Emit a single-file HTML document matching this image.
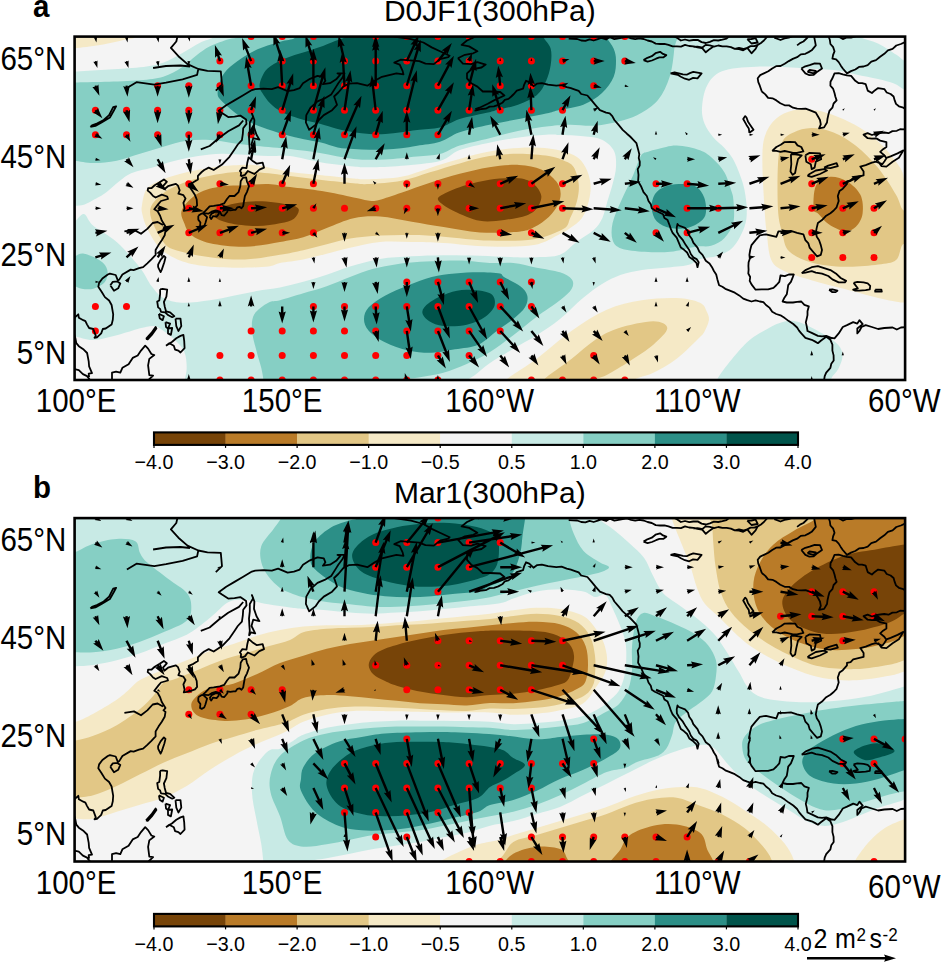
<!DOCTYPE html><html><head><meta charset="utf-8"><style>html,body{margin:0;padding:0;background:#fff;width:943px;height:962px;overflow:hidden}svg{display:block;font-family:"Liberation Sans",sans-serif}</style></head><body>
<svg width="943" height="962" viewBox="0 0 943 962">
<clipPath id="ca"><rect x="74.6" y="36.6" width="830.5" height="343.4"/></clipPath>
<g clip-path="url(#ca)">
<rect x="74.6" y="36.6" width="830.5" height="343.4" fill="#F4F4F4"/>
<g transform="translate(0,0)">
<path d="M68.0,71.5 C68.2,68.0 71.5,71.7 75.0,71.5 C81.2,71.2 94.2,70.4 105.0,69.7 C115.8,69.0 130.3,68.5 140.0,67.3 C149.7,66.1 156.0,65.0 163.0,62.7 C170.0,60.4 175.8,56.6 182.0,53.3 C188.2,50.0 194.7,45.5 200.0,42.8 C205.3,40.1 211.3,39.1 214.0,37.0 C216.7,34.9 212.4,30.0 216.0,30.0 C323.3,28.8 750.7,28.8 858.0,30.0 C861.6,30.0 857.0,35.0 860.0,37.0 C863.3,39.2 872.0,40.5 878.0,43.4 C884.0,46.3 891.5,51.6 896.0,54.5 C900.5,57.4 902.3,59.8 905.0,61.0 C907.7,62.2 911.2,58.6 912.0,62.0 C913.2,67.0 913.2,86.3 912.0,91.0 C911.1,94.4 908.0,91.2 905.0,90.0 C902.0,88.8 898.5,85.3 894.0,83.5 C889.5,81.7 884.3,80.5 878.0,79.0 C871.7,77.5 863.3,76.0 856.0,74.5 C848.7,73.0 843.3,71.2 834.0,70.1 C824.7,69.0 813.0,68.5 800.0,67.9 C787.0,67.3 769.0,66.2 756.0,66.7 C743.0,67.2 730.2,68.0 722.0,71.2 C713.8,74.4 710.3,79.6 707.0,85.7 C703.7,91.8 702.4,101.7 702.0,108.0 C701.6,114.3 702.7,118.7 704.5,123.5 C706.3,128.3 709.7,132.9 713.0,137.0 C716.3,141.1 721.2,144.3 724.5,148.0 C727.8,151.7 730.4,154.5 733.0,159.0 C735.6,163.5 738.1,169.8 740.0,175.0 C741.9,180.2 743.4,184.2 744.5,190.0 C745.6,195.8 746.8,203.9 746.8,210.0 C746.8,216.1 746.7,220.6 744.5,226.7 C742.3,232.8 737.9,242.0 733.4,246.8 C728.9,251.6 723.4,253.7 717.8,255.7 C712.2,257.7 705.0,257.4 700.0,259.0 C695.0,260.6 693.8,263.6 688.0,265.0 C682.2,266.4 672.7,266.9 665.0,267.7 C657.3,268.5 649.3,268.8 642.0,270.0 C634.7,271.2 627.7,272.4 621.0,274.7 C614.3,277.0 608.3,280.1 602.0,284.0 C595.7,287.9 590.0,292.2 583.0,298.0 C576.0,303.8 567.7,312.8 560.0,319.0 C552.3,325.2 544.8,330.0 537.0,335.0 C529.2,340.0 520.8,344.3 513.0,349.0 C505.2,353.7 496.3,358.7 490.0,363.0 C483.7,367.3 478.9,372.0 475.0,375.0 C471.1,378.0 468.2,378.8 466.7,381.0 C465.2,383.2 469.5,387.9 466.0,388.0 C418.9,389.2 230.9,389.0 184.0,388.0 C181.0,387.9 183.9,385.0 184.3,382.0 C184.8,378.7 186.7,373.1 186.7,368.0 C186.7,362.9 186.2,356.4 184.3,351.7 C182.4,347.0 178.5,343.5 175.0,340.0 C171.5,336.5 166.8,333.0 163.3,330.7 C159.8,328.4 157.9,326.4 154.0,326.0 C150.1,325.6 146.2,326.8 140.0,328.3 C133.8,329.9 124.5,333.4 116.7,335.3 C108.9,337.2 100.2,339.8 93.3,340.0 C86.3,340.2 79.2,337.1 75.0,336.5 C71.5,336.0 68.2,340.0 68.0,336.5 C66.8,317.2 66.8,240.2 68.0,221.0 C68.2,217.5 72.3,222.2 75.0,221.0 C77.7,219.8 81.0,213.2 84.0,214.0 C87.0,214.8 87.8,221.0 93.3,225.7 C98.8,230.4 108.9,235.0 116.7,242.0 C124.5,249.0 134.2,260.3 140.0,267.7 C145.8,275.1 147.8,281.2 151.7,286.3 C155.6,291.4 158.2,295.3 163.3,298.0 C168.4,300.7 174.2,302.3 182.0,302.7 C189.8,303.1 201.4,301.5 210.0,300.3 C218.6,299.1 225.5,297.2 233.3,295.7 C241.1,294.1 248.9,292.4 256.7,291.0 C264.5,289.6 272.2,289.1 280.0,287.5 C287.8,285.9 295.5,283.8 303.3,281.7 C311.1,279.6 318.9,277.2 326.7,274.7 C334.5,272.2 341.1,269.1 350.0,266.5 C358.9,263.9 369.7,260.6 380.0,258.9 C390.3,257.2 401.2,256.9 411.8,256.3 C422.4,255.7 432.2,255.3 443.6,255.2 C455.0,255.1 468.4,255.4 480.0,255.7 C491.6,256.0 503.8,256.9 513.3,257.2 C522.8,257.4 528.9,257.6 536.7,257.2 C544.5,256.8 553.3,257.4 560.0,254.8 C566.7,252.2 571.3,245.8 577.0,241.6 C582.7,237.4 589.8,233.6 594.0,229.7 C598.2,225.8 600.1,222.7 602.4,217.9 C604.6,213.1 605.8,206.6 607.5,200.9 C609.2,195.2 611.2,189.7 612.6,184.0 C614.0,178.3 615.8,172.5 616.0,167.0 C616.2,161.5 616.3,155.6 614.0,151.0 C611.7,146.4 607.1,142.2 602.0,139.7 C596.9,137.2 590.3,137.0 583.3,136.2 C576.3,135.4 565.8,135.3 560.0,135.0 C554.4,134.7 554.4,134.2 548.8,134.5 C542.0,134.9 528.9,136.1 519.0,137.5 C509.1,138.9 499.3,140.6 489.4,142.7 C479.5,144.8 467.9,147.1 459.7,150.1 C451.5,153.1 449.7,158.3 440.0,160.9 C430.3,163.5 413.1,164.6 401.3,165.7 C389.6,166.8 377.4,167.2 369.5,167.3 C361.6,167.4 361.5,167.3 353.6,166.5 C345.7,165.7 332.4,164.2 321.8,162.5 C311.2,160.8 298.9,157.2 290.0,156.1 C281.1,155.0 275.8,156.2 268.3,156.0 C260.8,155.8 252.8,155.2 245.0,154.8 C237.2,154.4 229.5,153.5 221.7,153.7 C213.9,153.9 206.1,154.8 198.3,156.0 C190.5,157.2 182.8,158.8 175.0,160.7 C167.2,162.6 159.5,165.4 151.7,167.7 C143.9,170.0 136.1,170.4 128.3,174.7 C120.5,179.0 110.8,189.1 105.0,193.3 C99.5,197.2 96.8,198.1 93.3,200.0 C89.8,201.9 87.0,203.7 84.0,204.7 C81.0,205.7 77.7,205.6 75.0,205.8 C72.3,206.0 68.2,209.3 68.0,205.8 C66.8,183.4 66.8,93.9 68.0,71.5Z" fill="#C8EAE5"/>
<path d="M717.8,388.0 C712.9,387.6 715.2,382.4 717.8,378.2 C722.2,371.0 736.3,353.0 744.5,344.8 C752.7,336.6 760.1,333.1 766.8,329.2 C773.5,325.3 779.0,322.5 784.6,321.4 C790.2,320.3 793.9,320.5 800.2,322.5 C806.5,324.5 816.2,329.9 822.5,333.6 C828.8,337.3 834.8,341.1 838.1,344.8 C841.4,348.5 842.5,351.8 842.5,355.9 C842.5,360.0 840.0,365.6 838.1,369.3 C836.2,373.0 832.6,375.1 831.4,378.2 C830.2,381.3 835.9,387.6 831.0,388.0 C812.1,389.6 736.7,389.6 717.8,388.0Z" fill="#C8EAE5"/>
<path d="M68.0,82.5 C68.3,79.0 71.5,82.6 75.0,82.5 C81.2,82.4 94.2,82.2 105.0,81.8 C115.8,81.4 130.3,81.0 140.0,80.2 C149.7,79.4 156.3,78.9 163.3,76.7 C170.3,74.5 176.6,70.8 182.0,67.3 C187.4,63.8 191.3,59.2 196.0,55.7 C200.7,52.2 204.6,49.0 210.0,46.3 C215.4,43.6 224.0,40.8 228.7,39.3 C233.2,37.8 236.1,38.5 238.0,37.0 C239.9,35.5 236.4,30.1 240.0,30.0 C312.7,28.8 601.6,26.9 674.0,30.0 C683.3,30.4 675.0,40.9 674.3,48.7 C673.6,56.5 672.4,68.2 669.7,76.7 C667.0,85.2 663.1,93.8 658.0,100.0 C652.9,106.2 645.5,110.5 639.3,114.0 C633.1,117.5 628.1,119.0 620.7,121.0 C613.3,123.0 603.5,125.1 595.0,125.7 C586.5,126.3 577.7,124.7 570.0,124.8 C562.3,124.9 557.3,125.3 548.8,126.3 C540.3,127.3 528.9,128.8 519.0,130.8 C509.1,132.8 499.3,135.7 489.4,138.2 C479.5,140.7 467.9,143.0 459.7,145.6 C451.5,148.2 447.1,152.2 440.0,154.0 C432.9,155.8 426.2,155.6 417.0,156.5 C407.8,157.4 395.6,159.1 385.0,159.5 C374.4,159.9 364.4,160.1 353.6,159.0 C342.8,157.9 330.6,154.7 320.0,153.0 C309.4,151.3 300.6,150.2 290.0,149.0 C279.4,147.8 266.1,147.0 256.7,146.0 C247.2,145.0 241.1,144.2 233.3,143.2 C225.5,142.2 217.8,140.4 210.0,140.0 C202.2,139.6 194.5,139.7 186.7,140.8 C178.9,141.9 171.1,144.5 163.3,146.7 C155.5,148.8 147.8,151.4 140.0,153.7 C132.2,156.0 124.5,159.1 116.7,160.7 C108.9,162.2 100.2,163.0 93.3,163.0 C86.3,163.0 79.2,161.1 75.0,160.7 C71.5,160.4 68.3,164.2 68.0,160.7 C66.8,147.7 66.8,95.5 68.0,82.5Z" fill="#86CFC4"/>
<path d="M648.2,151.7 C645.4,152.7 643.5,151.9 641.4,155.1 C638.9,159.1 636.4,167.8 633.0,175.4 C629.6,183.0 624.5,193.0 621.1,200.9 C617.7,208.8 614.0,216.5 612.6,223.0 C611.2,229.5 611.2,235.8 612.6,240.0 C614.0,244.2 615.7,246.4 621.1,248.4 C626.5,250.4 636.6,251.2 644.8,251.8 C653.0,252.4 661.8,252.7 670.3,251.8 C678.8,251.0 688.9,247.7 695.7,246.7 C702.5,245.7 706.3,247.2 711.1,245.7 C715.9,244.2 720.8,241.8 724.5,237.9 C728.2,234.0 731.9,228.6 733.4,222.3 C734.9,216.0 733.8,205.3 733.4,200.0 C733.1,195.1 732.7,195.0 731.2,190.4 C729.7,185.8 727.5,177.7 724.5,172.5 C721.5,167.3 717.5,162.9 713.4,159.2 C709.3,155.5 706.1,152.6 700.0,150.3 C693.9,148.0 683.7,145.7 676.7,145.5 C669.7,145.3 662.8,148.0 658.0,149.0 C653.2,150.0 651.0,150.7 648.2,151.7Z" fill="#86CFC4"/>
<path d="M68.0,256.0 C68.7,252.7 72.0,256.4 74.7,256.0 C77.4,255.6 79.7,252.9 84.0,253.7 C88.3,254.5 96.4,258.0 100.3,260.7 C104.2,263.4 106.5,266.5 107.3,270.0 C108.1,273.5 107.3,278.6 105.0,281.7 C102.7,284.8 97.2,287.5 93.3,288.7 C89.4,289.9 84.8,289.1 81.7,288.7 C78.6,288.3 77.0,286.7 74.7,286.3 C72.4,285.9 68.7,289.6 68.0,286.3 C66.9,281.2 66.9,261.1 68.0,256.0Z" fill="#86CFC4"/>
<path d="M280.0,300.3 C285.8,298.7 295.5,295.6 303.3,293.3 C311.1,291.0 318.9,289.0 326.7,286.3 C334.5,283.6 342.2,279.9 350.0,277.0 C357.8,274.1 365.5,270.9 373.3,268.8 C381.1,266.7 388.9,265.4 396.7,264.2 C404.5,263.0 412.2,262.4 420.0,261.8 C427.8,261.2 435.5,260.9 443.3,260.7 C451.1,260.5 458.9,260.3 466.7,260.7 C474.5,261.1 482.2,262.6 490.0,263.0 C497.8,263.4 505.5,262.2 513.3,263.0 C521.1,263.8 528.9,266.1 536.7,267.7 C544.5,269.2 554.2,270.4 560.0,272.3 C565.8,274.2 569.8,276.6 571.7,279.3 C573.7,282.0 573.7,285.2 571.7,288.7 C569.8,292.2 565.8,295.6 560.0,300.3 C554.2,305.0 544.5,310.9 536.7,316.7 C528.9,322.5 521.1,329.4 513.3,335.3 C505.5,341.2 497.8,347.2 490.0,352.0 C482.2,356.8 474.5,360.6 466.7,364.0 C458.9,367.4 451.1,370.5 443.3,372.7 C435.5,374.9 427.8,375.9 420.0,377.3 C412.2,378.7 400.7,379.2 396.7,381.0 C393.5,382.4 399.5,387.8 396.0,388.0 C373.8,389.2 285.8,389.0 263.7,388.0 C260.7,387.9 264.1,385.0 263.7,382.0 C263.3,378.7 262.5,373.1 261.3,368.0 C260.1,362.9 258.2,357.9 256.7,351.7 C255.1,345.5 252.4,336.9 252.0,330.7 C251.6,324.5 251.6,319.0 254.3,314.3 C257.0,309.6 264.0,305.0 268.3,302.7 C272.6,300.4 274.2,301.8 280.0,300.3Z" fill="#86CFC4"/>
<path d="M217.6,92.8 C217.6,89.6 218.7,84.4 220.3,80.6 C221.9,76.8 223.6,73.4 227.0,69.8 C230.4,66.2 236.0,62.1 240.5,59.0 C245.0,55.9 249.6,53.1 254.1,50.9 C258.6,48.6 263.1,47.1 267.6,45.5 C272.1,43.9 276.6,42.6 281.1,41.4 C285.6,40.1 292.1,39.9 294.6,38.0 C297.1,36.1 291.9,30.1 296.0,30.0 C347.9,28.7 554.2,28.8 606.0,30.0 C609.8,30.1 605.4,34.4 606.7,37.5 C608.0,40.6 612.2,44.9 613.7,48.7 C615.2,52.5 616.0,55.6 616.0,60.3 C616.0,65.0 616.0,71.2 613.7,76.7 C611.4,82.2 607.1,88.3 602.0,93.0 C596.9,97.7 590.5,101.9 583.3,104.7 C576.1,107.5 564.8,108.6 559.0,110.0 C553.8,111.2 554.0,111.8 548.8,113.0 C542.1,114.5 528.9,116.9 519.0,118.9 C509.1,120.9 499.3,122.6 489.4,124.8 C479.5,127.0 467.9,129.5 459.7,132.3 C451.5,135.1 447.1,139.6 440.0,141.8 C432.9,144.1 423.6,144.7 417.2,145.8 C410.8,146.9 406.6,147.6 401.3,148.2 C396.0,148.8 390.7,149.1 385.4,149.4 C380.1,149.7 374.8,149.9 369.5,149.8 C364.2,149.7 358.9,149.4 353.6,149.0 C348.3,148.6 343.1,148.5 337.7,147.4 C332.3,146.3 325.9,143.7 321.0,142.5 C316.1,141.3 313.2,141.1 308.0,140.0 C302.8,138.9 296.7,137.8 290.0,136.0 C283.3,134.2 274.7,131.7 267.6,129.2 C260.5,126.7 252.9,124.0 247.3,121.1 C241.7,118.2 238.3,115.3 233.8,111.7 C229.3,108.1 223.0,102.7 220.3,99.5 C217.9,96.8 217.6,96.0 217.6,92.8Z" fill="#2C8F87"/>
<path d="M651.6,207.7 C651.3,203.2 652.7,197.6 655.0,194.1 C657.3,190.6 661.2,188.2 665.2,186.5 C669.2,184.8 673.7,183.9 678.8,183.9 C683.9,183.9 691.5,184.2 695.7,186.5 C699.9,188.8 702.5,193.1 704.2,197.5 C705.9,201.9 706.5,208.8 705.9,212.8 C705.3,216.8 703.9,218.8 700.8,221.3 C697.7,223.8 692.3,226.9 687.2,228.0 C682.1,229.1 675.4,229.1 670.3,228.0 C665.2,226.9 659.8,224.7 656.7,221.3 C653.6,217.9 651.9,212.2 651.6,207.7Z" fill="#2C8F87"/>
<path d="M364.0,319.0 C364.0,315.1 365.2,311.2 368.7,307.3 C372.2,303.4 378.4,299.4 385.0,295.7 C391.6,292.0 400.5,288.3 408.3,285.2 C416.1,282.1 423.9,278.9 431.7,277.0 C439.5,275.1 447.2,274.3 455.0,273.5 C462.8,272.7 470.8,272.3 478.3,272.3 C485.8,272.3 495.7,272.7 500.0,273.5 C502.6,274.0 501.8,275.6 504.0,277.0 C507.4,279.1 516.4,283.2 520.3,286.3 C524.2,289.4 526.5,292.2 527.3,295.7 C528.1,299.2 527.3,303.4 525.0,307.3 C522.7,311.2 518.0,315.1 513.3,319.0 C508.6,322.9 502.8,326.4 497.0,330.7 C491.2,335.0 485.3,341.6 478.3,344.7 C471.3,347.8 462.8,347.9 455.0,349.3 C447.2,350.7 439.5,352.6 431.7,352.8 C423.9,353.0 416.1,352.2 408.3,350.5 C400.5,348.8 391.6,345.6 385.0,342.3 C378.4,339.0 372.2,334.6 368.7,330.7 C365.2,326.8 364.0,322.9 364.0,319.0Z" fill="#2C8F87"/>
<path d="M259.5,86.0 C259.5,83.3 260.8,79.4 262.2,76.5 C263.6,73.6 264.5,71.1 267.6,68.4 C270.8,65.7 276.6,62.5 281.1,60.3 C285.6,58.0 290.1,56.5 294.6,54.9 C299.1,53.3 303.9,52.2 308.1,50.9 C312.3,49.6 315.5,48.6 320.0,47.0 C324.5,45.4 330.8,42.7 335.0,41.0 C339.2,39.3 343.0,38.8 345.0,37.0 C347.0,35.2 343.4,30.1 347.0,30.0 C380.0,28.8 510.2,28.8 543.0,30.0 C546.8,30.1 542.4,34.4 543.7,37.5 C545.0,40.6 549.5,44.1 550.7,48.7 C551.9,53.3 551.5,59.6 550.7,65.0 C549.9,70.4 548.3,76.2 546.0,81.3 C543.7,86.3 541.4,91.4 536.7,95.3 C532.0,99.2 524.6,102.2 518.0,104.7 C511.4,107.2 501.6,108.8 496.8,110.0 C493.1,111.0 493.2,111.3 489.4,112.2 C483.2,113.7 467.9,116.4 459.7,118.9 C451.5,121.5 447.1,125.7 440.0,127.5 C432.9,129.3 423.6,129.1 417.2,129.9 C410.8,130.7 406.6,131.6 401.3,132.3 C396.0,133.0 390.7,133.6 385.4,133.9 C380.1,134.2 374.8,134.2 369.5,133.9 C364.2,133.6 358.9,133.1 353.6,132.3 C348.3,131.5 343.3,130.5 337.7,129.1 C332.1,127.7 324.9,125.1 320.0,123.8 C315.1,122.5 312.3,122.2 308.1,121.1 C303.9,120.0 299.1,118.7 294.6,117.1 C290.1,115.5 285.2,114.0 281.1,111.7 C277.1,109.5 273.5,106.8 270.3,103.6 C267.1,100.4 264.0,95.7 262.2,92.8 C260.4,89.9 259.5,88.7 259.5,86.0Z" fill="#00544B"/>
<path d="M422.3,312.0 C422.3,308.9 425.0,305.8 429.3,302.7 C433.6,299.6 441.8,295.4 448.0,293.3 C454.2,291.2 459.7,289.8 466.7,289.8 C473.7,289.8 485.3,290.8 490.0,293.3 C494.7,295.8 495.5,301.1 494.7,305.0 C493.9,308.9 490.0,313.4 485.3,316.7 C480.6,320.0 473.7,323.2 466.7,324.8 C459.7,326.4 449.5,326.6 443.3,326.0 C437.1,325.4 432.8,323.6 429.3,321.3 C425.8,319.0 422.3,315.1 422.3,312.0Z" fill="#00544B"/>
<path d="M68.0,30.0 C79.3,27.0 124.7,28.8 136.0,30.0 C139.5,30.4 137.7,35.4 136.0,37.0 C134.3,38.6 131.0,38.4 126.0,39.5 C120.0,40.8 108.5,43.5 100.0,45.0 C91.5,46.5 80.3,47.7 75.0,48.2 C71.5,48.5 69.2,51.2 68.0,48.2 C66.8,45.2 59.2,32.4 68.0,30.0Z" fill="#F5E9C6"/>
<path d="M142.0,205.0 C142.8,200.8 143.4,193.0 147.0,188.7 C150.6,184.4 156.7,182.0 163.3,179.3 C169.9,176.6 178.9,174.2 186.7,172.3 C194.5,170.4 202.2,168.9 210.0,167.7 C217.8,166.5 225.5,165.7 233.3,165.3 C241.1,164.9 247.2,164.2 256.7,165.3 C266.1,166.4 279.1,170.3 290.0,172.0 C300.9,173.7 311.2,174.1 321.8,175.2 C332.4,176.3 345.7,177.7 353.6,178.4 C361.5,179.1 361.6,179.5 369.5,179.2 C377.4,178.9 391.2,178.7 401.3,176.8 C411.4,174.9 420.3,170.9 430.0,167.9 C439.7,164.9 449.8,161.7 459.7,159.0 C469.6,156.3 479.5,153.4 489.4,151.6 C499.3,149.8 509.1,148.4 519.0,147.9 C528.9,147.4 539.7,147.4 548.8,148.6 C557.9,149.8 567.5,152.0 573.6,155.1 C579.7,158.2 582.6,162.2 585.4,167.0 C588.2,171.8 589.9,178.3 590.5,184.0 C591.1,189.7 590.2,195.2 588.8,200.9 C587.4,206.6 585.1,213.4 582.0,217.9 C578.9,222.4 573.9,225.3 570.2,228.0 C566.5,230.7 565.4,231.5 560.0,234.0 C554.0,236.8 545.7,243.0 533.9,245.1 C522.1,247.2 504.4,246.9 489.4,246.6 C474.3,246.2 456.5,243.8 443.6,243.0 C430.7,242.2 422.4,242.2 411.8,242.0 C401.2,241.8 390.3,241.0 380.0,242.0 C369.7,243.0 358.9,245.9 350.0,247.8 C341.1,249.8 334.5,251.8 326.7,253.7 C318.9,255.6 311.1,257.9 303.3,259.5 C295.5,261.1 285.8,261.8 280.0,263.0 C274.2,264.2 274.4,265.9 268.3,266.5 C260.5,267.3 245.0,267.9 233.3,267.7 C221.6,267.5 208.0,266.9 198.3,265.3 C188.6,263.7 181.6,261.4 175.0,258.3 C168.4,255.2 163.4,251.8 158.7,246.7 C154.0,241.6 149.7,233.4 147.0,228.0 C144.3,222.6 143.1,217.8 142.3,214.0 C141.5,210.2 141.2,209.2 142.0,205.0Z" fill="#F5E9C6"/>
<path d="M506.3,388.0 C502.2,387.7 503.3,382.6 506.3,379.7 C511.4,374.8 525.8,366.9 536.7,358.7 C547.6,350.5 560.0,338.9 571.7,330.7 C583.4,322.5 595.0,314.8 606.7,309.7 C618.4,304.6 630.0,302.2 641.7,300.3 C653.4,298.4 667.0,297.6 676.7,298.0 C686.4,298.4 695.0,300.5 700.0,302.7 C705.0,304.9 705.2,308.5 706.7,311.4 C708.2,314.3 709.3,317.0 708.9,320.3 C708.5,323.6 706.0,328.6 704.5,331.4 C703.0,334.2 702.6,334.5 700.0,337.0 C695.4,341.6 684.5,352.8 676.7,358.7 C668.9,364.6 660.3,369.2 653.3,372.7 C646.3,376.2 637.9,377.1 634.7,379.7 C631.5,382.2 638.2,387.7 634.0,388.0 C612.6,389.4 527.6,389.4 506.3,388.0Z" fill="#F5E9C6"/>
<path d="M764.6,210.0 C763.9,198.4 762.4,175.8 762.4,163.6 C762.4,151.4 762.4,144.3 764.6,136.9 C766.8,129.5 770.9,123.5 775.7,119.1 C780.5,114.6 786.8,111.7 793.5,110.2 C800.2,108.7 808.4,109.1 815.8,110.2 C823.2,111.3 830.7,113.9 838.1,116.9 C845.5,119.9 853.0,123.2 860.4,128.0 C867.8,132.8 875.9,139.1 882.6,145.8 C889.3,152.5 896.7,162.2 900.4,168.1 C904.1,174.0 903.1,179.2 905.0,181.4 C906.9,183.6 911.8,177.9 912.0,181.4 C913.2,201.6 913.2,282.2 912.0,302.4 C911.8,305.9 906.9,302.4 905.0,302.4 C903.1,302.4 902.7,302.8 900.4,302.4 C895.9,301.7 887.5,300.2 878.2,298.0 C868.9,295.8 855.9,292.1 844.8,289.1 C833.7,286.1 821.4,283.2 811.4,280.2 C801.4,277.2 791.3,274.6 784.6,271.3 C777.9,268.0 774.3,266.4 771.3,260.1 C768.3,253.8 767.9,241.8 766.8,233.4 C765.7,225.1 765.3,221.6 764.6,210.0Z" fill="#F5E9C6"/>
<path d="M150.0,212.0 C150.0,203.9 157.2,198.4 163.3,193.3 C169.4,188.2 178.9,184.6 186.7,181.7 C194.5,178.8 202.2,177.4 210.0,175.8 C217.8,174.2 225.5,172.9 233.3,172.3 C241.1,171.7 247.2,171.7 256.7,172.3 C266.1,172.9 279.1,174.7 290.0,176.0 C300.9,177.3 311.2,178.8 321.8,180.0 C332.4,181.2 345.7,182.5 353.6,183.2 C361.5,183.9 361.6,184.4 369.5,184.0 C377.4,183.6 391.2,182.8 401.3,180.8 C411.4,178.9 420.3,175.2 430.0,172.3 C439.7,169.4 449.8,166.1 459.7,163.4 C469.6,160.7 479.5,157.6 489.4,156.0 C499.3,154.4 509.1,153.8 519.0,153.8 C528.9,153.8 541.4,154.9 548.8,156.0 C556.2,157.1 559.5,158.7 563.6,160.5 C567.7,162.3 571.1,163.1 573.6,167.0 C576.1,170.9 578.1,178.3 578.7,184.0 C579.3,189.7 578.4,195.2 577.0,200.9 C575.6,206.6 572.4,213.2 570.2,217.9 C568.0,222.6 569.1,225.6 563.6,228.8 C557.5,232.4 546.3,237.2 533.9,239.2 C521.5,241.2 504.4,241.0 489.4,240.6 C474.3,240.2 456.5,237.6 443.6,236.7 C430.7,235.8 422.4,235.3 411.8,235.1 C401.2,234.9 390.3,235.0 380.0,235.6 C369.7,236.2 358.9,237.1 350.0,238.5 C341.1,239.9 334.5,242.4 326.7,244.3 C318.9,246.2 311.1,248.4 303.3,250.2 C295.5,251.9 289.7,253.2 280.0,254.8 C270.3,256.4 256.7,259.1 245.0,259.5 C233.3,259.9 220.9,258.6 210.0,257.2 C199.1,255.8 187.5,253.8 179.7,251.3 C171.9,248.8 168.2,248.6 163.3,242.0 C158.4,235.4 150.0,220.1 150.0,212.0Z" fill="#E2C786"/>
<path d="M543.7,388.0 C539.6,387.3 540.8,382.7 543.7,379.7 C548.4,374.8 563.2,365.3 571.7,358.7 C580.2,352.1 587.2,345.1 595.0,340.0 C602.8,334.9 608.6,331.4 618.3,328.3 C628.0,325.2 645.1,321.3 653.3,321.3 C661.1,321.3 667.3,324.4 667.3,328.3 C667.3,332.2 659.5,339.2 653.3,344.7 C647.1,350.1 637.8,355.9 630.0,361.0 C622.2,366.1 612.5,371.9 606.7,375.0 C601.1,378.0 597.0,377.5 595.0,379.7 C593.0,381.9 599.1,387.3 595.0,388.0 C586.5,389.4 552.2,389.4 543.7,388.0Z" fill="#E2C786"/>
<path d="M778.0,210.0 C777.3,198.4 777.3,175.0 778.0,163.6 C778.7,152.3 779.8,146.6 782.4,141.4 C785.0,136.2 788.7,134.6 793.5,132.4 C798.3,130.2 804.7,128.0 811.4,128.0 C818.1,128.0 826.2,129.4 833.6,132.4 C841.0,135.4 848.5,139.9 855.9,145.8 C863.3,151.8 871.5,159.9 878.2,168.1 C884.9,176.3 891.9,187.8 896.0,194.8 C900.1,201.8 900.3,207.5 903.0,210.0 C905.7,212.5 910.8,205.6 912.0,210.0 C913.5,215.7 913.5,238.2 912.0,244.0 C910.8,248.5 905.4,241.8 902.7,244.5 C900.0,247.2 900.1,256.8 896.0,260.1 C891.9,263.5 886.7,263.5 878.2,264.6 C869.7,265.7 855.9,267.2 844.8,266.8 C833.7,266.4 820.7,265.0 811.4,262.4 C802.1,259.8 793.9,256.0 789.1,251.2 C784.3,246.4 784.2,240.3 782.4,233.4 C780.5,226.5 778.7,221.6 778.0,210.0Z" fill="#E2C786"/>
<path d="M182.0,209.7 C184.3,204.7 191.7,197.2 198.3,193.3 C204.9,189.4 213.9,187.7 221.7,186.3 C229.5,185.0 237.2,185.6 245.0,185.2 C252.8,184.8 260.8,183.7 268.3,184.0 C275.8,184.3 281.1,185.9 290.0,187.1 C298.9,188.3 311.2,189.4 321.8,191.1 C332.4,192.8 345.7,195.9 353.6,197.5 C361.6,199.1 365.2,200.3 369.5,200.7 C373.8,201.1 374.4,201.1 379.1,199.9 C384.4,198.6 392.8,195.6 401.3,192.7 C409.8,189.8 420.3,185.8 430.0,182.7 C439.7,179.5 449.8,176.4 459.7,173.8 C469.6,171.2 479.5,168.7 489.4,167.2 C499.3,165.7 510.4,164.5 519.0,164.9 C527.6,165.3 535.1,166.7 541.3,169.4 C547.5,172.1 553.0,177.4 556.2,181.3 C559.4,185.2 560.4,189.2 560.6,193.1 C560.9,197.0 559.7,201.0 557.7,205.0 C555.7,209.0 552.8,213.2 548.8,216.9 C544.8,220.6 538.9,224.8 533.9,227.3 C528.9,229.8 526.7,231.0 519.0,231.7 C510.0,232.5 492.6,233.2 480.0,232.4 C467.4,231.6 455.0,228.9 443.6,227.1 C432.2,225.3 422.4,223.6 411.8,221.8 C401.2,220.0 389.7,217.1 380.0,216.5 C370.3,215.9 362.5,216.3 353.6,218.2 C344.7,220.1 335.1,224.8 326.7,228.0 C318.3,231.2 311.1,235.0 303.3,237.3 C295.5,239.6 289.7,240.4 280.0,242.0 C270.3,243.6 256.7,246.5 245.0,246.7 C233.3,246.9 218.9,245.1 210.0,243.2 C201.1,241.2 195.6,238.3 191.3,235.0 C187.0,231.7 185.9,227.5 184.3,223.3 C182.8,219.1 179.7,214.7 182.0,209.7Z" fill="#B97B28"/>
<path d="M813.6,210.0 C813.2,205.4 813.2,191.4 815.8,185.9 C818.4,180.4 824.0,177.8 829.2,177.0 C834.4,176.2 841.8,178.4 847.0,181.4 C852.2,184.4 857.8,189.5 860.4,194.8 C863.0,200.1 863.4,208.1 862.6,213.4 C861.9,218.7 858.9,223.7 855.9,226.7 C852.9,229.7 849.2,231.6 844.8,231.2 C840.3,230.8 833.7,227.5 829.2,224.5 C824.7,221.5 820.6,215.8 818.0,213.4 C816.0,211.5 813.8,212.8 813.6,210.0Z" fill="#B97B28"/>
<path d="M214.7,216.0 C214.1,213.2 218.2,208.4 225.0,206.0 C232.0,203.5 246.0,201.4 256.7,201.2 C267.4,201.0 282.3,203.3 289.3,204.7 C294.4,205.7 297.9,207.0 298.7,209.3 C299.5,211.6 297.1,216.4 294.0,218.7 C290.9,221.0 286.2,222.1 280.0,223.3 C273.8,224.5 265.2,226.1 256.7,226.0 C248.1,225.9 235.7,224.7 228.7,223.0 C221.7,221.3 215.3,218.8 214.7,216.0Z" fill="#774408"/>
<path d="M439.4,196.4 C442.8,194.0 451.4,190.0 459.7,187.2 C468.0,184.4 479.5,181.3 489.4,179.8 C499.3,178.3 511.6,177.6 519.0,178.3 C526.4,179.0 530.2,181.2 533.9,184.2 C537.6,187.2 540.8,192.1 541.3,196.1 C541.8,200.1 539.4,204.8 536.9,208.0 C534.4,211.2 532.0,213.4 526.5,215.4 C521.0,217.4 511.9,219.0 504.2,219.9 C496.4,220.8 488.3,222.2 480.0,220.8 C471.7,219.4 461.0,214.4 454.2,211.2 C447.4,208.0 441.9,204.2 439.4,201.7 C437.5,199.8 437.2,197.9 439.4,196.4Z" fill="#774408"/>

<g fill="#f00"><circle cx="251.1" cy="36.6" r="3.5"/><circle cx="282.2" cy="36.6" r="3.5"/><circle cx="313.4" cy="36.6" r="3.5"/><circle cx="375.7" cy="36.6" r="3.5"/><circle cx="406.8" cy="36.6" r="3.5"/><circle cx="437.9" cy="36.6" r="3.5"/><circle cx="469.1" cy="36.6" r="3.5"/><circle cx="500.2" cy="36.6" r="3.5"/><circle cx="531.4" cy="36.6" r="3.5"/><circle cx="562.5" cy="36.6" r="3.5"/><circle cx="593.7" cy="36.6" r="3.5"/><circle cx="624.8" cy="36.6" r="3.5"/><circle cx="219.9" cy="61.1" r="3.5"/><circle cx="251.1" cy="61.1" r="3.5"/><circle cx="282.2" cy="61.1" r="3.5"/><circle cx="313.4" cy="61.1" r="3.5"/><circle cx="344.5" cy="61.1" r="3.5"/><circle cx="375.7" cy="61.1" r="3.5"/><circle cx="406.8" cy="61.1" r="3.5"/><circle cx="437.9" cy="61.1" r="3.5"/><circle cx="469.1" cy="61.1" r="3.5"/><circle cx="500.2" cy="61.1" r="3.5"/><circle cx="531.4" cy="61.1" r="3.5"/><circle cx="562.5" cy="61.1" r="3.5"/><circle cx="593.7" cy="61.1" r="3.5"/><circle cx="624.8" cy="61.1" r="3.5"/><circle cx="157.6" cy="85.7" r="3.5"/><circle cx="188.8" cy="85.7" r="3.5"/><circle cx="219.9" cy="85.7" r="3.5"/><circle cx="251.1" cy="85.7" r="3.5"/><circle cx="282.2" cy="85.7" r="3.5"/><circle cx="313.4" cy="85.7" r="3.5"/><circle cx="344.5" cy="85.7" r="3.5"/><circle cx="375.7" cy="85.7" r="3.5"/><circle cx="406.8" cy="85.7" r="3.5"/><circle cx="437.9" cy="85.7" r="3.5"/><circle cx="469.1" cy="85.7" r="3.5"/><circle cx="500.2" cy="85.7" r="3.5"/><circle cx="531.4" cy="85.7" r="3.5"/><circle cx="562.5" cy="85.7" r="3.5"/><circle cx="593.7" cy="85.7" r="3.5"/><circle cx="95.4" cy="110.2" r="3.5"/><circle cx="126.5" cy="110.2" r="3.5"/><circle cx="157.6" cy="110.2" r="3.5"/><circle cx="188.8" cy="110.2" r="3.5"/><circle cx="219.9" cy="110.2" r="3.5"/><circle cx="251.1" cy="110.2" r="3.5"/><circle cx="282.2" cy="110.2" r="3.5"/><circle cx="313.4" cy="110.2" r="3.5"/><circle cx="344.5" cy="110.2" r="3.5"/><circle cx="375.7" cy="110.2" r="3.5"/><circle cx="406.8" cy="110.2" r="3.5"/><circle cx="437.9" cy="110.2" r="3.5"/><circle cx="469.1" cy="110.2" r="3.5"/><circle cx="500.2" cy="110.2" r="3.5"/><circle cx="531.4" cy="110.2" r="3.5"/><circle cx="562.5" cy="110.2" r="3.5"/><circle cx="95.4" cy="134.7" r="3.5"/><circle cx="126.5" cy="134.7" r="3.5"/><circle cx="157.6" cy="134.7" r="3.5"/><circle cx="188.8" cy="134.7" r="3.5"/><circle cx="219.9" cy="134.7" r="3.5"/><circle cx="251.1" cy="134.7" r="3.5"/><circle cx="282.2" cy="134.7" r="3.5"/><circle cx="313.4" cy="134.7" r="3.5"/><circle cx="344.5" cy="134.7" r="3.5"/><circle cx="375.7" cy="134.7" r="3.5"/><circle cx="406.8" cy="134.7" r="3.5"/><circle cx="437.9" cy="134.7" r="3.5"/><circle cx="811.7" cy="159.2" r="3.5"/><circle cx="188.8" cy="183.8" r="3.5"/><circle cx="219.9" cy="183.8" r="3.5"/><circle cx="251.1" cy="183.8" r="3.5"/><circle cx="282.2" cy="183.8" r="3.5"/><circle cx="313.4" cy="183.8" r="3.5"/><circle cx="406.8" cy="183.8" r="3.5"/><circle cx="437.9" cy="183.8" r="3.5"/><circle cx="469.1" cy="183.8" r="3.5"/><circle cx="500.2" cy="183.8" r="3.5"/><circle cx="531.4" cy="183.8" r="3.5"/><circle cx="562.5" cy="183.8" r="3.5"/><circle cx="656.0" cy="183.8" r="3.5"/><circle cx="687.1" cy="183.8" r="3.5"/><circle cx="811.7" cy="183.8" r="3.5"/><circle cx="842.8" cy="183.8" r="3.5"/><circle cx="188.8" cy="208.3" r="3.5"/><circle cx="219.9" cy="208.3" r="3.5"/><circle cx="251.1" cy="208.3" r="3.5"/><circle cx="282.2" cy="208.3" r="3.5"/><circle cx="313.4" cy="208.3" r="3.5"/><circle cx="344.5" cy="208.3" r="3.5"/><circle cx="375.7" cy="208.3" r="3.5"/><circle cx="406.8" cy="208.3" r="3.5"/><circle cx="437.9" cy="208.3" r="3.5"/><circle cx="469.1" cy="208.3" r="3.5"/><circle cx="500.2" cy="208.3" r="3.5"/><circle cx="531.4" cy="208.3" r="3.5"/><circle cx="562.5" cy="208.3" r="3.5"/><circle cx="656.0" cy="208.3" r="3.5"/><circle cx="687.1" cy="208.3" r="3.5"/><circle cx="718.2" cy="208.3" r="3.5"/><circle cx="811.7" cy="208.3" r="3.5"/><circle cx="842.8" cy="208.3" r="3.5"/><circle cx="874.0" cy="208.3" r="3.5"/><circle cx="188.8" cy="232.8" r="3.5"/><circle cx="219.9" cy="232.8" r="3.5"/><circle cx="251.1" cy="232.8" r="3.5"/><circle cx="282.2" cy="232.8" r="3.5"/><circle cx="313.4" cy="232.8" r="3.5"/><circle cx="500.2" cy="232.8" r="3.5"/><circle cx="531.4" cy="232.8" r="3.5"/><circle cx="656.0" cy="232.8" r="3.5"/><circle cx="687.1" cy="232.8" r="3.5"/><circle cx="811.7" cy="232.8" r="3.5"/><circle cx="842.8" cy="232.8" r="3.5"/><circle cx="874.0" cy="232.8" r="3.5"/><circle cx="811.7" cy="257.4" r="3.5"/><circle cx="842.8" cy="257.4" r="3.5"/><circle cx="874.0" cy="257.4" r="3.5"/><circle cx="406.8" cy="281.9" r="3.5"/><circle cx="437.9" cy="281.9" r="3.5"/><circle cx="469.1" cy="281.9" r="3.5"/><circle cx="500.2" cy="281.9" r="3.5"/><circle cx="531.4" cy="281.9" r="3.5"/><circle cx="95.4" cy="306.4" r="3.5"/><circle cx="126.5" cy="306.4" r="3.5"/><circle cx="313.4" cy="306.4" r="3.5"/><circle cx="344.5" cy="306.4" r="3.5"/><circle cx="375.7" cy="306.4" r="3.5"/><circle cx="406.8" cy="306.4" r="3.5"/><circle cx="437.9" cy="306.4" r="3.5"/><circle cx="469.1" cy="306.4" r="3.5"/><circle cx="500.2" cy="306.4" r="3.5"/><circle cx="531.4" cy="306.4" r="3.5"/><circle cx="95.4" cy="331.0" r="3.5"/><circle cx="251.1" cy="331.0" r="3.5"/><circle cx="282.2" cy="331.0" r="3.5"/><circle cx="313.4" cy="331.0" r="3.5"/><circle cx="344.5" cy="331.0" r="3.5"/><circle cx="375.7" cy="331.0" r="3.5"/><circle cx="406.8" cy="331.0" r="3.5"/><circle cx="437.9" cy="331.0" r="3.5"/><circle cx="469.1" cy="331.0" r="3.5"/><circle cx="500.2" cy="331.0" r="3.5"/><circle cx="219.9" cy="355.5" r="3.5"/><circle cx="251.1" cy="355.5" r="3.5"/><circle cx="282.2" cy="355.5" r="3.5"/><circle cx="313.4" cy="355.5" r="3.5"/><circle cx="344.5" cy="355.5" r="3.5"/><circle cx="375.7" cy="355.5" r="3.5"/><circle cx="406.8" cy="355.5" r="3.5"/><circle cx="437.9" cy="355.5" r="3.5"/><circle cx="469.1" cy="355.5" r="3.5"/><circle cx="593.7" cy="355.5" r="3.5"/><circle cx="219.9" cy="380.0" r="3.5"/><circle cx="251.1" cy="380.0" r="3.5"/><circle cx="282.2" cy="380.0" r="3.5"/><circle cx="313.4" cy="380.0" r="3.5"/><circle cx="344.5" cy="380.0" r="3.5"/><circle cx="375.7" cy="380.0" r="3.5"/><circle cx="406.8" cy="380.0" r="3.5"/><circle cx="437.9" cy="380.0" r="3.5"/><circle cx="531.4" cy="380.0" r="3.5"/><circle cx="562.5" cy="380.0" r="3.5"/><circle cx="593.7" cy="380.0" r="3.5"/><circle cx="624.8" cy="380.0" r="3.5"/></g>
<path fill="none" stroke="#000" stroke-width="1.8" stroke-linejoin="round" d="M89.1,377.1 L88.7,373.6 L92.0,373.2 L89.1,366.3 L88.7,361.4 L87.1,353.0 L83.7,349.6 L78.8,346.2 L76.3,343.2 L75.4,338.3 L74.2,334.4 L72.5,329.5 L72.5,323.6 L74.6,317.7 L78.3,314.3 L78.8,317.7 L83.3,320.2 L85.4,321.1 L87.1,324.6 L89.1,328.0 L93.3,329.0 L95.8,335.9 L94.5,337.8 L97.0,337.3 L101.2,333.4 L102.8,329.0 L105.7,328.5 L111.6,324.6 L112.8,319.7 L113.2,314.3 L111.6,305.0 L109.1,300.5 L104.9,297.1 L101.6,291.7 L98.3,286.8 L99.1,282.9 L102.4,278.5 L107.8,274.5 L109.9,273.6 L115.7,275.0 L117.8,280.4 L119.4,279.4 L122.4,274.5 L130.7,269.6 L133.6,270.1 L139.0,268.2 L143.1,267.2 L147.3,263.3 L151.4,259.3 L155.6,254.9 L155.6,250.0 L158.5,245.1 L161.8,240.2 L164.7,235.3 L165.5,230.4 L163.5,228.9 L165.5,226.5 L161.8,220.6 L160.1,215.7 L157.6,211.3 L154.3,209.3 L158.5,203.9 L161.0,201.0 L168.0,199.0 L167.2,196.5 L161.8,194.6 L155.6,197.5 L153.1,196.0 L150.2,192.6 L147.7,190.6 L148.1,188.2 L151.4,188.2 L154.7,185.3 L159.7,182.3 L163.9,179.4 L166.8,181.8 L163.0,186.2 L164.3,189.2 L168.0,186.2 L172.2,184.8 L175.9,183.8 L178.0,185.7 L179.7,190.2 L178.4,193.6 L183.4,195.1 L185.5,198.5 L183.4,202.9 L184.6,208.3 L183.8,210.8 L186.7,210.3 L190.9,209.3 L195.0,207.8 L197.1,205.4 L196.7,199.5 L195.0,195.1 L192.1,190.6 L188.8,185.7 L188.8,184.3 L193.4,182.3 L197.9,179.4 L197.9,175.9 L201.7,172.0 L204.2,170.0 L208.7,167.6 L213.7,170.0 L222.0,164.6 L229.5,156.8 L234.5,149.4 L237.8,144.5 L241.9,140.1 L242.8,134.2 L243.2,128.3 L246.5,123.9 L246.1,119.5 L240.3,115.6 L234.5,116.6 L228.2,117.1 L222.0,113.1 L218.7,110.7 L226.2,105.3 L234.5,100.4 L242.8,95.5 L251.9,90.1 L255.2,89.1 L263.5,88.6 L271.8,89.1 L278.1,87.1 L287.6,91.1 L293.9,90.1 L299.7,88.1 L303.0,83.2 L310.0,78.8 L317.5,75.8 L323.8,76.8 L325.4,80.8 L322.9,84.2 L330.0,83.2 L336.2,79.3 L340.4,74.4 L337.5,73.4 L344.5,73.4 L342.4,77.8 L338.3,83.2 L336.2,86.6 L331.2,94.5 L324.6,98.4 L317.5,101.4 L310.5,107.7 L306.3,115.1 L305.9,122.5 L309.2,129.8 L315.4,124.9 L318.8,120.0 L323.8,115.1 L332.1,110.2 L337.0,104.8 L334.1,96.5 L338.3,92.5 L343.3,86.6 L348.7,83.7 L357.0,83.2 L367.4,85.7 L374.8,80.8 L381.9,76.8 L396.4,73.4 L403.5,74.4 L402.6,70.9 L399.7,64.6 L394.3,62.6 L400.6,59.7 L406.8,60.1 L419.3,61.1 L425.5,63.6 L433.8,64.1 L440.0,59.2 L448.3,57.2 L449.6,55.7 L440.0,51.3 L431.7,47.4 L423.4,42.5 L411.0,39.1 L394.3,36.6 L390.2,34.1 M202.9,213.2 L205.4,210.8 L209.6,206.3 L213.7,205.9 L219.9,204.9 L224.1,203.4 L227.0,199.0 L229.5,196.0 L234.5,196.0 L238.6,192.1 L240.3,186.2 L240.7,181.3 L242.8,177.9 L246.1,177.4 L246.9,181.3 L249.0,186.2 L246.9,192.1 L244.9,196.0 L244.0,201.0 L243.2,205.9 L241.5,208.3 L239.5,206.8 L237.4,207.3 L235.7,209.8 L233.6,209.8 L230.3,210.3 L227.4,209.8 L227.4,211.7 L224.1,215.7 L221.6,215.2 L219.9,211.7 L215.8,210.3 L211.6,211.7 L208.3,213.7 L203.3,213.2 L202.9,213.2 M198.3,215.7 L201.3,213.7 L203.3,213.7 L207.1,217.1 L205.4,223.0 L204.2,226.0 L201.7,227.4 L200.0,226.5 L200.4,222.5 L198.3,219.6 L198.3,215.7 M209.6,216.7 L211.6,213.7 L215.8,211.7 L218.7,212.2 L218.7,214.2 L216.6,216.7 L212.9,216.2 L211.2,219.1 L209.6,216.7 M240.7,176.4 L241.1,172.5 L239.9,171.0 L242.4,167.6 L246.5,168.1 L247.3,162.7 L248.6,157.3 L252.3,160.7 L256.9,163.7 L262.7,162.7 L264.0,167.6 L259.4,169.6 L254.4,174.0 L247.8,171.0 L244.9,174.9 L240.7,176.4 M249.0,154.3 L249.8,149.4 L249.4,144.5 L249.0,137.2 L249.8,129.8 L249.8,122.5 L253.2,116.6 L251.9,113.6 L254.4,120.0 L254.0,127.4 L256.5,134.7 L259.4,139.6 L253.2,138.2 L251.5,144.5 L255.2,151.9 L251.1,150.9 L249.0,154.3 M158.1,267.2 L160.6,272.1 L161.8,269.6 L164.3,262.3 L165.5,257.4 L163.9,255.9 L160.6,259.8 L158.1,264.7 L158.1,267.2 M110.3,285.3 L114.0,290.7 L118.2,288.3 L120.3,283.4 L117.4,281.4 L112.8,281.9 L110.3,285.3 M160.1,289.3 L162.6,288.8 L167.2,289.7 L166.4,296.6 L163.9,302.0 L164.7,306.4 L166.0,311.3 L170.1,312.3 L174.3,316.2 L172.2,317.2 L168.4,315.3 L165.1,312.3 L161.0,311.8 L160.1,308.9 L158.1,307.4 L157.2,301.5 L159.3,300.5 L160.1,294.2 L160.1,289.3 M166.0,345.7 L172.2,341.8 L176.3,338.3 L180.5,335.9 L183.4,334.9 L184.2,340.8 L184.6,348.1 L180.5,352.5 L178.4,350.6 L175.1,349.6 L173.8,345.7 L169.3,343.2 L166.0,345.7 M175.5,318.7 L180.5,318.7 L181.3,326.1 L178.4,331.0 L176.3,326.1 L175.5,318.7 M165.5,322.1 L170.1,323.6 L168.0,328.5 L166.0,327.0 L165.5,322.1 M168.0,328.5 L172.2,328.0 L170.9,334.9 L168.0,333.4 L168.0,328.5 M158.9,313.8 L163.9,316.2 L162.6,320.2 L159.7,318.2 L158.9,313.8 M146.0,338.8 L151.4,332.9 L155.6,327.0 L156.4,328.5 L151.8,334.9 L147.7,339.3 L146.0,338.8 M112.0,380.0 L112.0,372.7 L116.1,371.7 L120.3,372.7 L122.4,367.8 L128.6,364.3 L132.7,357.9 L137.7,355.5 L141.0,350.6 L145.2,345.7 L148.1,348.6 L151.4,354.0 L154.3,355.0 L149.3,358.9 L148.1,365.3 L149.3,375.1 L153.1,375.6 L148.5,380.0 M74.6,369.2 L78.8,370.2 L82.9,374.1 L87.1,376.1 L90.0,380.0 M474.5,110.7 L477.4,110.2 L481.5,109.0 L485.7,108.7 L489.6,106.6 L494.0,106.3 L498.3,104.9 L502.3,102.8 L504.8,99.9 L508.5,98.9 L511.3,96.5 L513.9,94.0 L516.8,90.6 L523.1,88.6 L524.2,84.6 L526.0,80.8 L529.3,82.2 L533.5,86.2 L537.2,83.6 L541.8,83.2 L548.0,84.7 L552.1,85.2 L556.3,85.7 L561.6,85.2 L566.7,87.1 L570.9,88.2 L575.0,89.6 L578.7,90.9 L581.2,94.0 L587.4,95.5 L591.6,100.4 L595.7,105.3 L599.9,110.2 L606.1,112.6 L609.7,113.4 L612.3,116.1 L614.4,120.0 L618.6,124.9 L622.7,129.8 L626.9,133.7 L630.1,136.5 L633.1,139.6 L636.4,143.1 L638.1,149.4 L639.3,154.3 L638.7,158.1 L639.8,161.7 L639.7,165.6 L637.7,169.1 L638.5,174.9 L638.1,181.3 L641.0,186.2 L643.5,192.1 L646.8,196.0 L648.5,201.0 L650.8,204.3 L651.8,208.3 L654.8,210.3 L658.0,211.7 L663.0,214.2 L664.4,217.9 L667.6,220.1 L669.7,225.5 L670.9,229.2 L672.6,232.8 L676.7,237.7 L678.8,242.7 L680.9,247.6 L684.1,249.8 L687.1,252.5 L689.3,256.9 L693.3,259.8 L696.4,262.9 L697.5,267.2 L698.7,262.3 L696.6,259.1 L693.3,257.4 L690.8,254.0 L689.2,250.0 L685.8,245.1 L682.9,240.2 L678.8,235.3 L676.9,231.9 L676.7,227.9 L677.5,224.0 L678.8,225.5 L685.0,227.9 L688.0,231.1 L689.2,235.3 L691.7,238.7 L693.3,242.7 L697.5,247.6 L699.3,251.7 L702.5,254.9 L705.8,260.8 L709.5,263.4 L712.0,267.2 L713.9,271.0 L716.2,274.5 L717.4,279.4 L719.1,285.3 L722.4,286.8 L725.3,288.8 L728.6,290.2 L734.8,292.7 L739.2,295.4 L743.2,298.6 L747.3,300.2 L751.5,301.5 L755.6,300.4 L759.8,301.5 L763.4,302.2 L766.0,305.0 L769.7,307.9 L772.2,311.8 L776.2,314.0 L780.5,315.3 L784.8,318.1 L788.8,321.1 L793.3,324.0 L797.1,327.5 L799.0,330.6 L801.3,333.4 L805.4,337.8 L811.7,339.8 L814.8,341.4 L817.9,343.2 L820.8,340.8 L826.2,336.8 L830.4,339.8 L832.4,344.7 L832.4,350.6 L833.6,355.4 L833.7,360.4 L831.3,363.8 L830.4,367.8 L826.2,372.7 L824.7,376.2 L824.1,380.0 M457.9,58.2 L462.9,63.6 L471.2,64.1 L477.4,62.1 L485.7,64.6 L481.5,67.5 L471.2,69.5 L467.0,73.4 L467.0,78.3 L471.2,83.2 L477.4,86.6 L482.8,91.5 L489.9,91.5 L500.2,92.0 L504.4,95.5 L494.0,100.4 L487.8,103.8 L479.5,107.7 L475.3,109.2 M457.9,58.2 L464.9,54.8 L473.2,53.3 L477.4,51.3 L469.1,46.4 L461.6,44.9 L467.0,40.5 L473.2,37.6 L477.4,35.1 M568.7,38.6 L573.0,38.8 L577.2,39.0 L581.2,40.5 L585.4,40.9 L589.5,39.4 L593.7,40.5 L597.8,39.1 L602.0,37.6 L606.2,37.7 L610.4,37.4 L614.4,39.1 L618.6,38.3 L622.7,37.6 L627.0,36.9 L631.1,38.4 L635.2,39.1 L639.5,38.4 L643.6,39.0 L647.6,40.5 L651.8,41.5 L655.7,43.6 L660.1,44.0 L664.4,43.8 L668.5,44.9 L672.6,46.4 L676.8,46.3 L681.0,46.6 L685.0,44.9 L689.1,46.0 L693.4,46.3 L697.5,47.4 L701.8,48.0 L705.6,44.9 L709.9,45.4 L714.0,46.7 L718.3,45.5 L722.4,46.4 L726.7,46.3 L730.9,47.1 L734.8,48.9 L739.0,48.0 L743.2,49.0 L747.3,47.9 L750.5,46.1 L754.3,46.1 L757.7,44.9 L761.0,43.0 L763.9,40.5 L768.1,35.6 M832.4,338.3 L826.2,335.9 L822.0,336.3 L817.9,335.9 L811.7,332.9 L807.5,331.0 L806.7,326.1 L805.8,322.4 L806.7,318.7 L807.5,315.1 L807.5,311.3 L808.8,306.4 L804.4,304.9 L801.3,301.5 L797.1,301.9 L793.0,302.5 L786.8,302.5 L782.6,301.5 L784.4,297.7 L786.8,294.2 L787.6,289.3 L788.2,285.1 L790.9,281.9 L792.4,278.2 L793.8,274.5 L788.8,274.5 L784.8,276.2 L780.5,275.5 L779.3,281.9 L776.5,285.0 L773.5,287.8 L768.1,289.3 L761.8,289.3 L755.6,289.7 L751.5,284.4 L749.7,280.9 L750.2,277.0 L748.3,273.5 L748.6,269.6 L748.4,266.0 L748.6,262.3 L749.8,258.7 L749.4,254.9 L750.2,250.0 L751.5,245.1 L755.6,240.2 L759.8,235.3 L766.0,234.3 L770.1,235.3 L776.4,236.8 L778.4,231.4 L784.7,231.4 L790.9,230.9 L797.1,232.8 L803.4,234.3 L805.4,240.2 L808.4,243.4 L809.6,247.6 L813.7,252.5 L817.1,256.4 L820.8,254.9 L822.0,250.0 L820.8,245.1 L819.1,240.2 L816.8,236.8 L815.8,232.8 L816.7,227.9 L817.9,223.0 L822.0,220.1 L826.2,215.7 L830.4,213.2 L833.7,210.5 L836.6,207.3 L838.7,201.0 L837.8,196.0 L839.5,191.1 L842.8,188.7 L847.0,183.8 L847.0,181.3 L850.6,180.6 L853.2,177.9 L859.4,176.4 L863.6,175.4 L863.6,171.5 L860.3,166.6 L865.7,165.1 L871.9,162.7 L876.0,161.7 L882.3,164.2 L884.5,161.3 L886.4,158.3 L884.3,155.3 L880.2,151.9 L883.1,149.2 L886.4,147.0 L886.4,142.1 L880.2,140.6 L876.3,138.4 L871.9,138.6 L867.7,138.2 L863.6,134.7 L867.6,133.2 L872.0,135.0 L876.0,133.7 L880.2,133.0 L884.3,132.5 L888.5,133.2 L892.4,131.1 L896.8,130.8 L900.1,129.2 L904.0,129.3 L907.2,127.4 M878.1,161.2 L881.4,166.1 L886.4,166.6 L892.6,161.7 L898.9,157.8 L903.4,150.4 L897.6,153.4 L890.6,156.3 L886.4,157.8 M831.6,337.8 L834.5,338.3 L838.7,333.4 L842.8,327.0 L847.0,325.1 L853.2,322.1 L857.3,323.6 L859.4,320.2 L862.7,324.1 L857.3,328.5 L857.3,333.4 L859.4,331.0 L861.5,327.0 L865.7,325.1 L871.9,327.0 L878.1,329.0 L884.3,328.0 L892.6,327.5 L896.8,329.5 L900.9,327.5 L907.2,327.0 M801.7,273.1 L805.4,270.1 L811.7,267.2 L817.9,266.2 L824.1,268.2 L830.4,270.1 L836.6,274.1 L840.7,278.0 L846.1,280.9 L844.9,282.4 L838.7,282.4 L832.4,279.4 L828.3,276.0 L822.0,273.6 L815.8,272.6 L811.7,271.1 L805.4,272.6 L801.7,273.1 M853.6,282.9 L857.3,281.9 L863.6,282.4 L867.7,283.4 L870.2,285.8 L869.8,289.3 L865.7,290.2 L859.4,290.7 L855.3,290.7 L853.2,289.7 L857.8,288.3 L853.6,282.9 M829.1,289.7 L832.4,289.3 L837.4,290.7 L835.3,292.2 L832.4,292.2 L829.1,289.7 M875.2,289.7 L881.4,289.7 L881.8,291.7 L875.2,291.7 L875.2,289.7 M761.8,91.5 L765.3,94.4 L768.1,97.9 L772.5,98.3 L776.4,100.4 L780.3,103.2 L784.7,105.3 L789.1,105.4 L793.0,107.7 L797.1,108.7 L801.3,108.9 L805.6,108.6 L809.6,110.2 L815.8,112.6 L817.9,116.3 L820.0,120.0 L820.8,124.3 L819.1,128.3 L824.1,127.4 L827.0,122.5 L827.5,118.7 L828.3,115.1 L829.4,110.9 L832.4,107.7 L833.6,103.5 L836.6,100.4 L835.4,96.8 L834.5,93.0 L833.2,88.9 L830.4,85.7 L830.5,81.7 L832.4,78.3 L834.5,73.4 L838.7,73.2 L842.8,74.4 L846.9,75.4 L851.1,75.8 L855.3,80.8 L858.4,83.0 L862.1,83.2 L865.7,84.2 L867.7,90.6 L871.9,93.0 L874.8,90.4 L878.1,88.1 L884.3,89.1 L886.7,92.5 L890.6,94.0 L893.6,96.5 L894.7,100.4 L896.0,103.9 L898.9,106.3 L903.3,107.7 L907.2,110.2 M761.8,91.5 L759.8,85.7 L758.3,82.1 L757.7,78.3 L760.2,75.1 L763.9,73.4 L768.3,71.3 L772.2,68.5 L776.1,66.2 L780.5,66.0 L784.7,63.7 L788.8,61.1 L792.8,58.9 L797.1,57.2 L800.8,54.4 L805.4,53.8 L808.6,52.1 L811.7,50.3 L815.8,45.4 L814.6,39.1 L813.7,34.1 M801.3,68.5 L805.3,66.3 L809.6,65.1 L814.7,63.4 L820.0,63.6 L822.0,68.5 L817.7,71.4 L813.7,74.9 L809.4,75.2 L805.4,73.4 L801.3,68.5 M828.3,35.6 L829.8,39.7 L830.4,44.0 L833.2,47.2 L834.5,51.3 L833.1,54.9 L832.4,58.7 L836.1,59.4 L838.7,62.1 L840.7,65.4 L842.8,68.5 L847.0,73.4 L851.0,71.1 L855.3,69.5 L859.0,66.9 L863.6,66.5 L867.7,65.1 L871.3,61.6 L876.0,60.1 L880.1,56.8 L884.3,53.8 L887.9,50.4 L892.6,48.9 L896.3,45.5 L900.9,44.0 L905.0,42.1 L909.3,40.5 M772.2,150.9 L776.4,150.9 L780.5,151.9 L784.7,151.0 L788.8,151.9 L792.9,152.8 L797.1,152.9 L803.4,151.4 L801.3,147.0 L797.5,145.4 L795.1,142.1 L789.9,142.0 L784.7,142.1 L780.7,144.8 L776.4,147.0 L772.2,150.9 M790.9,154.3 L791.3,164.2 L790.5,171.5 L792.6,174.9 L795.1,173.0 L796.3,166.6 L798.0,159.2 L801.7,155.3 L795.1,154.3 L790.9,154.3 M805.4,155.3 L809.6,152.9 L820.0,153.4 L821.2,159.2 L815.8,161.7 L814.6,167.6 L811.7,169.1 L810.8,164.2 L806.3,161.7 L805.4,155.3 M807.5,175.9 L811.7,176.9 L820.0,174.0 L827.0,170.5 L824.1,169.1 L815.8,170.5 L809.6,174.0 L807.5,175.9 M824.1,167.6 L830.4,168.1 L837.8,166.1 L836.6,163.2 L828.3,165.6 L824.1,167.6 M178.0,34.1 L176.3,41.5 L170.9,47.9 L178.4,56.2 L187.5,64.1 L198.3,69.0 L197.1,74.9 L182.6,79.3 L166.0,82.7 L154.3,84.7 L136.5,82.2 L126.9,88.1 M153.1,68.0 L166.0,66.0 L180.5,65.5 L190.0,66.5 M198.3,69.0 L207.5,70.9 L220.8,71.4 L222.0,84.7 L215.8,90.6 M200.8,149.4 L209.6,146.0 L218.7,138.2 L228.2,131.3 L239.0,125.4 L243.2,120.5 M124.4,231.4 L134.0,229.9 L141.0,233.8 L147.3,228.9 L152.7,223.0 L157.6,222.0 L163.0,225.0 M90.4,126.9 L95.4,125.9 L101.6,122.5 L109.9,117.5 L114.0,110.2 L116.1,106.3 L113.2,107.2 L109.1,115.1 L103.7,120.0 L97.4,123.4 L92.0,125.4 L90.4,126.9 M643.5,60.1 L647.4,57.8 L651.8,56.2 L655.5,53.2 L660.1,51.8 L663.0,53.9 L666.3,55.2 L663.2,57.4 L659.4,57.4 L656.0,58.7 L651.9,60.5 L647.6,61.6 L643.5,60.1 M670.5,73.4 L674.1,74.1 L677.7,74.8 L680.9,76.8 L684.9,78.7 L689.2,79.8 L693.1,77.9 L697.5,78.3 L701.6,73.4 L697.5,72.6 L693.3,71.9 L689.9,73.1 L686.7,74.7 L682.9,74.4 L678.8,73.4 L674.6,72.4 L670.5,73.4 M749.4,132.8 L753.5,129.8 L750.2,124.9 L747.9,121.4 L746.5,117.5 L745.2,116.1 L743.2,119.0 L746.5,124.9 L748.8,128.5 L749.4,132.8 M672.6,35.6 L676.9,37.7 L680.9,40.5 L685.0,39.5 L689.2,40.6 L693.3,40.0 L697.7,39.9 L701.6,42.1 L705.8,43.0 L709.9,41.8 L713.9,40.2 L718.2,40.5 L722.4,39.6 L726.5,38.6 L730.7,35.1 M747.3,39.1 L751.5,43.5 L757.7,42.5 L755.6,38.1 L751.5,39.0 L747.3,39.1 M734.8,48.9 L739.1,49.1 L743.2,50.3 L747.3,47.9 L751.5,53.3 L755.6,48.9 L757.7,44.9 M693.3,46.9 L697.5,46.7 L701.6,47.4 L705.8,52.3 L709.9,48.9 L714.1,45.9 M774.3,37.6 L780.5,40.0 L784.5,38.4 L788.8,37.6 L795.1,35.1 M797.1,45.4 L800.0,43.1 L803.4,41.5 L807.5,37.6 L803.4,35.1 M834.5,35.1 L838.9,36.7 L842.8,39.1 L846.8,37.4 L851.1,37.6 L855.4,36.5 L859.4,34.6 M597.8,37.6 L602.1,38.1 L606.1,39.5 L609.9,37.0 L614.4,36.1 M807.5,71.9 L813.7,73.4 L815.8,70.9 L809.6,70.0 L807.5,71.9"/>
<path fill="#000" d="M94.8,36.7 L94.9,37.3 L93.6,36.9 L96.4,42.6 L97.2,36.3 L96.1,37.1 L96.0,36.5Z M125.9,36.7 L126.0,37.3 L124.7,36.9 L127.5,42.6 L128.3,36.3 L127.2,37.1 L127.1,36.5Z M157.0,36.7 L157.1,37.3 L155.8,36.9 L158.6,42.6 L159.4,36.3 L158.3,37.1 L158.2,36.5Z M188.3,36.7 L188.4,37.2 L187.3,36.9 L189.8,41.6 L190.3,36.3 L189.4,37.0 L189.3,36.5Z M94.7,61.3 L94.9,62.0 L93.3,61.7 L97.4,68.1 L97.5,60.5 L96.3,61.6 L96.1,60.9Z M125.8,61.3 L126.0,62.0 L124.4,61.7 L128.5,68.1 L128.6,60.5 L127.4,61.6 L127.2,60.9Z M157.0,61.2 L157.1,61.8 L155.8,61.4 L158.6,67.1 L159.4,60.8 L158.3,61.6 L158.2,61.0Z M188.3,61.1 L188.3,61.6 L187.3,61.1 L188.8,66.1 L190.3,61.1 L189.3,61.6 L189.3,61.1Z M221.1,60.8 L219.3,55.1 L222.0,55.5 L214.9,45.1 L215.1,57.7 L217.0,55.8 L218.8,61.5Z M252.2,60.7 L247.1,47.8 L249.8,48.0 L242.1,38.1 L243.1,50.6 L244.9,48.6 L250.0,61.6Z M283.4,60.8 L277.7,43.0 L280.3,43.5 L273.2,33.1 L273.5,45.7 L275.4,43.8 L281.1,61.5Z M314.5,60.8 L309.7,45.1 L312.3,45.5 L305.4,35.1 L305.5,47.7 L307.4,45.8 L312.2,61.5Z M345.7,60.9 L342.1,45.4 L344.7,46.0 L338.5,35.1 L337.7,47.6 L339.8,45.9 L343.3,61.4Z M376.9,61.1 L376.9,45.9 L379.3,47.1 L375.7,35.1 L372.1,47.1 L374.5,45.9 L374.5,61.1Z M407.9,61.6 L415.4,45.4 L417.0,47.5 L418.8,35.1 L410.5,44.5 L413.2,44.4 L405.7,60.6Z M438.9,61.9 L446.3,52.4 L447.4,54.8 L451.9,43.1 L441.7,50.4 L444.4,50.9 L437.0,60.4Z M469.9,61.4 L470.2,60.6 L471.5,62.0 L472.1,53.1 L466.7,60.2 L468.6,60.0 L468.3,60.8Z M500.5,61.1 L500.5,60.8 L501.1,61.1 L500.2,58.1 L499.3,61.1 L499.9,60.8 L499.9,61.1Z M531.7,61.1 L531.7,60.8 L532.3,61.1 L531.4,58.1 L530.5,61.1 L531.1,60.8 L531.1,61.1Z M562.7,61.8 L563.4,61.6 L563.1,63.2 L569.5,59.1 L561.9,59.0 L563.0,60.2 L562.3,60.4Z M593.7,62.2 L594.8,62.2 L593.7,64.4 L604.7,61.1 L593.7,57.8 L594.8,60.0 L593.7,60.0Z M624.6,62.2 L625.7,62.4 L624.2,64.4 L635.8,63.1 L625.4,57.8 L626.1,60.2 L625.0,60.0Z M94.4,86.1 L94.8,87.1 L92.4,86.9 L99.4,95.7 L98.4,84.5 L96.8,86.3 L96.4,85.3Z M125.4,85.8 L125.5,86.9 L123.2,86.0 L127.5,96.7 L129.8,85.4 L127.7,86.7 L127.6,85.6Z M156.5,85.7 L156.5,86.8 L154.3,85.7 L157.6,96.7 L160.9,85.7 L158.7,86.8 L158.7,85.7Z M187.6,85.7 L187.6,86.9 L185.2,85.7 L188.8,97.7 L192.4,85.7 L190.0,86.9 L190.0,85.7Z M218.8,86.1 L219.2,87.2 L216.6,86.9 L223.9,96.7 L223.2,84.5 L221.4,86.4 L221.0,85.3Z M252.3,85.5 L249.1,67.1 L251.7,67.9 L246.1,56.7 L244.6,69.1 L246.7,67.5 L249.9,85.9Z M283.4,85.6 L282.0,60.4 L284.5,61.4 L280.2,49.7 L277.3,61.8 L279.6,60.5 L281.0,85.7Z M314.6,85.7 L314.6,59.5 L317.0,60.7 L313.4,48.7 L309.8,60.7 L312.2,59.5 L312.2,85.7Z M345.7,85.6 L344.3,61.4 L346.8,62.4 L342.5,50.7 L339.6,62.8 L341.9,61.5 L343.3,85.7Z M376.9,85.7 L376.9,49.5 L379.3,50.7 L375.7,38.7 L372.1,50.7 L374.5,49.5 L374.5,85.7Z M407.9,86.0 L418.8,50.3 L420.8,52.2 L420.8,39.7 L413.9,50.1 L416.5,49.6 L405.7,85.3Z M439.0,86.2 L449.9,65.8 L451.5,67.9 L453.9,55.7 L445.1,64.6 L447.8,64.6 L436.9,85.1Z M470.2,86.0 L474.5,69.4 L476.6,71.2 L476.1,58.7 L469.6,69.4 L472.2,68.8 L467.9,85.4Z M501.4,85.5 L500.5,76.3 L503.0,77.2 L498.2,65.7 L495.8,78.0 L498.1,76.5 L499.0,85.8Z M532.6,85.6 L532.4,83.3 L534.9,84.3 L530.4,72.7 L527.7,84.9 L530.0,83.5 L530.2,85.8Z M562.8,86.3 L563.4,86.0 L563.4,87.5 L568.5,82.7 L561.6,83.9 L562.8,84.8 L562.2,85.1Z M593.5,86.5 L594.3,86.7 L593.1,88.1 L601.7,87.7 L594.3,83.3 L594.7,85.1 L593.9,84.9Z M624.7,86.1 L625.1,86.2 L624.5,86.9 L628.8,86.7 L625.1,84.5 L625.3,85.4 L624.9,85.3Z M94.6,110.9 L95.3,111.7 L93.0,112.3 L102.4,118.2 L97.8,108.1 L96.9,110.3 L96.2,109.5Z M125.3,110.5 L125.7,112.0 L123.1,111.4 L129.5,122.2 L130.1,109.7 L128.1,111.4 L127.7,109.9Z M156.4,110.2 L156.4,112.4 L154.0,111.2 L157.6,123.2 L161.2,111.2 L158.8,112.4 L158.8,110.2Z M187.6,110.2 L187.6,113.4 L185.2,112.2 L188.8,124.2 L192.4,112.2 L190.0,113.4 L190.0,110.2Z M218.7,110.0 L218.3,113.3 L216.1,111.8 L217.9,124.2 L223.2,112.8 L220.7,113.7 L221.1,110.4Z M252.2,110.6 L253.6,106.8 L255.4,108.7 L256.1,96.2 L248.7,106.3 L251.3,106.0 L250.0,109.8Z M283.4,110.5 L291.3,83.9 L293.3,85.7 L293.2,73.2 L286.4,83.7 L289.0,83.2 L281.1,109.8Z M314.5,110.5 L323.6,77.9 L325.6,79.7 L325.4,67.2 L318.7,77.8 L321.3,77.3 L312.2,109.9Z M345.7,110.4 L350.1,81.0 L352.3,82.6 L350.5,70.2 L345.2,81.5 L347.7,80.7 L343.3,110.0Z M376.8,110.1 L374.1,85.8 L376.6,86.7 L371.7,75.2 L369.4,87.5 L371.7,86.1 L374.5,110.3Z M408.0,110.5 L415.3,81.0 L417.4,82.7 L416.8,70.2 L410.4,81.0 L413.0,80.4 L405.6,109.9Z M439.0,110.8 L449.6,92.2 L451.1,94.4 L453.9,82.2 L444.9,90.8 L447.5,91.0 L436.9,109.6Z M470.3,110.4 L472.6,95.0 L474.8,96.6 L473.1,84.2 L467.7,95.5 L470.3,94.7 L467.9,110.0Z M501.4,109.8 L496.6,94.2 L499.2,94.6 L492.2,84.2 L492.3,96.7 L494.3,94.9 L499.1,110.5Z M532.6,110.1 L532.0,96.9 L534.5,98.0 L530.4,86.2 L527.3,98.3 L529.6,97.0 L530.2,110.2Z M563.6,110.8 L566.5,105.3 L568.0,107.5 L570.5,95.2 L561.7,104.1 L564.4,104.2 L561.5,109.6Z M594.0,110.7 L594.5,110.4 L594.6,111.7 L598.7,107.2 L592.8,108.7 L593.9,109.4 L593.4,109.7Z M843.0,110.4 L843.2,110.2 L843.4,110.8 L844.8,108.2 L842.2,109.6 L842.8,109.8 L842.6,110.0Z M874.2,110.4 L874.4,110.2 L874.6,110.8 L876.0,108.2 L873.4,109.6 L874.0,109.8 L873.8,110.0Z M95.0,135.4 L95.7,135.8 L94.2,136.8 L102.4,138.7 L96.6,132.6 L96.5,134.4 L95.8,134.0Z M125.8,135.1 L126.2,135.8 L124.4,135.9 L130.5,141.7 L128.6,133.5 L127.6,135.0 L127.2,134.3Z M156.5,135.1 L157.1,136.9 L154.4,136.5 L161.6,146.7 L161.3,134.2 L159.4,136.1 L158.8,134.3Z M187.6,134.7 L187.6,140.9 L185.2,139.7 L188.8,151.7 L192.4,139.7 L190.0,140.9 L190.0,134.7Z M219.1,134.3 L218.7,135.1 L217.5,133.5 L215.9,142.7 L222.3,135.9 L220.3,135.9 L220.7,135.1Z M252.2,135.0 L252.6,133.5 L254.7,135.2 L254.1,122.7 L247.7,133.5 L250.3,132.9 L249.9,134.4Z M283.4,135.1 L288.7,120.3 L290.5,122.2 L291.2,109.7 L283.8,119.8 L286.4,119.5 L281.1,134.3Z M314.5,135.0 L322.6,106.4 L324.6,108.2 L324.4,95.7 L317.6,106.3 L320.3,105.8 L312.2,134.4Z M345.6,135.2 L358.3,106.1 L360.0,108.2 L361.5,95.7 L353.4,105.3 L356.1,105.1 L343.4,134.2Z M376.8,135.1 L380.8,121.4 L382.8,123.2 L382.7,110.7 L375.8,121.2 L378.5,120.8 L374.5,134.4Z M408.0,134.7 L408.0,121.5 L410.4,122.7 L406.8,110.7 L403.2,122.7 L405.6,121.5 L405.6,134.7Z M439.0,135.3 L447.5,120.7 L449.0,122.9 L451.9,110.7 L442.8,119.3 L445.5,119.4 L436.9,134.1Z M470.3,134.9 L471.5,127.6 L473.7,129.1 L472.1,116.7 L466.6,128.0 L469.1,127.2 L467.9,134.5Z M501.3,134.2 L496.3,124.7 L499.0,124.7 L490.2,115.7 L492.6,128.0 L494.2,125.8 L499.2,135.3Z M532.6,134.5 L529.7,120.1 L532.3,120.8 L526.4,109.7 L525.2,122.2 L527.3,120.5 L530.2,135.0Z M563.7,134.9 L565.0,126.6 L567.2,128.1 L565.5,115.7 L560.1,127.0 L562.6,126.2 L561.3,134.5Z M594.8,135.0 L595.8,131.4 L597.8,133.2 L597.7,120.7 L590.9,131.3 L593.5,130.8 L592.5,134.4Z M656.4,134.7 L656.4,134.3 L657.2,134.7 L656.0,130.7 L654.8,134.7 L655.6,134.3 L655.6,134.7Z M687.4,134.5 L687.2,134.2 L688.0,134.1 L685.1,131.7 L686.2,135.3 L686.6,134.6 L686.8,134.9Z M718.2,135.1 L718.6,135.1 L718.2,135.9 L722.2,134.7 L718.2,133.5 L718.6,134.3 L718.2,134.3Z M749.4,135.1 L749.8,135.1 L749.4,135.9 L753.4,134.7 L749.4,133.5 L749.8,134.3 L749.4,134.3Z M780.5,135.1 L780.9,135.1 L780.5,135.9 L784.5,134.7 L780.5,133.5 L780.9,134.3 L780.5,134.3Z M811.7,135.5 L812.5,135.5 L811.7,137.1 L819.7,134.7 L811.7,132.3 L812.5,133.9 L811.7,133.9Z M843.0,135.4 L843.7,135.2 L843.4,136.8 L849.8,132.7 L842.2,132.6 L843.3,133.8 L842.6,134.0Z M874.4,135.7 L875.4,135.3 L875.2,137.7 L884.0,130.7 L872.8,131.7 L874.6,133.3 L873.6,133.7Z M95.3,159.8 L95.8,159.8 L95.1,160.8 L100.4,160.2 L95.7,157.8 L96.0,158.8 L95.5,158.8Z M125.7,159.9 L126.4,160.8 L124.1,161.3 L133.5,167.2 L128.9,157.2 L128.0,159.4 L127.3,158.6Z M156.6,159.8 L159.2,164.5 L156.6,164.6 L165.6,173.2 L162.8,161.0 L161.3,163.3 L158.7,158.7Z M187.6,159.4 L188.2,163.7 L185.6,162.8 L190.8,174.2 L192.8,161.9 L190.6,163.4 L190.0,159.1Z M219.4,159.2 L219.4,159.8 L218.4,159.2 L219.9,164.2 L221.4,159.2 L220.4,159.8 L220.4,159.2Z M252.3,159.5 L254.1,150.1 L256.3,151.7 L255.1,139.2 L249.2,150.3 L251.8,149.6 L249.9,159.0Z M283.4,159.5 L285.6,147.1 L287.7,148.7 L286.2,136.2 L280.6,147.5 L283.2,146.7 L281.0,159.0Z M314.5,159.5 L318.6,138.1 L320.7,139.7 L319.4,127.2 L313.6,138.4 L316.2,137.6 L312.2,159.0Z M345.6,159.7 L353.9,136.8 L355.8,138.8 L356.5,126.2 L349.0,136.3 L351.7,136.0 L343.4,158.8Z M376.7,159.8 L380.4,153.3 L381.9,155.5 L384.7,143.2 L375.6,151.9 L378.3,152.1 L374.6,158.7Z M407.5,159.2 L407.5,158.6 L408.9,159.2 L406.8,152.2 L404.7,159.2 L406.1,158.6 L406.1,159.2Z M438.5,159.4 L438.7,158.8 L439.7,159.8 L439.9,153.2 L436.1,158.7 L437.5,158.5 L437.3,159.1Z M469.6,159.2 L469.6,158.8 L470.6,159.2 L469.1,154.2 L467.6,159.2 L468.6,158.8 L468.6,159.2Z M501.4,159.0 L500.5,154.6 L503.1,155.3 L497.2,144.2 L496.1,156.7 L498.2,155.1 L499.1,159.5Z M532.6,159.3 L533.7,145.1 L536.0,146.5 L533.4,134.2 L528.8,145.9 L531.3,144.9 L530.2,159.2Z M563.7,159.6 L566.1,152.8 L567.9,154.8 L568.5,142.2 L561.1,152.4 L563.8,152.0 L561.4,158.9Z M594.7,159.8 L595.9,157.4 L597.5,159.6 L599.7,147.2 L591.1,156.4 L593.8,156.4 L592.6,158.7Z M625.8,159.9 L627.0,158.0 L628.4,160.3 L631.8,148.2 L622.3,156.4 L625.0,156.7 L623.8,158.6Z M656.2,158.9 L655.9,158.8 L656.6,158.3 L653.0,157.2 L655.4,160.2 L655.5,159.4 L655.8,159.6Z M687.1,160.1 L687.9,160.1 L687.1,161.7 L695.1,159.2 L687.1,156.8 L687.9,158.4 L687.1,158.4Z M718.4,160.2 L719.3,160.0 L718.8,161.9 L727.2,157.2 L717.6,156.6 L718.9,158.2 L718.0,158.3Z M749.8,160.3 L750.9,159.9 L750.6,162.6 L760.4,155.2 L748.2,155.9 L750.1,157.8 L749.0,158.2Z M780.7,160.2 L781.6,160.0 L781.1,161.9 L789.5,157.2 L779.9,156.6 L781.2,158.2 L780.3,158.3Z M812.1,160.4 L815.9,159.0 L815.6,161.7 L825.7,154.2 L813.2,154.9 L815.1,156.8 L811.3,158.1Z M843.3,160.4 L845.3,159.5 L845.1,162.2 L854.8,154.2 L842.4,155.5 L844.4,157.3 L842.4,158.1Z M874.3,160.4 L876.1,159.8 L875.7,162.5 L886.0,155.2 L873.4,155.6 L875.3,157.5 L873.6,158.1Z M95.3,184.4 L95.9,184.5 L95.1,185.6 L101.4,184.8 L95.7,182.0 L96.1,183.3 L95.5,183.2Z M126.1,184.5 L126.8,184.9 L125.3,185.9 L133.5,187.8 L127.7,181.7 L127.6,183.5 L126.9,183.1Z M156.9,184.7 L157.8,185.4 L155.5,186.5 L166.6,190.8 L159.7,181.1 L159.2,183.6 L158.3,182.9Z M188.0,184.7 L189.6,186.0 L187.2,187.1 L198.8,191.8 L191.7,181.5 L191.1,184.1 L189.5,182.8Z M219.8,184.7 L220.7,184.8 L219.6,186.5 L228.9,184.8 L220.2,181.1 L220.9,183.0 L220.0,182.9Z M252.1,184.4 L252.7,183.4 L254.1,185.6 L257.1,173.8 L248.1,182.0 L250.7,182.2 L250.1,183.2Z M283.3,184.2 L287.1,175.2 L288.9,177.2 L290.2,164.8 L282.3,174.4 L284.9,174.3 L281.1,183.3Z M314.5,184.0 L317.4,169.6 L319.5,171.3 L318.4,158.8 L312.5,169.8 L315.1,169.1 L312.2,183.5Z M345.7,183.8 L345.7,173.6 L348.1,174.8 L344.5,162.8 L340.9,174.8 L343.3,173.6 L343.3,183.8Z M376.0,183.5 L375.7,183.2 L376.6,182.9 L372.7,180.8 L374.8,184.7 L375.1,183.8 L375.4,184.1Z M406.3,183.8 L406.3,184.3 L405.3,183.8 L406.8,188.8 L408.3,183.8 L407.3,184.3 L407.3,183.8Z M437.3,183.8 L437.3,184.4 L436.1,183.8 L437.9,189.8 L439.7,183.8 L438.5,184.4 L438.5,183.8Z M468.7,184.4 L469.3,184.8 L467.9,185.6 L475.1,187.8 L470.3,182.0 L470.1,183.6 L469.5,183.2Z M500.7,184.9 L508.8,181.3 L508.7,183.9 L518.2,175.8 L505.8,177.4 L507.9,179.1 L499.7,182.7Z M532.1,184.8 L547.3,174.0 L547.7,176.7 L555.4,166.8 L543.5,170.8 L545.9,172.0 L530.7,182.8Z M563.0,184.9 L573.2,180.3 L573.1,183.0 L582.5,174.8 L570.1,176.4 L572.2,178.1 L562.0,182.7Z M594.0,184.9 L601.6,182.8 L601.1,185.5 L611.7,178.8 L599.1,178.5 L600.9,180.5 L593.3,182.6Z M625.0,185.0 L630.2,184.3 L629.3,186.8 L640.8,181.8 L628.5,179.7 L629.9,181.9 L624.7,182.6Z M656.0,185.0 L662.2,185.0 L661.0,187.4 L673.0,183.8 L661.0,180.2 L662.2,182.6 L656.0,182.6Z M687.0,185.0 L698.2,186.0 L696.8,188.3 L709.1,185.8 L697.5,181.1 L698.4,183.6 L687.2,182.6Z M718.3,185.0 L725.5,184.6 L724.5,187.0 L736.2,182.8 L724.1,179.9 L725.4,182.2 L718.2,182.6Z M749.8,184.9 L759.6,181.5 L759.2,184.1 L769.4,176.8 L756.9,177.3 L758.8,179.2 L749.0,182.6Z M781.0,184.9 L790.9,180.9 L790.7,183.6 L800.5,175.8 L788.0,176.9 L790.1,178.7 L780.1,182.7Z M812.1,184.9 L819.1,182.0 L818.9,184.7 L828.7,176.8 L816.2,178.0 L818.2,179.8 L811.2,182.7Z M843.3,184.9 L854.4,180.1 L854.2,182.8 L863.8,174.8 L851.4,176.2 L853.4,177.9 L842.3,182.7Z M874.4,184.9 L878.5,183.1 L878.3,185.8 L888.0,177.8 L875.5,179.2 L877.6,180.9 L873.5,182.7Z M95.4,208.9 L96.0,208.9 L95.4,210.1 L101.4,208.3 L95.4,206.5 L96.0,207.7 L95.4,207.7Z M126.5,209.0 L127.2,209.0 L126.5,210.4 L133.5,208.3 L126.5,206.2 L127.2,207.6 L126.5,207.6Z M157.5,209.4 L158.6,209.5 L157.3,211.6 L168.6,209.3 L157.9,205.0 L158.8,207.3 L157.7,207.2Z M188.6,209.5 L193.0,210.4 L191.3,212.5 L203.8,211.3 L192.7,205.4 L193.4,208.0 L189.0,207.1Z M219.9,209.5 L223.1,209.5 L221.9,211.9 L233.9,208.3 L221.9,204.7 L223.1,207.1 L219.9,207.1Z M251.2,209.5 L256.4,209.2 L255.3,211.7 L267.1,207.3 L254.9,204.5 L256.2,206.8 L251.0,207.1Z M282.5,209.5 L287.1,208.3 L286.6,210.9 L297.2,204.3 L284.7,203.9 L286.5,205.9 L281.9,207.2Z M313.9,208.6 L314.2,208.1 L314.9,209.2 L316.4,203.3 L311.9,207.4 L313.2,207.5 L312.9,208.0Z M375.4,207.4 L374.5,207.7 L374.8,205.6 L366.7,211.3 L376.6,211.0 L375.1,209.5 L376.0,209.2Z M406.2,208.0 L405.9,208.6 L405.0,207.4 L403.8,214.3 L408.6,209.2 L407.1,209.2 L407.4,208.6Z M437.1,208.3 L437.1,209.1 L435.5,208.3 L437.9,216.3 L440.3,208.3 L438.7,209.1 L438.7,208.3Z M469.1,209.3 L470.1,209.3 L469.1,211.3 L479.1,208.3 L469.1,205.3 L470.1,207.3 L469.1,207.3Z M500.5,209.5 L515.9,206.5 L515.1,209.1 L526.2,203.3 L513.8,202.0 L515.4,204.2 L500.0,207.1Z M531.6,209.5 L554.1,204.7 L553.4,207.3 L564.4,201.3 L551.9,200.3 L553.6,202.4 L531.1,207.1Z M562.5,209.5 L582.7,210.2 L581.4,212.5 L593.5,209.3 L581.6,205.3 L582.8,207.8 L562.6,207.1Z M593.6,209.5 L610.8,210.7 L609.4,213.0 L621.7,210.3 L609.9,205.9 L611.0,208.3 L593.7,207.1Z M624.7,209.5 L638.9,211.2 L637.5,213.5 L649.8,211.3 L638.3,206.3 L639.2,208.8 L624.9,207.1Z M655.5,209.4 L665.6,214.0 L663.5,215.7 L676.0,217.3 L666.5,209.1 L666.6,211.8 L656.4,207.2Z M687.1,209.5 L710.3,209.5 L709.1,211.9 L721.1,208.3 L709.1,204.7 L710.3,207.1 L687.1,207.1Z M718.3,209.5 L737.5,208.9 L736.4,211.3 L748.2,207.3 L736.1,204.1 L737.4,206.5 L718.2,207.1Z M749.5,209.5 L762.7,208.4 L761.7,210.9 L773.4,206.3 L761.1,203.7 L762.5,206.0 L749.3,207.1Z M780.6,209.5 L789.9,208.6 L788.9,211.1 L800.5,206.3 L788.2,203.9 L789.7,206.2 L780.4,207.1Z M811.9,209.5 L817.3,208.5 L816.5,211.1 L827.7,205.3 L815.2,204.0 L816.8,206.1 L811.4,207.1Z M843.3,209.4 L849.4,206.7 L849.3,209.4 L858.8,201.3 L846.4,202.8 L848.4,204.5 L842.3,207.2Z M874.6,209.3 L878.4,207.0 L878.6,209.7 L887.0,200.3 L874.8,203.5 L877.1,204.9 L873.3,207.3Z M95.6,234.0 L96.9,233.8 L96.1,236.4 L107.4,230.8 L94.9,229.3 L96.5,231.4 L95.2,231.7Z M126.9,234.0 L129.5,233.2 L129.1,235.8 L139.5,228.8 L127.0,228.9 L128.8,230.9 L126.2,231.7Z M158.2,233.9 L165.4,230.5 L165.3,233.2 L174.6,224.8 L162.3,226.7 L164.4,228.4 L157.1,231.8Z M189.3,233.9 L198.3,230.1 L198.1,232.8 L207.8,224.8 L195.3,226.2 L197.4,227.9 L188.3,231.7Z M220.4,234.0 L229.2,230.7 L228.9,233.4 L238.9,225.8 L226.4,226.6 L228.4,228.4 L219.5,231.7Z M251.4,234.0 L256.9,232.6 L256.3,235.2 L267.1,228.8 L254.6,228.3 L256.3,230.3 L250.8,231.7Z M282.2,233.6 L283.0,233.6 L282.2,235.2 L290.2,232.8 L282.2,230.4 L283.0,232.0 L282.2,232.0Z M312.9,233.2 L313.3,233.7 L311.9,234.0 L317.4,237.8 L314.9,231.6 L314.3,232.9 L313.9,232.4Z M343.6,232.8 L343.6,233.7 L341.8,232.8 L344.5,241.8 L347.2,232.8 L345.4,233.7 L345.4,232.8Z M375.4,233.2 L375.8,233.5 L374.8,234.0 L379.7,235.8 L376.6,231.6 L376.4,232.7 L376.0,232.4Z M406.2,232.8 L406.2,233.4 L405.0,232.8 L406.8,238.8 L408.6,232.8 L407.4,233.4 L407.4,232.8Z M437.0,232.8 L437.0,233.7 L435.2,232.8 L437.9,241.8 L440.6,232.8 L438.8,233.7 L438.8,232.8Z M500.0,234.0 L501.4,234.2 L499.8,236.4 L512.2,234.8 L501.0,229.3 L501.8,231.9 L500.4,231.7Z M530.9,233.9 L534.1,235.4 L532.0,237.1 L544.4,238.8 L535.0,230.5 L535.1,233.2 L531.9,231.8Z M561.9,233.9 L569.6,238.4 L567.4,239.9 L579.5,242.8 L571.0,233.7 L570.8,236.3 L563.1,231.8Z M593.1,233.9 L600.6,237.8 L598.4,239.4 L610.7,241.8 L601.7,233.0 L601.7,235.7 L594.2,231.8Z M624.0,233.8 L627.7,236.8 L625.3,237.9 L636.8,242.8 L629.9,232.4 L629.3,235.0 L625.6,231.9Z M655.1,233.6 L655.9,234.6 L653.3,235.3 L664.0,241.8 L658.7,230.5 L657.7,233.0 L656.8,232.0Z M687.4,234.0 L699.9,230.7 L699.4,233.4 L710.1,226.8 L697.6,226.4 L699.3,228.4 L686.8,231.7Z M718.8,233.9 L734.0,226.6 L734.0,229.3 L743.2,220.8 L730.9,222.8 L733.0,224.4 L717.7,231.8Z M749.5,234.0 L756.8,233.2 L755.9,235.7 L767.4,230.8 L755.1,228.6 L756.5,230.8 L749.2,231.6Z M780.6,234.0 L782.8,233.9 L781.8,236.3 L793.5,231.8 L781.3,229.2 L782.7,231.5 L780.4,231.6Z M811.7,233.9 L812.8,233.9 L811.7,236.1 L822.7,232.8 L811.7,229.5 L812.8,231.7 L811.7,231.7Z M843.0,233.7 L843.9,233.5 L843.4,235.5 L851.8,230.8 L842.2,230.1 L843.5,231.7 L842.6,231.9Z M874.7,233.6 L875.5,232.9 L876.1,235.2 L882.0,225.8 L871.9,230.4 L874.1,231.3 L873.3,232.0Z M95.7,258.5 L101.4,256.7 L101.0,259.4 L111.4,252.4 L98.8,252.5 L100.7,254.4 L95.0,256.2Z M127.3,258.3 L131.4,254.6 L132.1,257.1 L138.5,246.4 L127.2,251.8 L129.7,252.8 L125.7,256.5Z M158.6,258.0 L160.7,255.0 L162.0,257.4 L165.6,245.4 L156.0,253.4 L158.7,253.7 L156.7,256.7Z M189.9,257.8 L191.0,254.9 L192.8,256.9 L193.8,244.4 L186.1,254.3 L188.8,254.0 L187.7,256.9Z M220.8,257.8 L221.2,256.9 L222.6,258.6 L223.9,248.4 L217.2,256.2 L219.4,256.1 L219.0,257.0Z M312.8,257.5 L312.9,258.1 L311.6,257.7 L314.4,263.4 L315.2,257.1 L314.1,257.9 L314.0,257.3Z M343.5,257.6 L343.7,258.6 L341.5,258.0 L346.5,267.4 L347.5,256.8 L345.7,258.2 L345.5,257.2Z M374.7,257.5 L374.8,258.5 L372.7,257.7 L376.7,267.4 L378.7,257.1 L376.8,258.3 L376.7,257.3Z M405.8,257.4 L405.8,258.4 L403.8,257.4 L406.8,267.4 L409.8,257.4 L407.8,258.4 L407.8,257.4Z M436.7,257.4 L437.0,261.7 L434.6,260.6 L438.9,272.4 L441.7,260.2 L439.4,261.5 L439.1,257.3Z M468.4,257.4 L468.4,258.1 L467.0,257.4 L469.1,264.4 L471.2,257.4 L469.8,258.1 L469.8,257.4Z M499.3,257.4 L499.3,258.3 L497.5,257.4 L500.2,266.4 L502.9,257.4 L501.1,258.3 L501.1,257.4Z M530.7,257.4 L530.7,258.1 L529.3,257.4 L531.4,264.4 L533.5,257.4 L532.1,258.1 L532.1,257.4Z M561.9,257.5 L562.0,258.1 L560.7,257.7 L563.5,263.4 L564.3,257.1 L563.2,257.9 L563.1,257.3Z M593.1,257.6 L593.3,258.2 L591.9,258.0 L595.7,263.4 L595.5,256.8 L594.5,257.8 L594.3,257.2Z M718.8,257.9 L719.3,257.3 L720.0,258.9 L723.2,251.4 L716.4,255.9 L718.1,256.3 L717.6,256.9Z M749.5,258.0 L750.1,257.9 L749.7,259.2 L755.4,256.4 L749.1,255.6 L749.9,256.7 L749.3,256.8Z M780.5,257.9 L781.0,257.9 L780.5,258.9 L785.5,257.4 L780.5,255.9 L781.0,256.9 L780.5,256.9Z M95.4,282.3 L95.8,282.3 L95.4,283.1 L99.4,281.9 L95.4,280.7 L95.8,281.5 L95.4,281.5Z M127.1,282.3 L127.5,281.7 L128.3,283.1 L130.5,275.9 L124.7,280.7 L126.3,280.9 L125.9,281.5Z M158.1,282.0 L158.2,281.5 L159.1,282.2 L158.6,276.9 L156.1,281.6 L157.2,281.3 L157.1,281.8Z M189.3,281.9 L189.3,281.4 L190.3,281.9 L188.8,276.9 L187.3,281.9 L188.3,281.4 L188.3,281.9Z M220.3,281.9 L220.3,281.5 L221.1,281.9 L219.9,277.9 L218.7,281.9 L219.5,281.5 L219.5,281.9Z M312.7,281.9 L312.7,282.6 L311.3,281.9 L313.4,288.9 L315.5,281.9 L314.1,282.6 L314.1,281.9Z M343.5,281.9 L343.5,282.9 L341.5,281.9 L344.5,291.9 L347.5,281.9 L345.5,282.9 L345.5,281.9Z M374.5,282.1 L374.7,283.4 L372.1,282.7 L377.7,293.9 L379.2,281.5 L377.1,283.0 L376.8,281.7Z M405.6,281.9 L405.6,286.1 L403.2,284.9 L406.8,296.9 L410.4,284.9 L408.0,286.1 L408.0,281.9Z M436.8,282.2 L440.1,294.8 L437.4,294.2 L443.9,304.9 L444.4,292.4 L442.4,294.1 L439.1,281.6Z M468.0,282.4 L472.7,293.4 L470.1,293.3 L478.1,302.9 L476.7,290.5 L474.9,292.5 L470.2,281.4Z M499.2,282.4 L503.3,290.8 L500.6,290.8 L509.2,299.9 L507.1,287.6 L505.5,289.7 L501.3,281.4Z M530.7,282.0 L530.8,282.7 L529.3,282.2 L532.4,288.9 L533.5,281.6 L532.2,282.5 L532.1,281.8Z M593.3,281.9 L593.3,282.3 L592.5,281.9 L593.7,285.9 L594.9,281.9 L594.1,282.3 L594.1,281.9Z M656.5,281.9 L656.5,281.4 L657.5,281.9 L656.0,276.9 L654.5,281.9 L655.5,281.4 L655.5,281.9Z M687.6,281.9 L687.6,281.4 L688.6,281.9 L687.1,276.9 L685.6,281.9 L686.6,281.4 L686.6,281.9Z M189.2,306.4 L189.2,306.0 L190.0,306.4 L188.8,302.4 L187.6,306.4 L188.4,306.0 L188.4,306.4Z M220.5,306.4 L220.5,305.8 L221.7,306.4 L219.9,300.4 L218.1,306.4 L219.3,305.8 L219.3,306.4Z M252.2,306.4 L252.2,305.3 L254.4,306.4 L251.1,295.4 L247.8,306.4 L250.0,305.3 L250.0,306.4Z M281.0,306.4 L281.0,312.6 L278.6,311.4 L282.2,323.4 L285.8,311.4 L283.4,312.6 L283.4,306.4Z M312.2,306.4 L312.2,311.6 L309.8,310.4 L313.4,322.4 L317.0,310.4 L314.6,311.6 L314.6,306.4Z M343.3,306.4 L343.3,310.6 L340.9,309.4 L344.5,321.4 L348.1,309.4 L345.7,310.6 L345.7,306.4Z M374.5,306.5 L374.9,313.7 L372.4,312.6 L376.7,324.4 L379.6,312.2 L377.3,313.6 L376.9,306.4Z M405.6,306.6 L407.9,321.0 L405.3,320.1 L410.8,331.4 L412.5,319.0 L410.3,320.6 L408.0,306.2Z M436.8,306.9 L445.0,328.7 L442.4,328.5 L449.9,338.4 L449.1,325.9 L447.3,327.9 L439.1,306.0Z M468.0,307.0 L480.9,330.5 L478.2,330.6 L487.1,339.4 L484.5,327.2 L483.0,329.4 L470.1,305.9Z M499.3,307.2 L515.0,324.3 L512.5,325.0 L523.2,331.4 L517.8,320.2 L516.8,322.7 L501.1,305.6Z M530.4,307.1 L532.4,310.1 L529.7,310.4 L539.4,318.4 L535.7,306.4 L534.4,308.8 L532.4,305.8Z M561.9,306.8 L562.3,307.4 L560.7,307.6 L566.5,312.4 L564.3,305.2 L563.5,306.6 L563.1,306.0Z M593.1,306.8 L593.5,307.4 L591.9,307.6 L597.7,312.4 L595.5,305.2 L594.7,306.6 L594.3,306.0Z M656.5,306.4 L656.5,305.9 L657.5,306.4 L656.0,301.4 L654.5,306.4 L655.5,305.9 L655.5,306.4Z M687.6,306.6 L687.8,306.1 L688.6,307.0 L689.1,301.4 L685.6,305.8 L686.8,305.7 L686.6,306.2Z M374.6,331.3 L374.9,332.4 L372.4,331.9 L378.7,342.0 L379.0,330.1 L377.1,331.8 L376.8,330.7Z M405.6,331.1 L408.1,348.4 L405.5,347.6 L410.8,359.0 L412.7,346.6 L410.5,348.1 L408.0,330.8Z M436.8,331.4 L444.9,352.3 L442.3,352.1 L449.9,362.0 L449.0,349.5 L447.2,351.5 L439.1,330.5Z M468.1,331.6 L480.0,348.8 L477.3,349.1 L487.1,357.0 L483.2,345.0 L481.9,347.4 L470.1,330.3Z M499.3,331.8 L512.1,345.8 L509.5,346.5 L520.2,353.0 L514.8,341.7 L513.9,344.2 L501.1,330.2Z M530.4,331.7 L535.7,338.3 L533.1,338.8 L543.4,346.0 L538.7,334.3 L537.6,336.8 L532.3,330.2Z M561.5,331.6 L562.7,333.5 L560.0,333.8 L569.5,342.0 L566.1,329.9 L564.7,332.2 L563.5,330.3Z M592.8,331.8 L594.5,333.7 L592.0,334.4 L602.7,341.0 L597.3,329.6 L596.3,332.1 L594.6,330.2Z M624.3,331.4 L624.7,331.9 L623.3,332.2 L628.8,336.0 L626.3,329.8 L625.7,331.1 L625.3,330.6Z M687.5,331.4 L687.9,331.0 L688.3,332.2 L691.1,327.0 L685.9,329.8 L687.1,330.2 L686.7,330.6Z M436.9,356.1 L439.3,359.9 L436.6,360.2 L445.9,368.5 L442.7,356.4 L441.3,358.7 L439.0,354.9Z M468.2,356.3 L471.3,360.0 L468.6,360.6 L479.1,367.5 L474.2,356.0 L473.1,358.4 L470.0,354.7Z M499.3,356.2 L501.8,359.6 L499.2,360.1 L509.2,367.5 L504.9,355.7 L503.7,358.1 L501.2,354.8Z M530.4,356.2 L531.2,357.3 L528.5,357.7 L538.4,365.5 L534.4,353.6 L533.2,356.0 L532.4,354.8Z M561.6,355.9 L562.0,356.8 L559.8,356.7 L566.5,364.5 L565.2,354.3 L563.8,356.0 L563.4,355.1Z M592.8,356.1 L593.4,357.0 L591.0,357.3 L599.7,364.5 L596.4,353.7 L595.2,355.8 L594.6,354.9Z M623.8,356.0 L624.3,357.0 L621.8,357.0 L629.8,365.5 L627.8,354.0 L626.3,356.0 L625.8,355.0Z M655.2,355.7 L655.5,356.4 L653.9,356.1 L658.0,362.5 L658.1,354.9 L656.9,356.0 L656.7,355.3Z M812.2,355.5 L812.2,355.0 L813.2,355.5 L811.7,350.5 L810.2,355.5 L811.2,355.0 L811.2,355.5Z M843.2,355.5 L843.2,355.1 L844.0,355.5 L842.8,351.5 L841.6,355.5 L842.4,355.1 L842.4,355.5Z M189.4,380.0 L189.4,379.4 L190.6,380.0 L188.8,374.0 L187.0,380.0 L188.2,379.4 L188.2,380.0Z M407.5,379.8 L407.3,379.1 L408.9,379.4 L404.8,373.0 L404.7,380.6 L405.9,379.5 L406.1,380.2Z M438.4,380.0 L438.4,379.5 L439.4,380.0 L437.9,375.0 L436.4,380.0 L437.4,379.5 L437.4,380.0Z M812.1,380.0 L812.1,379.6 L812.9,380.0 L811.7,376.0 L810.5,380.0 L811.3,379.6 L811.3,380.0Z"/>
</g>
</g>
<rect x="74.6" y="36.6" width="830.5" height="343.4" fill="none" stroke="#000" stroke-width="2.6"/>
<clipPath id="cb"><rect x="74.6" y="518.1" width="830.5" height="343.4"/></clipPath>
<g clip-path="url(#cb)">
<rect x="74.6" y="518.1" width="830.5" height="343.4" fill="#F4F4F4"/>
<g transform="translate(0,481.5)">
<path d="M68.0,184.7 C68.2,188.6 71.9,184.9 75.8,184.7 C80.0,184.5 86.5,184.5 93.3,183.5 C100.1,182.5 108.9,180.7 116.7,178.8 C124.5,176.8 132.2,174.5 140.0,171.8 C147.8,169.1 155.5,165.6 163.3,162.5 C171.1,159.4 180.5,156.3 186.7,153.2 C192.9,150.1 196.0,147.3 200.7,143.8 C205.4,140.3 210.0,136.1 214.7,132.2 C219.4,128.3 223.6,122.8 228.7,120.5 C233.8,118.2 238.4,117.8 245.0,118.2 C251.6,118.6 260.8,121.5 268.3,122.8 C275.8,124.1 284.2,125.2 290.0,126.0 C295.8,126.8 297.2,127.0 303.3,127.5 C309.4,128.0 318.9,128.1 326.7,128.7 C334.5,129.3 342.2,130.4 350.0,131.0 C357.8,131.6 365.5,132.2 373.3,132.2 C381.1,132.2 388.9,131.4 396.7,131.0 C404.5,130.6 412.2,130.4 420.0,129.8 C427.8,129.2 435.5,128.3 443.3,127.5 C451.1,126.7 457.2,126.2 466.7,125.2 C476.1,124.2 492.2,123.1 500.0,121.7 C506.9,120.5 507.2,119.0 513.3,117.0 C519.4,115.0 528.9,111.5 536.7,110.0 C544.5,108.5 552.2,107.7 560.0,107.7 C567.8,107.7 577.5,108.7 583.3,110.0 C589.1,111.3 591.3,114.9 595.0,115.5 C598.7,116.1 602.3,111.5 605.3,113.5 C608.3,115.5 609.7,120.5 612.9,127.6 C616.1,134.7 622.2,148.3 624.4,156.2 C626.6,164.2 626.3,168.9 626.3,175.3 C626.3,181.7 625.7,188.7 624.4,194.4 C623.1,200.1 621.1,205.6 618.6,209.7 C616.1,213.8 611.9,216.6 609.1,219.2 C606.3,221.8 606.0,222.8 602.0,225.2 C597.7,227.8 590.3,232.2 583.3,234.5 C576.3,236.8 567.8,238.0 560.0,239.2 C552.2,240.4 544.5,240.9 536.7,241.5 C528.9,242.1 521.1,242.9 513.3,242.7 C505.5,242.5 497.8,240.8 490.0,240.3 C482.2,239.8 474.5,239.8 466.7,239.6 C458.9,239.4 451.1,239.3 443.3,239.2 C435.5,239.1 427.8,239.2 420.0,239.2 C412.2,239.2 404.5,239.0 396.7,239.2 C388.9,239.4 381.1,239.7 373.3,240.3 C365.5,240.9 357.8,241.7 350.0,242.7 C342.2,243.7 334.5,244.5 326.7,246.2 C318.9,248.0 309.1,250.9 303.3,253.2 C297.5,255.5 295.6,257.9 291.7,260.2 C287.8,262.5 283.9,265.7 280.0,267.2 C276.1,268.8 272.6,266.0 268.3,269.5 C264.0,273.0 257.0,281.2 254.3,288.2 C251.6,295.2 251.6,302.9 252.0,311.5 C252.4,320.1 255.1,330.9 256.7,339.5 C258.2,348.1 260.1,355.3 261.3,362.8 C262.5,370.3 263.3,380.2 263.7,384.5 C263.9,386.5 261.7,388.3 263.7,388.5 C269.8,389.2 293.1,389.8 300.0,388.5 C304.6,387.6 300.7,382.4 305.0,380.5 C309.4,378.6 319.2,378.2 326.7,376.8 C334.2,375.4 342.2,373.8 350.0,372.2 C357.8,370.7 365.5,368.9 373.3,367.5 C381.1,366.1 388.9,365.2 396.7,364.0 C404.5,362.8 412.2,361.9 420.0,360.5 C427.8,359.1 435.5,357.3 443.3,355.8 C451.1,354.2 458.9,353.1 466.7,351.2 C474.5,349.3 482.2,346.2 490.0,344.2 C497.8,342.3 505.5,341.4 513.3,339.5 C521.1,337.6 528.9,334.8 536.7,332.5 C544.5,330.2 552.2,328.6 560.0,325.5 C567.8,322.4 575.5,317.7 583.3,313.8 C591.1,309.9 598.9,306.1 606.7,302.2 C614.5,298.3 622.2,294.4 630.0,290.5 C637.8,286.6 645.5,282.3 653.3,278.8 C661.1,275.3 668.9,272.1 676.7,269.5 C684.5,266.9 693.9,264.0 700.0,263.5 C706.1,263.0 708.6,262.9 713.4,266.3 C718.2,269.7 723.8,278.5 729.0,284.1 C734.2,289.7 738.2,294.5 744.5,299.7 C750.8,304.9 759.4,310.5 766.8,315.3 C774.2,320.1 782.4,324.6 789.1,328.7 C795.8,332.8 801.3,337.2 806.9,339.8 C812.5,342.4 817.3,343.9 822.5,344.3 C827.7,344.7 832.5,343.5 838.1,342.0 C843.7,340.5 849.2,338.0 855.9,335.4 C862.6,332.8 870.8,329.1 878.2,326.5 C885.6,323.9 895.9,321.3 900.4,319.8 C902.8,319.0 903.1,317.9 905.0,317.5 C906.9,317.1 911.8,321.0 912.0,317.5 C913.2,298.8 913.2,223.8 912.0,205.1 C911.8,201.6 906.9,204.9 905.0,205.1 C903.1,205.3 902.7,205.6 900.4,206.2 C894.1,207.9 878.1,212.9 867.0,215.1 C855.9,217.3 844.7,218.6 833.6,219.5 C822.5,220.4 811.3,221.1 800.2,220.7 C789.1,220.3 775.2,219.3 766.8,217.3 C758.4,215.3 754.6,212.9 750.0,208.5 C745.4,204.1 742.7,196.8 738.9,190.6 C735.1,184.4 731.5,177.9 727.4,171.5 C723.3,165.1 719.5,158.4 714.1,152.4 C708.7,146.3 701.4,140.4 695.0,135.2 C688.6,130.1 681.4,125.5 676.0,121.5 C670.6,117.5 666.5,115.7 662.7,111.2 C658.9,106.8 656.4,100.6 653.3,94.8 C650.2,89.0 647.9,81.6 644.0,76.2 C640.1,70.8 635.0,66.9 630.0,62.2 C625.0,57.5 618.8,52.3 613.7,48.2 C608.7,44.1 602.5,41.0 599.7,37.7 C596.9,34.4 601.8,28.6 597.0,28.5 C508.4,27.0 156.2,2.5 68.0,28.5 C-6.9,50.6 66.7,158.7 68.0,184.7Z" fill="#C8EAE5"/>
<path d="M68.0,70.3 C68.3,66.4 72.1,71.5 75.8,70.3 C80.0,68.9 86.5,64.3 93.3,62.2 C100.1,60.1 109.7,57.9 116.7,57.5 C123.7,57.1 131.4,57.5 135.3,59.8 C139.2,62.1 138.1,68.0 140.0,71.5 C141.9,75.0 142.7,76.9 147.0,80.8 C151.7,85.1 161.4,92.1 168.0,97.2 C174.6,102.3 182.8,106.5 186.7,111.2 C190.6,115.9 191.3,120.5 191.3,125.2 C191.3,129.9 191.4,134.9 186.7,139.2 C182.0,143.5 171.1,147.3 163.3,150.8 C155.5,154.3 147.8,157.5 140.0,160.2 C132.2,162.9 124.5,165.5 116.7,167.2 C108.9,169.0 100.1,170.1 93.3,170.7 C86.5,171.3 80.0,170.7 75.8,170.7 C71.9,170.7 68.3,174.6 68.0,170.7 C66.7,154.0 66.7,87.0 68.0,70.3Z" fill="#86CFC4"/>
<path d="M285.0,28.5 C279.4,28.7 282.0,35.2 280.0,38.5 C278.0,41.8 276.1,43.9 273.0,48.2 C269.9,52.5 263.2,59.1 261.3,64.5 C259.4,69.9 260.1,75.7 261.3,80.8 C262.5,85.8 265.2,90.5 268.3,94.8 C271.4,99.1 276.4,103.8 280.0,106.5 C283.6,109.2 286.1,109.7 290.0,111.2 C293.9,112.8 297.2,114.2 303.3,115.8 C309.4,117.3 318.9,119.3 326.7,120.5 C334.5,121.7 342.2,122.0 350.0,122.8 C357.8,123.6 365.5,124.8 373.3,125.2 C381.1,125.6 388.9,125.4 396.7,125.2 C404.5,125.0 412.2,124.6 420.0,124.0 C427.8,123.4 435.5,122.5 443.3,121.7 C451.1,120.9 458.9,120.3 466.7,119.3 C474.5,118.3 482.2,117.3 490.0,115.8 C497.8,114.2 505.5,111.9 513.3,110.0 C521.1,108.1 528.9,106.0 536.7,104.2 C544.5,102.5 552.2,101.1 560.0,99.5 C567.8,97.9 576.3,96.3 583.3,94.8 C590.3,93.2 597.7,91.8 602.0,90.2 C606.0,88.8 609.4,87.1 609.0,85.5 C608.6,83.9 604.0,83.5 599.7,80.8 C595.4,78.1 587.6,73.9 583.3,69.2 C579.0,64.5 576.3,58.0 574.0,52.8 C571.7,47.5 570.1,41.8 569.3,37.7 C568.5,33.7 573.6,28.6 569.0,28.5 C521.6,27.0 333.2,26.8 285.0,28.5Z" fill="#86CFC4"/>
<path d="M643.4,131.4 C646.9,130.4 651.4,133.3 656.8,135.2 C662.2,137.1 669.5,140.0 675.9,142.9 C682.3,145.8 689.6,148.9 695.0,152.4 C700.4,155.9 704.8,159.4 708.3,163.9 C711.8,168.3 714.7,174.0 716.0,179.1 C717.3,184.2 716.6,189.3 716.0,194.4 C715.4,199.5 714.4,205.6 712.2,209.7 C710.0,213.8 706.4,216.0 702.6,219.2 C698.8,222.4 693.8,225.3 689.3,228.8 C684.8,232.3 678.8,236.1 675.9,240.2 C673.0,244.3 673.7,249.2 672.1,253.6 C670.5,258.1 669.0,263.4 666.4,266.9 C663.8,270.4 661.6,272.4 656.8,274.6 C652.0,276.8 643.0,278.3 637.7,280.3 C632.4,282.3 630.2,284.8 625.0,286.5 C619.8,288.2 613.7,287.9 606.7,290.5 C599.8,293.1 591.1,298.3 583.3,302.2 C575.5,306.1 567.8,310.3 560.0,313.8 C552.2,317.3 544.5,320.5 536.7,323.2 C528.9,325.9 521.1,328.3 513.3,330.2 C505.5,332.1 497.8,333.2 490.0,334.8 C482.2,336.3 474.5,337.9 466.7,339.5 C458.9,341.1 451.1,342.7 443.3,344.2 C435.5,345.8 427.8,347.6 420.0,348.8 C412.2,350.0 404.5,350.4 396.7,351.2 C388.9,352.0 381.1,352.3 373.3,353.5 C365.5,354.7 357.8,356.7 350.0,358.2 C342.2,359.8 334.5,361.6 326.7,362.8 C318.9,364.0 309.8,365.9 303.3,365.2 C296.9,364.5 291.9,363.6 288.0,358.5 C284.1,353.4 282.9,342.6 280.0,334.8 C277.1,327.0 272.2,318.5 270.7,311.5 C269.1,304.5 269.1,299.0 270.7,292.8 C272.2,286.6 274.6,279.8 280.0,274.2 C285.4,268.6 295.5,262.7 303.3,259.0 C311.1,255.3 318.9,253.8 326.7,252.0 C334.5,250.2 342.2,249.5 350.0,248.5 C357.8,247.5 365.5,246.8 373.3,246.2 C381.1,245.6 388.9,245.2 396.7,245.0 C404.5,244.8 412.2,245.0 420.0,245.0 C427.8,245.0 435.5,244.9 443.3,245.0 C451.1,245.1 458.9,245.5 466.7,245.7 C474.5,245.9 482.2,245.7 490.0,246.2 C497.8,246.7 505.5,248.3 513.3,248.5 C521.1,248.7 528.9,247.9 536.7,247.3 C544.5,246.7 552.2,246.0 560.0,245.0 C567.8,244.0 575.8,243.9 583.3,241.5 C590.8,239.1 599.4,233.8 605.3,230.7 C611.2,227.6 614.8,226.8 618.6,223.0 C622.4,219.2 626.0,213.5 628.2,207.8 C630.4,202.1 631.4,195.7 632.0,188.7 C632.6,181.7 631.4,173.8 632.0,165.8 C632.6,157.8 633.9,146.6 635.8,140.9 C637.7,135.2 639.9,132.3 643.4,131.4Z" fill="#86CFC4"/>
<path d="M744.5,255.2 C747.1,251.5 752.3,247.0 757.9,244.0 C763.5,241.0 771.0,239.2 778.0,237.4 C785.0,235.5 792.8,234.4 800.2,232.9 C807.6,231.4 813.2,230.0 822.5,228.5 C831.8,227.0 844.8,225.3 855.9,224.0 C867.0,222.7 881.1,221.5 889.3,220.7 C897.1,220.0 901.2,219.7 905.0,219.5 C908.5,219.3 911.7,216.0 912.0,219.5 C913.2,234.5 913.2,294.7 912.0,309.7 C911.7,313.2 908.5,309.2 905.0,309.7 C901.2,310.3 895.6,311.4 889.3,313.1 C883.0,314.8 874.4,317.6 867.0,319.8 C859.6,322.0 851.8,325.0 844.8,326.5 C837.8,328.0 831.0,329.5 824.7,328.7 C818.4,328.0 813.6,325.4 806.9,322.0 C800.2,318.6 792.0,313.4 784.6,308.6 C777.2,303.8 768.7,297.8 762.4,293.0 C756.1,288.2 750.1,284.2 746.8,279.7 C743.4,275.3 742.7,270.4 742.3,266.3 C741.9,262.2 741.9,258.9 744.5,255.2Z" fill="#86CFC4"/>
<path d="M310.3,76.2 C310.3,71.5 311.5,64.9 315.0,59.8 C318.5,54.7 325.5,49.3 331.3,45.8 C337.1,42.3 345.7,40.3 350.0,38.8 C353.4,37.6 355.7,38.7 357.0,37.0 C358.3,35.3 353.7,28.7 358.0,28.5 C386.2,27.1 498.2,27.0 526.0,28.5 C530.6,28.8 525.5,33.7 525.0,37.7 C524.5,41.8 523.5,47.2 522.7,52.8 C521.9,58.4 521.9,65.3 520.3,71.5 C518.7,77.7 516.4,85.5 513.3,90.2 C510.2,94.9 505.6,97.1 501.7,99.5 C497.8,101.9 493.9,102.8 490.0,104.5 C486.1,106.2 484.1,108.7 478.3,110.0 C472.5,111.3 462.8,111.5 455.0,112.3 C447.2,113.1 439.5,114.1 431.7,114.7 C423.9,115.3 416.1,115.8 408.3,115.8 C400.5,115.8 392.8,115.5 385.0,114.7 C377.2,113.9 369.5,113.0 361.7,111.2 C353.9,109.5 346.1,108.1 338.3,104.2 C330.5,100.3 319.7,92.5 315.0,87.8 C310.6,83.4 310.3,80.9 310.3,76.2Z" fill="#2C8F87"/>
<path d="M301.0,297.5 C301.4,293.6 301.0,290.1 303.3,285.8 C305.6,281.5 309.2,276.1 315.0,271.8 C320.8,267.5 330.5,262.9 338.3,260.2 C346.1,257.5 353.9,256.9 361.7,255.5 C369.5,254.1 375.3,252.8 385.0,252.0 C394.7,251.2 408.3,251.0 420.0,250.8 C431.7,250.6 441.7,250.3 455.0,250.8 C468.3,251.2 486.4,252.3 500.0,253.5 C513.6,254.7 526.7,257.5 536.7,257.8 C546.7,258.1 552.2,256.3 560.0,255.5 C567.8,254.7 575.5,253.6 583.3,253.2 C591.1,252.8 600.9,252.4 606.7,253.2 C612.5,254.0 616.2,255.5 618.3,257.8 C620.4,260.1 621.4,264.1 619.5,267.2 C617.6,270.3 612.7,273.0 606.7,276.5 C600.7,280.0 591.1,284.7 583.3,288.2 C575.5,291.7 567.8,294.0 560.0,297.5 C552.2,301.0 544.5,305.7 536.7,309.2 C528.9,312.7 521.1,316.1 513.3,318.5 C505.5,320.9 495.8,321.6 490.0,323.5 C484.2,325.4 484.1,328.1 478.3,330.2 C472.5,332.3 462.8,334.1 455.0,336.0 C447.2,337.9 439.5,340.0 431.7,341.8 C423.9,343.5 416.1,345.3 408.3,346.5 C400.5,347.7 392.8,348.4 385.0,348.8 C377.2,349.2 369.5,349.6 361.7,348.8 C353.9,348.0 346.1,347.3 338.3,344.2 C330.5,341.1 321.2,336.0 315.0,330.2 C308.8,324.4 303.3,314.7 301.0,309.2 C298.7,303.8 300.6,301.4 301.0,297.5Z" fill="#2C8F87"/>
<path d="M802.4,281.9 C801.6,277.8 803.5,274.5 806.9,270.8 C810.2,267.1 816.2,263.3 822.5,259.6 C828.8,255.9 837.4,251.5 844.8,248.5 C852.2,245.5 859.6,243.5 867.0,241.8 C874.4,240.1 883.0,239.2 889.3,238.5 C895.6,237.8 901.2,237.6 905.0,237.4 C908.5,237.2 911.5,233.9 912.0,237.4 C913.2,245.9 913.2,280.1 912.0,288.6 C911.5,292.1 908.4,287.7 905.0,288.6 C899.4,290.1 886.4,295.3 878.2,297.5 C870.0,299.7 863.3,301.2 855.9,302.0 C848.5,302.8 841.0,303.1 833.6,302.0 C826.2,300.9 816.6,298.6 811.4,295.3 C806.2,291.9 803.1,286.0 802.4,281.9Z" fill="#2C8F87"/>
<path d="M352.3,76.2 C351.5,71.9 353.5,68.4 357.0,64.5 C360.5,60.6 366.7,55.9 373.3,52.8 C379.9,49.7 388.9,47.5 396.7,45.8 C404.5,44.0 412.2,43.1 420.0,42.3 C427.8,41.5 435.5,41.0 443.3,41.2 C451.1,41.4 459.7,42.3 466.7,43.5 C473.7,44.7 480.2,46.2 485.3,48.2 C490.4,50.2 494.7,52.1 497.0,55.5 C499.3,58.9 499.0,63.9 499.0,68.5 C499.0,73.1 498.5,79.2 497.0,83.2 C495.5,87.2 493.1,90.2 490.0,92.5 C486.9,94.8 484.1,95.5 478.3,97.2 C472.5,99.0 462.8,101.7 455.0,103.0 C447.2,104.3 439.5,105.1 431.7,105.3 C423.9,105.5 416.1,105.2 408.3,104.2 C400.5,103.2 392.8,101.8 385.0,99.5 C377.2,97.2 367.1,94.1 361.7,90.2 C356.2,86.3 353.1,80.5 352.3,76.2Z" fill="#00544B"/>
<path d="M326.7,304.5 C325.5,298.7 327.4,293.7 331.3,288.2 C335.2,282.8 343.0,275.9 350.0,271.8 C357.0,267.7 365.5,265.6 373.3,263.7 C381.1,261.8 388.9,261.2 396.7,260.6 C404.5,260.0 412.2,260.2 420.0,260.2 C427.8,260.2 435.5,260.2 443.3,260.6 C451.1,261.0 457.2,261.4 466.7,262.5 C476.1,263.6 492.2,265.2 500.0,267.5 C507.7,269.8 509.1,273.8 513.3,276.5 C517.5,279.2 525.0,280.8 525.0,283.5 C525.0,286.2 517.2,290.1 513.3,292.8 C509.4,295.5 505.6,297.7 501.7,299.8 C497.8,301.9 493.9,302.8 490.0,305.5 C486.1,308.2 484.1,313.3 478.3,316.2 C472.5,319.2 462.8,320.9 455.0,323.2 C447.2,325.5 439.5,328.5 431.7,330.2 C423.9,332.0 416.1,332.9 408.3,333.7 C400.5,334.5 392.8,335.0 385.0,334.8 C377.2,334.6 369.5,334.4 361.7,332.5 C353.9,330.6 344.1,327.9 338.3,323.2 C332.5,318.5 327.9,310.3 326.7,304.5Z" fill="#00544B"/>
<path d="M853.7,270.8 C853.7,268.4 860.7,265.6 864.8,264.1 C868.9,262.6 873.8,261.5 878.2,261.9 C882.7,262.3 888.9,264.8 891.5,266.3 C893.7,267.6 895.8,269.3 893.8,270.8 C891.6,272.5 883.0,275.0 878.2,276.3 C873.4,277.6 868.9,279.5 864.8,278.6 C860.7,277.7 853.7,273.2 853.7,270.8Z" fill="#00544B"/>
<path d="M68.0,240.3 C68.3,236.4 72.1,241.5 75.8,240.3 C80.0,238.9 86.5,235.9 93.3,232.2 C100.1,228.5 110.9,222.1 116.7,218.2 C122.5,214.3 124.4,212.1 128.3,208.8 C132.2,205.5 134.2,201.9 140.0,198.5 C145.8,195.1 155.5,191.5 163.3,188.2 C171.1,184.9 178.9,181.9 186.7,178.8 C194.5,175.7 202.2,172.2 210.0,169.5 C217.8,166.8 225.5,165.0 233.3,162.5 C241.1,160.0 248.9,156.6 256.7,154.3 C264.5,152.0 272.2,150.0 280.0,148.5 C287.8,147.0 295.5,145.8 303.3,145.0 C311.1,144.2 318.9,144.0 326.7,143.8 C334.5,143.6 342.2,144.0 350.0,143.8 C357.8,143.6 365.5,143.2 373.3,142.7 C381.1,142.2 388.9,141.6 396.7,141.0 C404.5,140.4 412.2,139.9 420.0,139.2 C427.8,138.5 435.5,137.6 443.3,136.8 C451.1,136.0 458.9,135.3 466.7,134.5 C474.5,133.7 482.2,133.2 490.0,132.2 C497.8,131.2 505.5,129.7 513.3,128.7 C521.1,127.7 528.9,126.5 536.7,126.3 C544.5,126.1 552.2,126.1 560.0,127.5 C567.8,128.9 577.5,131.4 583.3,134.5 C589.1,137.6 591.7,142.0 595.0,146.2 C598.3,150.4 601.0,154.6 603.0,159.5 C605.0,164.4 606.6,170.3 607.0,175.5 C607.4,180.7 606.9,185.9 605.3,190.6 C603.7,195.3 601.3,198.3 597.6,203.5 C593.9,208.7 589.6,217.5 583.3,221.7 C577.0,225.9 567.8,227.0 560.0,228.7 C552.2,230.5 544.5,231.4 536.7,232.2 C528.9,233.0 521.1,233.5 513.3,233.3 C505.5,233.1 501.7,231.4 490.0,231.0 C478.3,230.6 458.9,231.2 443.3,231.0 C427.8,230.8 408.4,230.1 396.7,229.8 C385.0,229.5 381.1,229.4 373.3,229.4 C365.5,229.4 357.8,229.1 350.0,229.8 C342.2,230.4 334.5,231.5 326.7,233.3 C318.9,235.0 310.2,237.4 303.3,240.3 C296.4,243.2 292.8,246.8 285.0,250.5 C277.2,254.2 265.3,258.6 256.7,262.5 C248.1,266.4 241.1,269.9 233.3,274.2 C225.5,278.5 217.8,283.2 210.0,288.2 C202.2,293.3 194.5,299.8 186.7,304.5 C178.9,309.2 171.1,313.1 163.3,316.2 C155.5,319.3 147.8,320.9 140.0,323.2 C132.2,325.5 124.5,327.9 116.7,330.2 C108.9,332.5 100.1,336.0 93.3,337.2 C86.5,338.4 80.0,337.2 75.8,337.2 C71.9,337.2 68.3,341.1 68.0,337.2 C66.7,321.1 66.7,256.4 68.0,240.3Z" fill="#F5E9C6"/>
<path d="M672.0,28.5 C667.5,28.7 670.8,33.2 672.0,37.5 C673.3,42.5 677.0,50.8 680.0,58.5 C683.0,66.2 687.2,75.5 690.0,83.5 C692.8,91.5 694.5,100.0 697.0,106.5 C699.5,113.0 701.3,117.7 705.0,122.5 C708.7,127.3 713.5,130.2 719.0,135.5 C724.5,140.8 731.5,148.8 738.0,154.5 C744.5,160.2 749.5,164.3 758.0,169.5 C766.5,174.7 778.4,180.9 789.1,185.4 C799.9,189.9 811.4,194.3 822.5,196.5 C833.6,198.7 844.8,199.2 855.9,198.8 C867.0,198.4 881.1,195.8 889.3,194.3 C897.3,192.8 901.2,190.6 905.0,189.9 C908.4,189.2 911.8,193.4 912.0,189.9 C913.2,163.0 952.0,55.4 912.0,28.5 C872.0,1.6 712.0,27.0 672.0,28.5Z" fill="#F5E9C6"/>
<path d="M431.7,388.5 C429.7,388.5 430.1,385.6 431.7,384.5 C435.6,381.8 447.2,375.8 455.0,372.2 C462.8,368.6 470.8,365.1 478.3,362.8 C485.8,360.5 494.2,359.8 500.0,358.2 C505.8,356.7 507.2,355.4 513.3,353.5 C519.4,351.6 528.9,348.8 536.7,346.5 C544.5,344.2 552.2,341.8 560.0,339.5 C567.8,337.2 575.5,334.8 583.3,332.5 C591.1,330.2 598.9,328.2 606.7,325.5 C614.5,322.8 622.2,318.9 630.0,316.2 C637.8,313.5 645.5,311.0 653.3,309.2 C661.1,307.5 668.9,306.2 676.7,305.7 C684.5,305.2 692.4,304.8 700.0,306.4 C707.6,308.0 714.9,311.6 722.3,315.3 C729.7,319.0 737.1,323.9 744.5,328.7 C751.9,333.5 760.1,338.7 766.8,344.3 C773.5,349.9 780.1,356.5 784.6,362.1 C789.1,367.7 791.8,373.3 793.5,377.7 C795.2,382.1 800.4,388.3 795.0,388.5 C734.7,390.3 492.2,389.2 431.7,388.5Z" fill="#F5E9C6"/>
<path d="M852.0,388.5 C846.4,387.4 853.0,382.5 855.9,377.7 C858.8,372.9 864.5,365.1 869.3,359.9 C874.1,354.7 878.9,350.2 884.9,346.5 C890.9,342.8 900.5,339.1 905.0,337.6 C908.3,336.5 911.5,334.1 912.0,337.6 C913.2,346.1 922.0,380.0 912.0,388.5 C902.0,397.0 861.4,390.3 852.0,388.5Z" fill="#F5E9C6"/>
<path d="M68.0,259.0 C68.5,255.1 72.0,259.7 75.8,259.0 C80.0,258.2 86.5,256.8 93.3,254.3 C100.1,251.8 108.9,248.3 116.7,243.8 C124.5,239.3 133.8,232.5 140.0,227.5 C146.2,222.5 150.2,217.8 154.0,213.5 C157.8,209.2 159.5,204.2 163.0,201.5 C166.5,198.8 169.1,199.7 175.0,197.5 C180.9,195.3 190.5,191.3 198.3,188.2 C206.1,185.1 213.9,181.5 221.7,178.8 C229.5,176.1 237.2,174.1 245.0,171.8 C252.8,169.5 260.8,167.0 268.3,164.8 C275.8,162.6 284.2,160.8 290.0,158.5 C295.8,156.2 297.2,152.7 303.3,150.8 C309.4,148.9 318.9,148.1 326.7,147.3 C334.5,146.5 342.2,146.5 350.0,146.2 C357.8,145.9 365.5,145.9 373.3,145.5 C381.1,145.1 388.9,144.3 396.7,143.8 C404.5,143.3 412.2,143.2 420.0,142.7 C427.8,142.2 435.5,141.6 443.3,141.0 C451.1,140.4 458.9,139.8 466.7,139.2 C474.5,138.6 482.2,138.3 490.0,137.5 C497.8,136.7 505.5,135.4 513.3,134.5 C521.1,133.6 528.9,132.2 536.7,132.2 C544.5,132.2 553.0,133.0 560.0,134.5 C567.0,136.0 573.7,138.0 578.7,141.5 C583.8,145.0 587.6,150.0 590.3,155.5 C593.0,161.0 594.2,168.0 595.0,174.2 C595.8,180.4 595.4,187.7 595.0,192.8 C594.6,197.8 594.7,200.8 592.7,204.5 C590.8,208.2 588.8,211.7 583.3,214.7 C577.8,217.8 567.8,220.9 560.0,222.8 C552.2,224.7 544.5,225.5 536.7,226.3 C528.9,227.1 521.1,227.4 513.3,227.5 C505.5,227.6 497.8,226.7 490.0,227.0 C482.2,227.3 474.5,229.1 466.7,229.4 C458.9,229.7 451.1,229.0 443.3,228.7 C435.5,228.4 427.8,227.9 420.0,227.5 C412.2,227.1 404.5,226.7 396.7,226.3 C388.9,225.9 381.1,225.4 373.3,225.2 C365.5,225.0 357.8,224.8 350.0,225.2 C342.2,225.6 334.5,226.2 326.7,227.5 C318.9,228.8 310.2,231.0 303.3,233.3 C296.4,235.6 292.8,239.0 285.0,241.5 C277.2,244.0 265.3,246.2 256.7,248.5 C248.1,250.8 241.1,253.2 233.3,255.5 C225.5,257.8 217.8,259.8 210.0,262.5 C202.2,265.2 194.5,268.7 186.7,271.8 C178.9,274.9 171.1,277.7 163.3,281.2 C155.5,284.7 147.8,288.9 140.0,292.8 C132.2,296.7 124.5,301.0 116.7,304.5 C108.9,308.0 100.1,311.8 93.3,313.8 C86.5,315.7 80.0,315.8 75.8,316.2 C71.9,316.6 68.5,320.1 68.0,316.2 C66.7,306.7 66.7,268.5 68.0,259.0Z" fill="#E2C786"/>
<path d="M709.0,28.5 C701.7,29.0 711.3,37.2 712.0,42.9 C712.7,48.6 712.8,55.8 713.4,62.9 C714.0,69.9 714.3,77.1 715.6,85.2 C716.9,93.3 718.4,104.0 721.0,111.5 C723.6,119.0 726.3,124.3 731.0,130.5 C735.7,136.7 742.2,142.8 749.0,148.5 C755.8,154.2 763.5,159.5 772.0,164.5 C780.5,169.5 791.6,175.0 800.0,178.5 C808.4,182.0 813.2,183.9 822.5,185.4 C831.8,186.9 844.8,188.0 855.9,187.6 C867.0,187.2 881.1,184.7 889.3,183.2 C897.3,181.7 901.2,179.5 905.0,178.7 C908.4,178.0 911.8,182.2 912.0,178.7 C913.2,153.7 945.8,53.5 912.0,28.5 C878.2,3.5 742.3,26.1 709.0,28.5Z" fill="#E2C786"/>
<path d="M478.3,388.5 C476.3,388.5 476.5,385.4 478.3,384.5 C481.9,382.6 494.2,380.8 500.0,376.8 C505.8,372.8 507.2,364.4 513.3,360.5 C519.4,356.6 528.9,355.8 536.7,353.5 C544.5,351.2 552.2,348.8 560.0,346.5 C567.8,344.2 575.5,341.8 583.3,339.5 C591.1,337.2 598.9,335.2 606.7,332.5 C614.5,329.8 622.2,325.7 630.0,323.2 C637.8,320.7 645.5,318.5 653.3,317.3 C661.1,316.1 668.9,315.1 676.7,316.2 C684.5,317.4 692.4,321.4 700.0,324.2 C707.6,327.0 714.9,329.4 722.3,333.1 C729.7,336.8 737.8,341.3 744.5,346.5 C751.2,351.7 757.9,359.1 762.4,364.3 C766.9,369.5 769.7,373.7 771.3,377.7 C772.9,381.7 777.4,388.3 772.0,388.5 C723.2,390.3 527.2,389.2 478.3,388.5Z" fill="#E2C786"/>
<path d="M198.3,234.5 C193.2,231.8 190.9,226.7 191.3,222.8 C191.7,218.9 196.8,214.1 200.7,211.2 C204.6,208.3 209.3,207.0 214.7,205.5 C220.1,204.0 226.3,204.3 233.3,202.2 C240.3,200.1 248.9,196.2 256.7,192.8 C264.5,189.3 272.2,184.6 280.0,181.5 C287.8,178.4 295.5,176.6 303.3,174.2 C311.1,171.8 318.9,169.2 326.7,167.2 C334.5,165.3 342.2,163.9 350.0,162.5 C357.8,161.1 365.5,160.2 373.3,159.0 C381.1,157.8 388.9,156.7 396.7,155.5 C404.5,154.3 412.2,153.2 420.0,152.0 C427.8,150.8 435.5,149.5 443.3,148.5 C451.1,147.5 458.9,147.0 466.7,146.2 C474.5,145.4 482.2,144.6 490.0,143.8 C497.8,143.0 505.5,142.1 513.3,141.5 C521.1,140.9 528.9,140.1 536.7,140.3 C544.5,140.5 553.4,141.0 560.0,142.7 C566.6,144.5 572.0,147.1 576.3,150.8 C580.6,154.5 583.8,159.3 585.7,164.8 C587.7,170.2 588.0,177.7 588.0,183.5 C588.0,189.3 587.2,195.7 585.7,199.5 C584.2,203.3 583.0,204.0 578.7,206.5 C574.4,209.0 567.0,212.6 560.0,214.7 C553.0,216.8 544.5,218.1 536.7,219.3 C528.9,220.5 521.1,221.3 513.3,221.7 C505.5,222.1 497.8,221.1 490.0,221.5 C482.2,221.9 474.5,223.8 466.7,224.0 C458.9,224.2 451.1,223.2 443.3,222.8 C435.5,222.4 427.8,222.3 420.0,221.7 C412.2,221.1 404.5,220.1 396.7,219.3 C388.9,218.5 381.1,217.8 373.3,217.0 C365.5,216.2 357.8,215.3 350.0,214.7 C342.2,214.1 334.5,213.2 326.7,213.5 C318.9,213.8 309.4,214.7 303.3,216.5 C297.2,218.3 295.8,221.8 290.0,224.5 C284.2,227.2 275.8,230.2 268.3,232.5 C260.8,234.8 252.8,236.9 245.0,238.0 C237.2,239.1 229.5,239.8 221.7,239.2 C213.9,238.6 203.4,237.2 198.3,234.5Z" fill="#B97B28"/>
<path d="M816.0,28.5 C811.6,28.9 819.0,34.3 815.8,37.3 C812.0,40.8 800.5,45.2 793.5,49.5 C786.5,53.8 779.1,57.7 773.5,62.9 C767.9,68.1 763.4,74.4 760.1,80.7 C756.8,87.0 754.2,93.7 753.5,100.8 C752.8,107.8 753.5,116.3 755.7,123.0 C757.9,129.7 761.2,135.3 766.8,140.9 C772.4,146.5 779.8,152.0 789.1,156.5 C798.4,161.0 811.4,165.8 822.5,167.6 C833.6,169.5 844.8,168.7 855.9,167.6 C867.0,166.5 881.1,163.1 889.3,160.9 C897.5,158.7 901.2,155.3 905.0,154.2 C908.4,153.2 911.8,157.7 912.0,154.2 C913.2,133.3 928.0,49.5 912.0,28.5 C896.0,7.5 832.0,27.0 816.0,28.5Z" fill="#B97B28"/>
<path d="M501.7,388.5 C499.7,388.4 500.5,386.1 501.7,384.5 C503.6,381.8 507.5,375.4 513.3,372.2 C519.1,369.0 528.9,366.0 536.7,365.2 C544.5,364.4 555.0,365.6 560.0,367.5 C565.0,369.4 565.3,373.3 567.0,376.8 C568.7,380.3 575.9,387.4 570.0,388.5 C559.1,390.4 513.1,389.2 501.7,388.5Z" fill="#B97B28"/>
<path d="M612.0,388.5 C600.9,385.9 617.7,373.3 620.7,367.5 C623.7,361.7 624.6,357.4 630.0,353.5 C635.4,349.6 645.5,346.0 653.3,344.2 C661.1,342.5 668.9,341.8 676.7,343.0 C684.5,344.2 695.0,347.3 700.0,351.2 C705.0,355.1 705.0,360.3 706.7,366.5 C708.4,372.7 720.8,386.0 710.0,388.5 C694.2,392.2 626.9,392.0 612.0,388.5Z" fill="#B97B28"/>
<path d="M368.7,183.5 C368.7,180.4 370.6,176.9 373.3,174.2 C376.0,171.5 379.2,169.5 385.0,167.2 C390.8,164.9 400.5,162.2 408.3,160.2 C416.1,158.3 423.9,156.9 431.7,155.5 C439.5,154.1 447.2,153.0 455.0,152.0 C462.8,151.0 470.8,150.2 478.3,149.7 C485.8,149.2 490.3,149.0 500.0,149.0 C509.7,149.0 527.5,149.0 536.7,149.7 C545.9,150.4 549.9,151.1 555.3,153.2 C560.7,155.3 566.2,159.0 569.3,162.5 C572.4,166.0 573.6,169.9 574.0,174.2 C574.4,178.5 572.9,184.0 571.7,188.2 C570.5,192.4 569.7,196.8 567.0,199.5 C564.3,202.2 560.3,202.7 555.3,204.2 C550.2,205.8 543.7,207.4 536.7,208.8 C529.7,210.1 521.1,211.5 513.3,212.3 C505.5,213.1 497.8,212.9 490.0,213.5 C482.2,214.1 474.5,215.8 466.7,215.8 C458.9,215.8 451.1,214.5 443.3,213.5 C435.5,212.5 427.8,211.5 420.0,210.0 C412.2,208.5 402.5,206.0 396.7,204.2 C390.9,202.5 388.9,201.4 385.0,199.5 C381.1,197.6 376.0,195.5 373.3,192.8 C370.6,190.1 368.7,186.6 368.7,183.5Z" fill="#774408"/>
<path d="M912.0,62.9 C911.6,59.4 908.4,62.4 904.9,62.9 C899.3,63.6 888.2,65.5 878.2,67.4 C868.2,69.2 855.9,70.3 844.8,74.0 C833.7,77.7 820.7,84.0 811.4,89.6 C802.1,95.2 793.9,101.9 789.1,107.5 C784.3,113.1 781.7,117.4 782.4,123.0 C783.1,128.6 786.8,136.1 793.5,140.9 C800.2,145.7 812.1,150.5 822.5,152.0 C832.9,153.5 844.8,151.6 855.9,149.8 C867.0,147.9 881.1,143.9 889.3,140.9 C897.5,137.9 901.1,133.4 904.9,131.9 C908.2,130.6 911.6,135.4 912.0,131.9 C913.2,120.4 913.2,74.4 912.0,62.9Z" fill="#774408"/>

<g fill="#f00"><circle cx="437.9" cy="36.6" r="3.5"/><circle cx="375.7" cy="61.1" r="3.5"/><circle cx="406.8" cy="61.1" r="3.5"/><circle cx="437.9" cy="61.1" r="3.5"/><circle cx="469.1" cy="61.1" r="3.5"/><circle cx="500.2" cy="61.1" r="3.5"/><circle cx="375.7" cy="85.7" r="3.5"/><circle cx="406.8" cy="85.7" r="3.5"/><circle cx="437.9" cy="85.7" r="3.5"/><circle cx="469.1" cy="85.7" r="3.5"/><circle cx="437.9" cy="110.2" r="3.5"/><circle cx="811.7" cy="110.2" r="3.5"/><circle cx="842.8" cy="110.2" r="3.5"/><circle cx="874.0" cy="110.2" r="3.5"/><circle cx="780.5" cy="134.7" r="3.5"/><circle cx="811.7" cy="134.7" r="3.5"/><circle cx="842.8" cy="134.7" r="3.5"/><circle cx="874.0" cy="134.7" r="3.5"/><circle cx="437.9" cy="159.2" r="3.5"/><circle cx="469.1" cy="159.2" r="3.5"/><circle cx="500.2" cy="159.2" r="3.5"/><circle cx="531.4" cy="159.2" r="3.5"/><circle cx="562.5" cy="159.2" r="3.5"/><circle cx="842.8" cy="159.2" r="3.5"/><circle cx="375.7" cy="183.8" r="3.5"/><circle cx="406.8" cy="183.8" r="3.5"/><circle cx="437.9" cy="183.8" r="3.5"/><circle cx="469.1" cy="183.8" r="3.5"/><circle cx="500.2" cy="183.8" r="3.5"/><circle cx="531.4" cy="183.8" r="3.5"/><circle cx="562.5" cy="183.8" r="3.5"/><circle cx="188.8" cy="208.3" r="3.5"/><circle cx="219.9" cy="208.3" r="3.5"/><circle cx="251.1" cy="208.3" r="3.5"/><circle cx="282.2" cy="208.3" r="3.5"/><circle cx="406.8" cy="208.3" r="3.5"/><circle cx="437.9" cy="208.3" r="3.5"/><circle cx="469.1" cy="208.3" r="3.5"/><circle cx="500.2" cy="208.3" r="3.5"/><circle cx="531.4" cy="208.3" r="3.5"/><circle cx="188.8" cy="232.8" r="3.5"/><circle cx="219.9" cy="232.8" r="3.5"/><circle cx="251.1" cy="232.8" r="3.5"/><circle cx="406.8" cy="257.4" r="3.5"/><circle cx="593.7" cy="257.4" r="3.5"/><circle cx="842.8" cy="257.4" r="3.5"/><circle cx="874.0" cy="257.4" r="3.5"/><circle cx="905.1" cy="257.4" r="3.5"/><circle cx="344.5" cy="281.9" r="3.5"/><circle cx="375.7" cy="281.9" r="3.5"/><circle cx="406.8" cy="281.9" r="3.5"/><circle cx="437.9" cy="281.9" r="3.5"/><circle cx="469.1" cy="281.9" r="3.5"/><circle cx="500.2" cy="281.9" r="3.5"/><circle cx="531.4" cy="281.9" r="3.5"/><circle cx="562.5" cy="281.9" r="3.5"/><circle cx="593.7" cy="281.9" r="3.5"/><circle cx="842.8" cy="281.9" r="3.5"/><circle cx="874.0" cy="281.9" r="3.5"/><circle cx="344.5" cy="306.4" r="3.5"/><circle cx="375.7" cy="306.4" r="3.5"/><circle cx="406.8" cy="306.4" r="3.5"/><circle cx="437.9" cy="306.4" r="3.5"/><circle cx="469.1" cy="306.4" r="3.5"/><circle cx="500.2" cy="306.4" r="3.5"/><circle cx="531.4" cy="306.4" r="3.5"/><circle cx="344.5" cy="331.0" r="3.5"/><circle cx="375.7" cy="331.0" r="3.5"/><circle cx="406.8" cy="331.0" r="3.5"/><circle cx="437.9" cy="331.0" r="3.5"/><circle cx="469.1" cy="331.0" r="3.5"/><circle cx="375.7" cy="355.5" r="3.5"/><circle cx="406.8" cy="355.5" r="3.5"/><circle cx="531.4" cy="355.5" r="3.5"/><circle cx="562.5" cy="355.5" r="3.5"/><circle cx="593.7" cy="355.5" r="3.5"/><circle cx="624.8" cy="355.5" r="3.5"/><circle cx="656.0" cy="355.5" r="3.5"/><circle cx="687.1" cy="355.5" r="3.5"/><circle cx="469.1" cy="380.0" r="3.5"/><circle cx="500.2" cy="380.0" r="3.5"/><circle cx="531.4" cy="380.0" r="3.5"/><circle cx="562.5" cy="380.0" r="3.5"/><circle cx="593.7" cy="380.0" r="3.5"/><circle cx="624.8" cy="380.0" r="3.5"/><circle cx="656.0" cy="380.0" r="3.5"/><circle cx="718.2" cy="380.0" r="3.5"/><circle cx="749.4" cy="380.0" r="3.5"/><circle cx="874.0" cy="380.0" r="3.5"/></g>
<path fill="none" stroke="#000" stroke-width="1.8" stroke-linejoin="round" d="M89.1,377.1 L88.7,373.6 L92.0,373.2 L89.1,366.3 L88.7,361.4 L87.1,353.0 L83.7,349.6 L78.8,346.2 L76.3,343.2 L75.4,338.3 L74.2,334.4 L72.5,329.5 L72.5,323.6 L74.6,317.7 L78.3,314.3 L78.8,317.7 L83.3,320.2 L85.4,321.1 L87.1,324.6 L89.1,328.0 L93.3,329.0 L95.8,335.9 L94.5,337.8 L97.0,337.3 L101.2,333.4 L102.8,329.0 L105.7,328.5 L111.6,324.6 L112.8,319.7 L113.2,314.3 L111.6,305.0 L109.1,300.5 L104.9,297.1 L101.6,291.7 L98.3,286.8 L99.1,282.9 L102.4,278.5 L107.8,274.5 L109.9,273.6 L115.7,275.0 L117.8,280.4 L119.4,279.4 L122.4,274.5 L130.7,269.6 L133.6,270.1 L139.0,268.2 L143.1,267.2 L147.3,263.3 L151.4,259.3 L155.6,254.9 L155.6,250.0 L158.5,245.1 L161.8,240.2 L164.7,235.3 L165.5,230.4 L163.5,228.9 L165.5,226.5 L161.8,220.6 L160.1,215.7 L157.6,211.3 L154.3,209.3 L158.5,203.9 L161.0,201.0 L168.0,199.0 L167.2,196.5 L161.8,194.6 L155.6,197.5 L153.1,196.0 L150.2,192.6 L147.7,190.6 L148.1,188.2 L151.4,188.2 L154.7,185.3 L159.7,182.3 L163.9,179.4 L166.8,181.8 L163.0,186.2 L164.3,189.2 L168.0,186.2 L172.2,184.8 L175.9,183.8 L178.0,185.7 L179.7,190.2 L178.4,193.6 L183.4,195.1 L185.5,198.5 L183.4,202.9 L184.6,208.3 L183.8,210.8 L186.7,210.3 L190.9,209.3 L195.0,207.8 L197.1,205.4 L196.7,199.5 L195.0,195.1 L192.1,190.6 L188.8,185.7 L188.8,184.3 L193.4,182.3 L197.9,179.4 L197.9,175.9 L201.7,172.0 L204.2,170.0 L208.7,167.6 L213.7,170.0 L222.0,164.6 L229.5,156.8 L234.5,149.4 L237.8,144.5 L241.9,140.1 L242.8,134.2 L243.2,128.3 L246.5,123.9 L246.1,119.5 L240.3,115.6 L234.5,116.6 L228.2,117.1 L222.0,113.1 L218.7,110.7 L226.2,105.3 L234.5,100.4 L242.8,95.5 L251.9,90.1 L255.2,89.1 L263.5,88.6 L271.8,89.1 L278.1,87.1 L287.6,91.1 L293.9,90.1 L299.7,88.1 L303.0,83.2 L310.0,78.8 L317.5,75.8 L323.8,76.8 L325.4,80.8 L322.9,84.2 L330.0,83.2 L336.2,79.3 L340.4,74.4 L337.5,73.4 L344.5,73.4 L342.4,77.8 L338.3,83.2 L336.2,86.6 L331.2,94.5 L324.6,98.4 L317.5,101.4 L310.5,107.7 L306.3,115.1 L305.9,122.5 L309.2,129.8 L315.4,124.9 L318.8,120.0 L323.8,115.1 L332.1,110.2 L337.0,104.8 L334.1,96.5 L338.3,92.5 L343.3,86.6 L348.7,83.7 L357.0,83.2 L367.4,85.7 L374.8,80.8 L381.9,76.8 L396.4,73.4 L403.5,74.4 L402.6,70.9 L399.7,64.6 L394.3,62.6 L400.6,59.7 L406.8,60.1 L419.3,61.1 L425.5,63.6 L433.8,64.1 L440.0,59.2 L448.3,57.2 L449.6,55.7 L440.0,51.3 L431.7,47.4 L423.4,42.5 L411.0,39.1 L394.3,36.6 L390.2,34.1 M202.9,213.2 L205.4,210.8 L209.6,206.3 L213.7,205.9 L219.9,204.9 L224.1,203.4 L227.0,199.0 L229.5,196.0 L234.5,196.0 L238.6,192.1 L240.3,186.2 L240.7,181.3 L242.8,177.9 L246.1,177.4 L246.9,181.3 L249.0,186.2 L246.9,192.1 L244.9,196.0 L244.0,201.0 L243.2,205.9 L241.5,208.3 L239.5,206.8 L237.4,207.3 L235.7,209.8 L233.6,209.8 L230.3,210.3 L227.4,209.8 L227.4,211.7 L224.1,215.7 L221.6,215.2 L219.9,211.7 L215.8,210.3 L211.6,211.7 L208.3,213.7 L203.3,213.2 L202.9,213.2 M198.3,215.7 L201.3,213.7 L203.3,213.7 L207.1,217.1 L205.4,223.0 L204.2,226.0 L201.7,227.4 L200.0,226.5 L200.4,222.5 L198.3,219.6 L198.3,215.7 M209.6,216.7 L211.6,213.7 L215.8,211.7 L218.7,212.2 L218.7,214.2 L216.6,216.7 L212.9,216.2 L211.2,219.1 L209.6,216.7 M240.7,176.4 L241.1,172.5 L239.9,171.0 L242.4,167.6 L246.5,168.1 L247.3,162.7 L248.6,157.3 L252.3,160.7 L256.9,163.7 L262.7,162.7 L264.0,167.6 L259.4,169.6 L254.4,174.0 L247.8,171.0 L244.9,174.9 L240.7,176.4 M249.0,154.3 L249.8,149.4 L249.4,144.5 L249.0,137.2 L249.8,129.8 L249.8,122.5 L253.2,116.6 L251.9,113.6 L254.4,120.0 L254.0,127.4 L256.5,134.7 L259.4,139.6 L253.2,138.2 L251.5,144.5 L255.2,151.9 L251.1,150.9 L249.0,154.3 M158.1,267.2 L160.6,272.1 L161.8,269.6 L164.3,262.3 L165.5,257.4 L163.9,255.9 L160.6,259.8 L158.1,264.7 L158.1,267.2 M110.3,285.3 L114.0,290.7 L118.2,288.3 L120.3,283.4 L117.4,281.4 L112.8,281.9 L110.3,285.3 M160.1,289.3 L162.6,288.8 L167.2,289.7 L166.4,296.6 L163.9,302.0 L164.7,306.4 L166.0,311.3 L170.1,312.3 L174.3,316.2 L172.2,317.2 L168.4,315.3 L165.1,312.3 L161.0,311.8 L160.1,308.9 L158.1,307.4 L157.2,301.5 L159.3,300.5 L160.1,294.2 L160.1,289.3 M166.0,345.7 L172.2,341.8 L176.3,338.3 L180.5,335.9 L183.4,334.9 L184.2,340.8 L184.6,348.1 L180.5,352.5 L178.4,350.6 L175.1,349.6 L173.8,345.7 L169.3,343.2 L166.0,345.7 M175.5,318.7 L180.5,318.7 L181.3,326.1 L178.4,331.0 L176.3,326.1 L175.5,318.7 M165.5,322.1 L170.1,323.6 L168.0,328.5 L166.0,327.0 L165.5,322.1 M168.0,328.5 L172.2,328.0 L170.9,334.9 L168.0,333.4 L168.0,328.5 M158.9,313.8 L163.9,316.2 L162.6,320.2 L159.7,318.2 L158.9,313.8 M146.0,338.8 L151.4,332.9 L155.6,327.0 L156.4,328.5 L151.8,334.9 L147.7,339.3 L146.0,338.8 M112.0,380.0 L112.0,372.7 L116.1,371.7 L120.3,372.7 L122.4,367.8 L128.6,364.3 L132.7,357.9 L137.7,355.5 L141.0,350.6 L145.2,345.7 L148.1,348.6 L151.4,354.0 L154.3,355.0 L149.3,358.9 L148.1,365.3 L149.3,375.1 L153.1,375.6 L148.5,380.0 M74.6,369.2 L78.8,370.2 L82.9,374.1 L87.1,376.1 L90.0,380.0 M474.5,110.7 L477.4,110.2 L481.5,109.0 L485.7,108.7 L489.6,106.6 L494.0,106.3 L498.3,104.9 L502.3,102.8 L504.8,99.9 L508.5,98.9 L511.3,96.5 L513.9,94.0 L516.8,90.6 L523.1,88.6 L524.2,84.6 L526.0,80.8 L529.3,82.2 L533.5,86.2 L537.2,83.6 L541.8,83.2 L548.0,84.7 L552.1,85.2 L556.3,85.7 L561.6,85.2 L566.7,87.1 L570.9,88.2 L575.0,89.6 L578.7,90.9 L581.2,94.0 L587.4,95.5 L591.6,100.4 L595.7,105.3 L599.9,110.2 L606.1,112.6 L609.7,113.4 L612.3,116.1 L614.4,120.0 L618.6,124.9 L622.7,129.8 L626.9,133.7 L630.1,136.5 L633.1,139.6 L636.4,143.1 L638.1,149.4 L639.3,154.3 L638.7,158.1 L639.8,161.7 L639.7,165.6 L637.7,169.1 L638.5,174.9 L638.1,181.3 L641.0,186.2 L643.5,192.1 L646.8,196.0 L648.5,201.0 L650.8,204.3 L651.8,208.3 L654.8,210.3 L658.0,211.7 L663.0,214.2 L664.4,217.9 L667.6,220.1 L669.7,225.5 L670.9,229.2 L672.6,232.8 L676.7,237.7 L678.8,242.7 L680.9,247.6 L684.1,249.8 L687.1,252.5 L689.3,256.9 L693.3,259.8 L696.4,262.9 L697.5,267.2 L698.7,262.3 L696.6,259.1 L693.3,257.4 L690.8,254.0 L689.2,250.0 L685.8,245.1 L682.9,240.2 L678.8,235.3 L676.9,231.9 L676.7,227.9 L677.5,224.0 L678.8,225.5 L685.0,227.9 L688.0,231.1 L689.2,235.3 L691.7,238.7 L693.3,242.7 L697.5,247.6 L699.3,251.7 L702.5,254.9 L705.8,260.8 L709.5,263.4 L712.0,267.2 L713.9,271.0 L716.2,274.5 L717.4,279.4 L719.1,285.3 L722.4,286.8 L725.3,288.8 L728.6,290.2 L734.8,292.7 L739.2,295.4 L743.2,298.6 L747.3,300.2 L751.5,301.5 L755.6,300.4 L759.8,301.5 L763.4,302.2 L766.0,305.0 L769.7,307.9 L772.2,311.8 L776.2,314.0 L780.5,315.3 L784.8,318.1 L788.8,321.1 L793.3,324.0 L797.1,327.5 L799.0,330.6 L801.3,333.4 L805.4,337.8 L811.7,339.8 L814.8,341.4 L817.9,343.2 L820.8,340.8 L826.2,336.8 L830.4,339.8 L832.4,344.7 L832.4,350.6 L833.6,355.4 L833.7,360.4 L831.3,363.8 L830.4,367.8 L826.2,372.7 L824.7,376.2 L824.1,380.0 M457.9,58.2 L462.9,63.6 L471.2,64.1 L477.4,62.1 L485.7,64.6 L481.5,67.5 L471.2,69.5 L467.0,73.4 L467.0,78.3 L471.2,83.2 L477.4,86.6 L482.8,91.5 L489.9,91.5 L500.2,92.0 L504.4,95.5 L494.0,100.4 L487.8,103.8 L479.5,107.7 L475.3,109.2 M457.9,58.2 L464.9,54.8 L473.2,53.3 L477.4,51.3 L469.1,46.4 L461.6,44.9 L467.0,40.5 L473.2,37.6 L477.4,35.1 M568.7,38.6 L573.0,38.8 L577.2,39.0 L581.2,40.5 L585.4,40.9 L589.5,39.4 L593.7,40.5 L597.8,39.1 L602.0,37.6 L606.2,37.7 L610.4,37.4 L614.4,39.1 L618.6,38.3 L622.7,37.6 L627.0,36.9 L631.1,38.4 L635.2,39.1 L639.5,38.4 L643.6,39.0 L647.6,40.5 L651.8,41.5 L655.7,43.6 L660.1,44.0 L664.4,43.8 L668.5,44.9 L672.6,46.4 L676.8,46.3 L681.0,46.6 L685.0,44.9 L689.1,46.0 L693.4,46.3 L697.5,47.4 L701.8,48.0 L705.6,44.9 L709.9,45.4 L714.0,46.7 L718.3,45.5 L722.4,46.4 L726.7,46.3 L730.9,47.1 L734.8,48.9 L739.0,48.0 L743.2,49.0 L747.3,47.9 L750.5,46.1 L754.3,46.1 L757.7,44.9 L761.0,43.0 L763.9,40.5 L768.1,35.6 M832.4,338.3 L826.2,335.9 L822.0,336.3 L817.9,335.9 L811.7,332.9 L807.5,331.0 L806.7,326.1 L805.8,322.4 L806.7,318.7 L807.5,315.1 L807.5,311.3 L808.8,306.4 L804.4,304.9 L801.3,301.5 L797.1,301.9 L793.0,302.5 L786.8,302.5 L782.6,301.5 L784.4,297.7 L786.8,294.2 L787.6,289.3 L788.2,285.1 L790.9,281.9 L792.4,278.2 L793.8,274.5 L788.8,274.5 L784.8,276.2 L780.5,275.5 L779.3,281.9 L776.5,285.0 L773.5,287.8 L768.1,289.3 L761.8,289.3 L755.6,289.7 L751.5,284.4 L749.7,280.9 L750.2,277.0 L748.3,273.5 L748.6,269.6 L748.4,266.0 L748.6,262.3 L749.8,258.7 L749.4,254.9 L750.2,250.0 L751.5,245.1 L755.6,240.2 L759.8,235.3 L766.0,234.3 L770.1,235.3 L776.4,236.8 L778.4,231.4 L784.7,231.4 L790.9,230.9 L797.1,232.8 L803.4,234.3 L805.4,240.2 L808.4,243.4 L809.6,247.6 L813.7,252.5 L817.1,256.4 L820.8,254.9 L822.0,250.0 L820.8,245.1 L819.1,240.2 L816.8,236.8 L815.8,232.8 L816.7,227.9 L817.9,223.0 L822.0,220.1 L826.2,215.7 L830.4,213.2 L833.7,210.5 L836.6,207.3 L838.7,201.0 L837.8,196.0 L839.5,191.1 L842.8,188.7 L847.0,183.8 L847.0,181.3 L850.6,180.6 L853.2,177.9 L859.4,176.4 L863.6,175.4 L863.6,171.5 L860.3,166.6 L865.7,165.1 L871.9,162.7 L876.0,161.7 L882.3,164.2 L884.5,161.3 L886.4,158.3 L884.3,155.3 L880.2,151.9 L883.1,149.2 L886.4,147.0 L886.4,142.1 L880.2,140.6 L876.3,138.4 L871.9,138.6 L867.7,138.2 L863.6,134.7 L867.6,133.2 L872.0,135.0 L876.0,133.7 L880.2,133.0 L884.3,132.5 L888.5,133.2 L892.4,131.1 L896.8,130.8 L900.1,129.2 L904.0,129.3 L907.2,127.4 M878.1,161.2 L881.4,166.1 L886.4,166.6 L892.6,161.7 L898.9,157.8 L903.4,150.4 L897.6,153.4 L890.6,156.3 L886.4,157.8 M831.6,337.8 L834.5,338.3 L838.7,333.4 L842.8,327.0 L847.0,325.1 L853.2,322.1 L857.3,323.6 L859.4,320.2 L862.7,324.1 L857.3,328.5 L857.3,333.4 L859.4,331.0 L861.5,327.0 L865.7,325.1 L871.9,327.0 L878.1,329.0 L884.3,328.0 L892.6,327.5 L896.8,329.5 L900.9,327.5 L907.2,327.0 M801.7,273.1 L805.4,270.1 L811.7,267.2 L817.9,266.2 L824.1,268.2 L830.4,270.1 L836.6,274.1 L840.7,278.0 L846.1,280.9 L844.9,282.4 L838.7,282.4 L832.4,279.4 L828.3,276.0 L822.0,273.6 L815.8,272.6 L811.7,271.1 L805.4,272.6 L801.7,273.1 M853.6,282.9 L857.3,281.9 L863.6,282.4 L867.7,283.4 L870.2,285.8 L869.8,289.3 L865.7,290.2 L859.4,290.7 L855.3,290.7 L853.2,289.7 L857.8,288.3 L853.6,282.9 M829.1,289.7 L832.4,289.3 L837.4,290.7 L835.3,292.2 L832.4,292.2 L829.1,289.7 M875.2,289.7 L881.4,289.7 L881.8,291.7 L875.2,291.7 L875.2,289.7 M761.8,91.5 L765.3,94.4 L768.1,97.9 L772.5,98.3 L776.4,100.4 L780.3,103.2 L784.7,105.3 L789.1,105.4 L793.0,107.7 L797.1,108.7 L801.3,108.9 L805.6,108.6 L809.6,110.2 L815.8,112.6 L817.9,116.3 L820.0,120.0 L820.8,124.3 L819.1,128.3 L824.1,127.4 L827.0,122.5 L827.5,118.7 L828.3,115.1 L829.4,110.9 L832.4,107.7 L833.6,103.5 L836.6,100.4 L835.4,96.8 L834.5,93.0 L833.2,88.9 L830.4,85.7 L830.5,81.7 L832.4,78.3 L834.5,73.4 L838.7,73.2 L842.8,74.4 L846.9,75.4 L851.1,75.8 L855.3,80.8 L858.4,83.0 L862.1,83.2 L865.7,84.2 L867.7,90.6 L871.9,93.0 L874.8,90.4 L878.1,88.1 L884.3,89.1 L886.7,92.5 L890.6,94.0 L893.6,96.5 L894.7,100.4 L896.0,103.9 L898.9,106.3 L903.3,107.7 L907.2,110.2 M761.8,91.5 L759.8,85.7 L758.3,82.1 L757.7,78.3 L760.2,75.1 L763.9,73.4 L768.3,71.3 L772.2,68.5 L776.1,66.2 L780.5,66.0 L784.7,63.7 L788.8,61.1 L792.8,58.9 L797.1,57.2 L800.8,54.4 L805.4,53.8 L808.6,52.1 L811.7,50.3 L815.8,45.4 L814.6,39.1 L813.7,34.1 M801.3,68.5 L805.3,66.3 L809.6,65.1 L814.7,63.4 L820.0,63.6 L822.0,68.5 L817.7,71.4 L813.7,74.9 L809.4,75.2 L805.4,73.4 L801.3,68.5 M828.3,35.6 L829.8,39.7 L830.4,44.0 L833.2,47.2 L834.5,51.3 L833.1,54.9 L832.4,58.7 L836.1,59.4 L838.7,62.1 L840.7,65.4 L842.8,68.5 L847.0,73.4 L851.0,71.1 L855.3,69.5 L859.0,66.9 L863.6,66.5 L867.7,65.1 L871.3,61.6 L876.0,60.1 L880.1,56.8 L884.3,53.8 L887.9,50.4 L892.6,48.9 L896.3,45.5 L900.9,44.0 L905.0,42.1 L909.3,40.5 M772.2,150.9 L776.4,150.9 L780.5,151.9 L784.7,151.0 L788.8,151.9 L792.9,152.8 L797.1,152.9 L803.4,151.4 L801.3,147.0 L797.5,145.4 L795.1,142.1 L789.9,142.0 L784.7,142.1 L780.7,144.8 L776.4,147.0 L772.2,150.9 M790.9,154.3 L791.3,164.2 L790.5,171.5 L792.6,174.9 L795.1,173.0 L796.3,166.6 L798.0,159.2 L801.7,155.3 L795.1,154.3 L790.9,154.3 M805.4,155.3 L809.6,152.9 L820.0,153.4 L821.2,159.2 L815.8,161.7 L814.6,167.6 L811.7,169.1 L810.8,164.2 L806.3,161.7 L805.4,155.3 M807.5,175.9 L811.7,176.9 L820.0,174.0 L827.0,170.5 L824.1,169.1 L815.8,170.5 L809.6,174.0 L807.5,175.9 M824.1,167.6 L830.4,168.1 L837.8,166.1 L836.6,163.2 L828.3,165.6 L824.1,167.6 M178.0,34.1 L176.3,41.5 L170.9,47.9 L178.4,56.2 L187.5,64.1 L198.3,69.0 L197.1,74.9 L182.6,79.3 L166.0,82.7 L154.3,84.7 L136.5,82.2 L126.9,88.1 M153.1,68.0 L166.0,66.0 L180.5,65.5 L190.0,66.5 M198.3,69.0 L207.5,70.9 L220.8,71.4 L222.0,84.7 L215.8,90.6 M200.8,149.4 L209.6,146.0 L218.7,138.2 L228.2,131.3 L239.0,125.4 L243.2,120.5 M124.4,231.4 L134.0,229.9 L141.0,233.8 L147.3,228.9 L152.7,223.0 L157.6,222.0 L163.0,225.0 M90.4,126.9 L95.4,125.9 L101.6,122.5 L109.9,117.5 L114.0,110.2 L116.1,106.3 L113.2,107.2 L109.1,115.1 L103.7,120.0 L97.4,123.4 L92.0,125.4 L90.4,126.9 M643.5,60.1 L647.4,57.8 L651.8,56.2 L655.5,53.2 L660.1,51.8 L663.0,53.9 L666.3,55.2 L663.2,57.4 L659.4,57.4 L656.0,58.7 L651.9,60.5 L647.6,61.6 L643.5,60.1 M670.5,73.4 L674.1,74.1 L677.7,74.8 L680.9,76.8 L684.9,78.7 L689.2,79.8 L693.1,77.9 L697.5,78.3 L701.6,73.4 L697.5,72.6 L693.3,71.9 L689.9,73.1 L686.7,74.7 L682.9,74.4 L678.8,73.4 L674.6,72.4 L670.5,73.4 M749.4,132.8 L753.5,129.8 L750.2,124.9 L747.9,121.4 L746.5,117.5 L745.2,116.1 L743.2,119.0 L746.5,124.9 L748.8,128.5 L749.4,132.8 M672.6,35.6 L676.9,37.7 L680.9,40.5 L685.0,39.5 L689.2,40.6 L693.3,40.0 L697.7,39.9 L701.6,42.1 L705.8,43.0 L709.9,41.8 L713.9,40.2 L718.2,40.5 L722.4,39.6 L726.5,38.6 L730.7,35.1 M747.3,39.1 L751.5,43.5 L757.7,42.5 L755.6,38.1 L751.5,39.0 L747.3,39.1 M734.8,48.9 L739.1,49.1 L743.2,50.3 L747.3,47.9 L751.5,53.3 L755.6,48.9 L757.7,44.9 M693.3,46.9 L697.5,46.7 L701.6,47.4 L705.8,52.3 L709.9,48.9 L714.1,45.9 M774.3,37.6 L780.5,40.0 L784.5,38.4 L788.8,37.6 L795.1,35.1 M797.1,45.4 L800.0,43.1 L803.4,41.5 L807.5,37.6 L803.4,35.1 M834.5,35.1 L838.9,36.7 L842.8,39.1 L846.8,37.4 L851.1,37.6 L855.4,36.5 L859.4,34.6 M597.8,37.6 L602.1,38.1 L606.1,39.5 L609.9,37.0 L614.4,36.1 M807.5,71.9 L813.7,73.4 L815.8,70.9 L809.6,70.0 L807.5,71.9"/>
<path fill="#000" d="M95.1,37.2 L95.7,37.5 L94.5,38.4 L101.4,39.6 L96.3,34.8 L96.3,36.3 L95.7,36.0Z M126.2,37.2 L126.8,37.5 L125.6,38.4 L132.5,39.6 L127.4,34.8 L127.4,36.3 L126.8,36.0Z M407.6,37.4 L410.0,35.1 L410.9,37.6 L416.8,26.6 L405.8,32.5 L408.3,33.4 L406.0,35.8Z M438.5,37.7 L448.8,32.5 L448.8,35.2 L457.9,26.6 L445.6,28.7 L447.7,30.4 L437.4,35.5Z M469.4,37.8 L478.9,35.4 L478.3,38.0 L489.1,31.6 L476.6,31.0 L478.3,33.1 L468.8,35.4Z M500.2,37.8 L504.4,37.8 L503.2,40.2 L515.2,36.6 L503.2,33.0 L504.4,35.4 L500.2,35.4Z M94.9,61.8 L95.6,62.3 L93.9,63.2 L102.4,66.1 L96.9,59.0 L96.6,60.9 L95.9,60.4Z M126.1,61.7 L126.7,62.1 L125.3,62.9 L132.5,65.1 L127.7,59.3 L127.5,60.9 L126.9,60.5Z M282.7,61.2 L282.8,60.7 L283.7,61.4 L283.2,56.1 L280.7,60.8 L281.8,60.5 L281.7,61.0Z M314.6,61.3 L314.8,60.0 L316.9,61.6 L315.4,49.1 L309.8,60.4 L312.4,59.6 L312.2,60.9Z M345.7,61.3 L347.8,50.0 L349.9,51.6 L348.5,39.1 L342.8,50.3 L345.4,49.5 L343.3,60.9Z M376.8,61.5 L383.2,43.7 L385.0,45.6 L385.7,33.1 L378.2,43.2 L380.9,42.9 L374.5,60.7Z M407.7,61.9 L423.9,42.2 L425.0,44.7 L429.8,33.1 L419.4,40.1 L422.0,40.7 L405.9,60.4Z M438.2,62.3 L493.5,52.2 L492.8,54.8 L503.9,49.1 L491.5,47.7 L493.1,49.9 L437.7,59.9Z M469.3,62.3 L511.6,55.9 L510.8,58.5 L522.1,53.1 L509.7,51.4 L511.2,53.6 L468.9,59.9Z M499.6,62.2 L515.4,71.6 L513.1,73.0 L525.2,76.1 L516.8,66.9 L516.6,69.5 L500.8,60.1Z M531.4,61.5 L531.8,61.5 L531.4,62.3 L535.4,61.1 L531.4,59.9 L531.8,60.7 L531.4,60.7Z M562.7,60.9 L562.5,60.7 L563.1,60.5 L560.5,59.1 L561.9,61.7 L562.1,61.1 L562.3,61.3Z M594.1,61.1 L594.1,60.7 L594.9,61.1 L593.7,57.1 L592.5,61.1 L593.3,60.7 L593.3,61.1Z M718.4,61.5 L718.8,61.3 L718.8,62.3 L722.2,59.1 L717.6,59.9 L718.4,60.5 L718.0,60.7Z M749.6,61.5 L750.0,61.3 L750.0,62.3 L753.4,59.1 L748.8,59.9 L749.6,60.5 L749.2,60.7Z M780.2,62.3 L781.8,62.7 L780.0,64.7 L792.5,64.1 L781.8,57.7 L782.3,60.3 L780.8,60.0Z M95.2,86.3 L95.8,86.5 L94.8,87.5 L101.4,87.7 L96.0,83.9 L96.2,85.3 L95.6,85.1Z M219.8,85.4 L219.5,85.5 L219.6,84.8 L216.9,86.7 L220.2,86.6 L219.7,86.1 L220.0,86.0Z M283.0,85.7 L283.0,84.9 L284.6,85.7 L282.2,77.7 L279.8,85.7 L281.4,84.9 L281.4,85.7Z M314.6,85.7 L314.6,60.5 L317.0,61.7 L313.4,49.7 L309.8,61.7 L312.2,60.5 L312.2,85.7Z M345.7,85.7 L347.0,66.5 L349.3,67.9 L346.5,55.7 L342.1,67.4 L344.6,66.4 L343.3,85.6Z M376.8,86.1 L387.7,59.1 L389.5,61.1 L390.7,48.7 L382.8,58.4 L385.5,58.2 L374.5,85.2Z M407.8,86.3 L428.3,51.6 L429.8,53.8 L432.8,41.7 L423.6,50.2 L426.3,50.3 L405.8,85.0Z M438.5,86.7 L495.9,56.7 L496.0,59.4 L504.9,50.7 L492.6,53.0 L494.8,54.6 L437.4,84.6Z M469.4,86.8 L542.9,67.6 L542.4,70.2 L553.1,63.7 L540.6,63.2 L542.3,65.2 L468.8,84.5Z M500.2,86.9 L511.4,86.9 L510.2,89.3 L522.2,85.7 L510.2,82.1 L511.4,84.5 L500.2,84.5Z M531.5,85.3 L531.1,85.2 L531.7,84.5 L527.4,84.7 L531.1,86.9 L530.9,86.0 L531.3,86.1Z M594.1,85.9 L594.3,85.5 L594.9,86.3 L595.7,81.7 L592.5,85.1 L593.5,85.1 L593.3,85.5Z M624.8,86.5 L625.6,86.5 L624.8,88.1 L632.8,85.7 L624.8,83.3 L625.6,84.9 L624.8,84.9Z M656.0,86.5 L656.8,86.5 L656.0,88.1 L664.0,85.7 L656.0,83.3 L656.8,84.9 L656.0,84.9Z M687.1,86.4 L687.8,86.4 L687.1,87.8 L694.1,85.7 L687.1,83.6 L687.8,85.0 L687.1,85.0Z M718.3,86.3 L718.9,86.2 L718.5,87.5 L724.2,84.7 L717.9,83.9 L718.7,85.0 L718.1,85.1Z M749.6,86.3 L750.2,86.1 L750.0,87.5 L755.4,83.7 L748.8,83.9 L749.8,84.9 L749.2,85.1Z M780.6,86.6 L781.5,86.5 L780.8,88.4 L789.5,84.7 L780.2,83.0 L781.3,84.7 L780.4,84.8Z M811.5,86.6 L812.4,86.8 L811.1,88.4 L820.7,87.7 L812.3,83.0 L812.8,85.0 L811.9,84.8Z M842.5,86.6 L843.4,86.9 L841.9,88.4 L851.8,88.7 L843.7,83.0 L844.0,85.1 L843.1,84.8Z M94.8,110.6 L95.2,111.2 L93.6,111.4 L99.4,116.2 L97.2,109.0 L96.4,110.4 L96.0,109.8Z M157.2,110.6 L157.6,111.0 L156.4,111.4 L161.6,114.2 L158.8,109.0 L158.4,110.2 L158.0,109.8Z M188.5,110.6 L188.9,110.9 L187.9,111.4 L192.8,113.2 L189.7,109.0 L189.5,110.1 L189.1,109.8Z M282.7,110.2 L282.7,109.7 L283.7,110.2 L282.2,105.2 L280.7,110.2 L281.7,109.7 L281.7,110.2Z M314.5,109.8 L312.3,103.9 L315.0,104.2 L307.4,94.2 L308.2,106.7 L310.0,104.7 L312.2,110.6Z M345.7,110.3 L349.1,50.0 L351.4,51.4 L348.5,39.2 L344.2,51.0 L346.7,49.9 L343.3,110.1Z M376.8,110.4 L383.1,71.0 L385.3,72.6 L383.7,60.2 L378.2,71.5 L380.8,70.7 L374.5,110.0Z M408.0,110.4 L415.9,71.0 L418.0,72.7 L416.8,60.2 L410.9,71.3 L413.5,70.5 L405.6,110.0Z M438.9,111.0 L469.0,74.3 L470.1,76.7 L474.9,65.2 L464.5,72.2 L467.2,72.8 L437.0,109.4Z M469.5,111.3 L512.3,96.0 L512.0,98.6 L522.1,91.2 L509.6,91.9 L511.5,93.7 L468.7,109.1Z M500.2,111.4 L508.4,111.4 L507.2,113.8 L519.2,110.2 L507.2,106.6 L508.4,109.0 L500.2,109.0Z M531.6,109.8 L531.2,109.6 L532.0,109.0 L527.4,108.2 L530.8,111.4 L530.8,110.4 L531.2,110.6Z M563.0,110.0 L562.8,109.5 L564.0,109.6 L560.5,105.2 L561.0,110.8 L561.8,109.9 L562.0,110.4Z M594.3,110.4 L594.5,109.8 L595.5,110.8 L595.7,104.2 L591.9,109.6 L593.3,109.4 L593.1,110.0Z M625.0,110.9 L625.7,110.7 L625.4,112.3 L631.8,108.2 L624.2,108.1 L625.3,109.3 L624.6,109.5Z M656.2,111.0 L657.0,110.8 L656.6,112.6 L664.0,108.2 L655.4,107.8 L656.5,109.2 L655.8,109.4Z M687.3,111.0 L688.1,110.8 L687.7,112.6 L695.1,108.2 L686.5,107.8 L687.7,109.2 L686.9,109.4Z M718.3,111.0 L719.1,110.9 L718.5,112.6 L726.2,109.2 L717.9,107.8 L718.9,109.3 L718.1,109.4Z M749.4,111.4 L752.6,111.4 L751.4,113.8 L763.4,110.2 L751.4,106.6 L752.6,109.0 L749.4,109.0Z M780.3,111.4 L787.7,112.6 L786.1,114.8 L798.5,113.2 L787.3,107.7 L788.1,110.2 L780.7,109.0Z M811.2,111.3 L814.2,112.4 L812.2,114.2 L824.7,115.2 L814.8,107.5 L815.0,110.2 L812.1,109.1Z M842.3,111.3 L848.6,114.4 L846.5,116.0 L858.8,118.2 L849.7,109.6 L849.7,112.3 L843.3,109.1Z M873.2,110.6 L873.6,111.4 L871.6,111.4 L878.0,118.2 L876.4,109.0 L875.2,110.6 L874.8,109.8Z M94.5,135.1 L94.9,136.0 L92.7,135.9 L99.4,143.7 L98.1,133.5 L96.7,135.2 L96.3,134.3Z M125.3,134.8 L125.4,136.1 L122.9,135.1 L127.5,146.7 L130.1,134.5 L127.8,135.9 L127.7,134.6Z M156.6,135.2 L158.0,138.4 L155.4,138.3 L163.6,147.7 L161.9,135.3 L160.2,137.4 L158.7,134.2Z M187.9,135.3 L188.5,136.2 L186.1,136.5 L194.8,143.7 L191.5,132.9 L190.3,135.0 L189.7,134.1Z M219.5,134.6 L219.4,135.0 L218.7,134.4 L218.9,138.7 L221.1,135.0 L220.2,135.2 L220.3,134.8Z M283.0,134.7 L283.0,133.9 L284.6,134.7 L282.2,126.7 L279.8,134.7 L281.4,133.9 L281.4,134.7Z M314.2,134.7 L314.2,133.9 L315.8,134.7 L313.4,126.7 L311.0,134.7 L312.6,133.9 L312.6,134.7Z M345.7,134.7 L345.7,128.5 L348.1,129.7 L344.5,117.7 L340.9,129.7 L343.3,128.5 L343.3,134.7Z M376.8,134.9 L380.5,104.6 L382.8,106.1 L380.7,93.7 L375.6,105.2 L378.2,104.3 L374.5,134.6Z M408.0,134.9 L412.3,106.6 L414.5,108.1 L412.8,95.7 L407.4,107.0 L410.0,106.2 L405.6,134.5Z M439.1,134.9 L441.1,124.6 L443.2,126.2 L441.9,113.7 L436.2,124.8 L438.7,124.1 L436.8,134.5Z M499.3,134.8 L499.4,135.7 L497.5,135.0 L501.2,143.7 L502.9,134.4 L501.2,135.5 L501.1,134.6Z M563.6,135.3 L565.1,132.7 L566.6,134.9 L569.5,122.7 L560.4,131.3 L563.0,131.4 L561.5,134.1Z M594.6,135.5 L600.5,128.7 L601.5,131.1 L606.7,119.7 L596.1,126.4 L598.7,127.1 L592.8,133.9Z M625.5,135.7 L630.4,132.6 L630.7,135.2 L638.8,125.7 L626.8,129.2 L629.1,130.6 L624.2,133.7Z M656.7,135.6 L659.4,133.5 L659.9,136.1 L667.0,125.7 L655.4,130.5 L657.8,131.6 L655.2,133.8Z M687.9,135.6 L689.9,133.8 L690.6,136.4 L697.1,125.7 L685.8,131.1 L688.3,132.1 L686.3,133.8Z M718.9,135.7 L720.8,134.5 L721.0,137.2 L729.2,127.7 L717.2,131.1 L719.5,132.5 L717.6,133.7Z M749.7,135.9 L753.3,134.8 L752.8,137.5 L763.4,130.7 L750.9,130.6 L752.7,132.5 L749.1,133.6Z M780.6,135.9 L790.9,134.9 L789.9,137.4 L801.5,132.7 L789.2,130.3 L790.7,132.5 L780.4,133.5Z M811.6,135.9 L822.8,136.4 L821.5,138.8 L833.7,135.7 L821.8,131.6 L822.9,134.0 L811.7,133.5Z M842.6,135.9 L853.0,137.9 L851.4,140.0 L863.8,138.7 L852.7,132.9 L853.4,135.5 L843.0,133.5Z M873.5,135.8 L874.6,136.3 L872.5,138.0 L885.0,139.7 L875.5,131.5 L875.6,134.2 L874.5,133.6Z M94.4,160.0 L95.7,161.6 L93.1,162.1 L103.4,169.2 L98.7,157.6 L97.6,160.1 L96.3,158.5Z M125.4,159.8 L129.4,167.3 L126.7,167.3 L135.5,176.2 L133.1,164.0 L131.5,166.1 L127.6,158.7Z M156.5,159.7 L159.6,167.6 L156.9,167.4 L164.6,177.2 L163.7,164.8 L161.9,166.7 L158.8,158.8Z M187.6,159.6 L188.7,163.2 L186.0,162.7 L192.8,173.2 L193.0,160.7 L191.0,162.5 L189.9,158.9Z M219.0,159.4 L219.2,160.3 L217.2,159.8 L221.9,168.2 L222.6,158.7 L221.0,160.0 L220.8,159.1Z M345.3,159.2 L345.3,158.4 L346.9,159.2 L344.5,151.2 L342.1,159.2 L343.7,158.4 L343.7,159.2Z M376.9,159.4 L377.8,150.1 L380.0,151.5 L377.7,139.2 L372.9,150.8 L375.4,149.9 L374.5,159.1Z M408.0,159.2 L406.9,145.9 L409.4,146.9 L404.8,135.2 L402.2,147.5 L404.5,146.1 L405.6,159.3Z M438.7,158.9 L438.4,158.1 L440.3,158.3 L434.9,151.2 L435.5,160.2 L436.8,158.8 L437.1,159.6Z M469.0,159.6 L469.3,159.7 L468.8,160.2 L472.1,160.2 L469.4,158.3 L469.5,159.0 L469.2,158.9Z M500.1,160.4 L511.4,162.0 L509.9,164.2 L522.2,162.2 L510.8,157.1 L511.7,159.6 L500.4,158.1Z M531.3,160.4 L545.5,161.0 L544.2,163.4 L556.4,160.2 L544.5,156.2 L545.6,158.6 L531.4,158.1Z M562.8,160.4 L595.2,153.6 L594.5,156.2 L605.5,150.2 L593.0,149.2 L594.7,151.3 L562.3,158.1Z M594.0,160.4 L628.8,148.8 L628.4,151.5 L638.7,144.2 L626.1,144.6 L628.0,146.5 L593.3,158.1Z M625.2,160.4 L645.9,153.7 L645.5,156.4 L655.8,149.2 L643.3,149.5 L645.2,151.4 L624.4,158.1Z M656.5,160.3 L664.8,156.2 L664.8,158.8 L674.0,150.2 L661.6,152.4 L663.8,154.0 L655.4,158.2Z M687.7,160.3 L697.6,154.0 L697.9,156.7 L706.1,147.2 L694.0,150.6 L696.3,152.0 L686.5,158.2Z M719.1,160.1 L725.4,153.7 L726.3,156.3 L732.2,145.2 L721.2,151.2 L723.8,152.0 L717.4,158.4Z M750.2,160.1 L756.6,153.7 L757.4,156.3 L763.4,145.2 L752.4,151.2 L754.9,152.0 L748.5,158.4Z M780.9,160.2 L781.8,159.8 L781.7,161.9 L789.5,155.2 L779.3,156.6 L781.0,157.9 L780.1,158.3Z M811.9,160.4 L814.4,159.8 L813.8,162.5 L824.7,156.2 L812.2,155.4 L813.9,157.5 L811.4,158.1Z M842.9,160.4 L845.1,160.3 L844.1,162.8 L855.8,158.2 L843.6,155.6 L845.0,157.9 L842.7,158.1Z M874.2,159.9 L874.9,159.8 L874.6,161.3 L881.0,157.2 L873.4,157.2 L874.5,158.4 L873.8,158.6Z M94.8,184.2 L95.2,184.8 L93.6,185.0 L99.4,189.8 L97.2,182.6 L96.4,184.0 L96.0,183.4Z M125.5,184.4 L126.1,185.4 L123.5,185.6 L132.5,193.8 L129.5,182.0 L128.1,184.2 L127.5,183.2Z M156.7,184.5 L157.5,185.6 L154.8,186.0 L164.6,193.8 L160.7,181.9 L159.4,184.2 L158.6,183.1Z M187.7,184.2 L188.8,187.1 L186.1,186.9 L193.8,196.8 L192.8,184.3 L191.0,186.3 L189.9,183.3Z M219.2,184.2 L219.6,184.9 L217.8,185.0 L223.9,190.8 L222.0,182.6 L221.0,184.1 L220.6,183.4Z M281.7,184.1 L282.0,184.6 L280.7,184.7 L285.2,188.8 L283.7,182.9 L283.0,184.0 L282.7,183.5Z M314.0,183.6 L313.8,183.0 L315.2,183.2 L311.4,177.8 L311.6,184.4 L312.6,183.4 L312.8,184.0Z M345.1,183.6 L344.9,183.0 L346.3,183.2 L342.5,177.8 L342.7,184.4 L343.7,183.4 L343.9,184.0Z M376.2,183.7 L376.1,183.2 L377.2,183.5 L374.7,178.8 L374.2,184.1 L375.1,183.4 L375.2,183.9Z M407.6,183.5 L407.3,182.7 L409.2,182.9 L403.8,175.8 L404.4,184.7 L405.7,183.3 L406.0,184.1Z M437.8,184.1 L438.1,184.2 L437.6,184.7 L440.9,184.8 L438.2,182.9 L438.3,183.6 L438.0,183.5Z M468.6,184.9 L473.8,187.3 L471.7,189.0 L484.1,190.8 L474.7,182.4 L474.8,185.1 L469.6,182.7Z M500.0,185.0 L531.4,190.2 L529.8,192.4 L542.2,190.8 L531.0,185.3 L531.8,187.8 L500.4,182.6Z M531.2,185.0 L573.5,191.4 L572.0,193.5 L584.4,191.8 L573.0,186.4 L573.9,189.0 L531.6,182.6Z M562.1,184.9 L610.0,202.2 L608.0,204.1 L620.5,204.8 L610.5,197.3 L610.8,200.0 L562.9,182.7Z M593.4,185.0 L640.9,195.6 L639.2,197.7 L651.7,196.8 L640.7,190.6 L641.4,193.2 L593.9,182.6Z M624.6,185.0 L659.0,190.3 L657.4,192.5 L669.8,190.8 L658.5,185.4 L659.3,187.9 L625.0,182.6Z M655.6,184.9 L667.2,188.1 L665.4,190.1 L678.0,189.8 L667.3,183.1 L667.8,185.8 L656.3,182.6Z M687.2,185.0 L692.4,184.7 L691.3,187.1 L703.1,182.8 L690.9,179.9 L692.2,182.3 L687.0,182.6Z M718.8,184.8 L726.3,180.9 L726.3,183.6 L735.2,174.8 L722.9,177.2 L725.1,178.8 L717.7,182.7Z M750.3,184.6 L754.3,179.8 L755.4,182.3 L760.4,170.8 L749.9,177.6 L752.5,178.2 L748.5,183.0Z M781.2,184.2 L781.6,183.5 L782.6,185.0 L784.5,176.8 L778.4,182.6 L780.2,182.7 L779.8,183.4Z M157.4,208.6 L157.8,208.8 L157.0,209.2 L160.6,210.3 L158.2,207.4 L158.1,208.2 L157.8,208.0Z M188.5,208.6 L188.8,208.9 L187.9,209.2 L191.8,211.3 L189.7,207.4 L189.4,208.3 L189.1,208.0Z M219.5,208.7 L219.9,209.1 L218.7,209.5 L223.9,212.3 L221.1,207.1 L220.7,208.3 L220.3,207.9Z M250.6,208.8 L251.1,209.3 L249.6,209.8 L256.1,213.3 L252.6,206.8 L252.1,208.3 L251.6,207.8Z M281.1,208.6 L281.6,211.1 L279.0,210.4 L285.2,221.3 L286.0,208.8 L284.0,210.5 L283.4,208.0Z M312.3,208.2 L312.2,209.3 L310.1,208.0 L312.4,219.3 L316.7,208.6 L314.4,209.5 L314.5,208.4Z M344.2,207.4 L343.3,207.7 L343.6,205.6 L335.5,211.3 L345.4,211.0 L343.9,209.5 L344.8,209.2Z M375.6,208.1 L375.4,208.2 L375.4,207.7 L373.7,209.3 L376.0,208.9 L375.6,208.6 L375.8,208.5Z M468.9,209.5 L473.3,210.4 L471.6,212.5 L484.1,211.3 L473.0,205.4 L473.7,208.0 L469.3,207.1Z M499.6,209.4 L508.2,214.1 L506.0,215.6 L518.2,218.3 L509.5,209.3 L509.4,212.0 L500.8,207.3Z M531.0,209.5 L566.7,221.1 L564.9,223.0 L577.4,223.3 L567.1,216.2 L567.5,218.8 L531.7,207.2Z M561.6,209.1 L596.3,246.2 L593.7,247.0 L604.5,253.3 L599.0,242.1 L598.0,244.6 L563.4,207.5Z M592.8,209.1 L626.7,248.0 L624.1,248.6 L634.7,255.3 L629.5,243.9 L628.5,246.4 L594.6,207.5Z M624.1,209.3 L645.2,223.3 L642.8,224.6 L654.8,228.3 L646.8,218.7 L646.5,221.3 L625.5,207.3Z M655.5,209.4 L665.5,213.4 L663.5,215.2 L676.0,216.3 L666.1,208.5 L666.4,211.2 L656.4,207.2Z M686.9,209.0 L687.6,209.2 L686.5,210.4 L694.1,210.3 L687.7,206.2 L688.0,207.8 L687.3,207.6Z M718.9,208.7 L719.3,208.0 L720.3,209.5 L722.2,201.3 L716.1,207.1 L717.9,207.2 L717.5,207.9Z M750.2,208.4 L750.3,207.6 L751.8,208.6 L750.4,200.3 L747.0,208.0 L748.7,207.4 L748.6,208.2Z M780.9,208.3 L780.9,207.9 L781.7,208.3 L780.5,204.3 L779.3,208.3 L780.1,207.9 L780.1,208.3Z M188.3,233.1 L188.6,233.6 L187.3,233.7 L191.8,237.8 L190.3,231.9 L189.6,233.0 L189.3,232.5Z M219.4,233.5 L220.1,234.0 L218.4,234.9 L226.9,237.8 L221.4,230.7 L221.1,232.6 L220.4,232.1Z M250.2,233.6 L252.0,235.6 L249.4,236.3 L260.1,242.8 L254.7,231.5 L253.7,234.0 L252.0,232.0Z M281.1,233.3 L284.2,241.2 L281.5,241.0 L289.2,250.8 L288.2,238.4 L286.4,240.3 L283.3,232.4Z M312.2,233.1 L314.0,241.5 L311.4,240.8 L317.4,251.8 L318.4,239.4 L316.3,241.0 L314.5,232.6Z M343.5,232.8 L343.5,233.8 L341.5,232.8 L344.5,242.8 L347.5,232.8 L345.5,233.8 L345.5,232.8Z M406.2,232.8 L406.2,233.4 L405.0,232.8 L406.8,238.8 L408.6,232.8 L407.4,233.4 L407.4,232.8Z M437.3,232.8 L437.3,233.4 L436.1,232.8 L437.9,238.8 L439.7,232.8 L438.5,233.4 L438.5,232.8Z M468.5,232.8 L468.5,233.4 L467.3,232.8 L469.1,238.8 L470.9,232.8 L469.7,233.4 L469.7,232.8Z M499.5,232.8 L499.5,233.5 L498.1,232.8 L500.2,239.8 L502.3,232.8 L500.9,233.5 L500.9,232.8Z M530.2,233.2 L534.7,246.0 L532.0,245.7 L539.4,255.8 L538.8,243.3 L537.0,245.2 L532.5,232.4Z M561.4,233.2 L570.0,259.9 L567.4,259.5 L574.5,269.8 L574.2,257.3 L572.3,259.2 L563.7,232.5Z M592.6,233.3 L601.3,253.4 L598.6,253.3 L606.7,262.8 L605.2,250.4 L603.5,252.5 L594.8,232.4Z M623.7,233.3 L627.7,243.3 L625.0,243.0 L632.8,252.8 L631.7,240.4 L629.9,242.4 L625.9,232.4Z M655.1,233.6 L657.8,236.7 L655.2,237.4 L666.0,243.8 L660.5,232.5 L659.6,235.0 L656.8,232.0Z M719.1,232.8 L719.1,231.9 L720.9,232.8 L718.2,223.8 L715.5,232.8 L717.3,231.9 L717.3,232.8Z M750.0,232.8 L750.0,232.2 L751.2,232.8 L749.4,226.8 L747.6,232.8 L748.8,232.2 L748.8,232.8Z M780.9,232.8 L780.9,232.4 L781.7,232.8 L780.5,228.8 L779.3,232.8 L780.1,232.4 L780.1,232.8Z M812.2,232.7 L812.1,232.2 L813.2,232.5 L810.7,227.8 L810.2,233.1 L811.1,232.4 L811.2,232.9Z M873.6,233.0 L873.8,233.4 L872.8,233.4 L876.0,236.8 L875.2,232.2 L874.6,233.0 L874.4,232.6Z M219.4,257.6 L219.6,258.1 L218.4,258.0 L221.9,262.4 L221.4,256.8 L220.6,257.7 L220.4,257.2Z M250.1,257.8 L250.5,258.8 L248.1,258.6 L255.1,267.4 L254.1,256.2 L252.5,258.0 L252.1,257.0Z M281.1,257.8 L283.1,262.8 L280.4,262.6 L288.2,272.4 L287.1,259.9 L285.3,261.9 L283.3,256.9Z M312.3,257.9 L317.6,269.1 L315.0,269.1 L323.4,278.4 L321.5,266.0 L319.8,268.1 L314.5,256.9Z M343.5,258.0 L348.9,266.8 L346.2,267.0 L355.5,275.4 L352.3,263.3 L350.9,265.5 L345.5,256.7Z M374.5,257.7 L376.3,263.4 L373.6,263.0 L380.7,273.4 L380.5,260.8 L378.6,262.7 L376.8,257.0Z M405.6,257.6 L408.7,274.9 L406.1,274.2 L411.8,285.4 L413.2,272.9 L411.1,274.5 L408.0,257.2Z M436.8,257.6 L440.6,277.0 L438.1,276.3 L443.9,287.4 L445.1,274.9 L443.0,276.5 L439.1,257.1Z M467.9,257.6 L470.1,269.9 L467.5,269.2 L473.1,280.4 L474.6,267.9 L472.4,269.5 L470.3,257.2Z M499.1,256.9 L497.4,261.0 L495.6,258.9 L494.2,271.4 L502.3,261.8 L499.6,261.9 L501.3,257.8Z M530.2,257.2 L528.0,269.5 L525.9,267.9 L527.4,280.4 L533.0,269.2 L530.4,269.9 L532.6,257.6Z M561.4,257.6 L565.9,277.1 L563.3,276.5 L569.5,287.4 L570.3,274.9 L568.2,276.6 L563.7,257.1Z M592.5,257.8 L596.0,267.6 L593.3,267.2 L600.7,277.4 L600.1,264.9 L598.2,266.8 L594.8,257.0Z M623.7,257.9 L624.2,259.0 L621.6,258.9 L629.8,268.4 L628.1,256.0 L626.4,258.0 L625.9,256.9Z M655.2,257.8 L655.6,258.5 L653.9,258.6 L660.0,264.4 L658.1,256.2 L657.1,257.7 L656.7,257.0Z M718.9,257.4 L718.9,256.7 L720.3,257.4 L718.2,250.4 L716.1,257.4 L717.5,256.7 L717.5,257.4Z M749.9,257.4 L749.9,256.9 L750.9,257.4 L749.4,252.4 L747.9,257.4 L748.9,256.9 L748.9,257.4Z M780.9,257.3 L780.8,256.9 L781.7,257.1 L779.5,253.4 L779.3,257.7 L780.0,257.1 L780.1,257.5Z M812.1,257.3 L812.0,256.9 L812.9,257.1 L810.7,253.4 L810.5,257.7 L811.2,257.1 L811.3,257.5Z M842.9,258.5 L844.0,258.4 L843.1,260.7 L853.8,256.4 L842.5,254.1 L843.8,256.2 L842.7,256.3Z M873.4,258.4 L883.9,264.2 L881.7,265.7 L894.0,268.4 L885.2,259.4 L885.1,262.1 L874.5,256.3Z M250.7,282.3 L251.1,282.7 L249.9,283.1 L255.1,285.9 L252.3,280.7 L251.9,281.9 L251.5,281.5Z M281.5,282.3 L281.9,283.0 L280.1,283.1 L286.2,288.9 L284.3,280.7 L283.3,282.2 L282.9,281.5Z M312.5,282.7 L320.1,290.8 L317.5,291.6 L328.4,297.9 L322.8,286.7 L321.9,289.2 L314.2,281.1Z M343.4,282.5 L349.4,293.9 L346.8,293.9 L355.5,302.9 L353.1,290.6 L351.6,292.8 L345.6,281.3Z M374.5,282.4 L386.4,311.4 L383.8,311.2 L391.7,320.9 L390.4,308.4 L388.7,310.5 L376.8,281.4Z M405.7,282.3 L423.8,330.2 L421.2,330.0 L428.8,339.9 L427.9,327.4 L426.1,329.4 L407.9,281.5Z M436.8,282.4 L455.6,326.4 L452.9,326.3 L460.9,335.9 L459.6,323.4 L457.8,325.5 L439.0,281.4Z M467.9,282.3 L474.5,302.0 L471.9,301.7 L479.1,311.9 L478.7,299.4 L476.8,301.3 L470.2,281.5Z M499.2,281.4 L497.0,285.7 L495.4,283.6 L493.2,295.9 L501.8,286.8 L499.1,286.8 L501.3,282.4Z M530.2,281.8 L528.5,296.0 L526.2,294.6 L528.4,306.9 L533.4,295.4 L530.9,296.3 L532.6,282.0Z M561.5,282.5 L564.7,287.5 L562.0,287.8 L571.5,295.9 L568.1,283.9 L566.7,286.2 L563.5,281.3Z M592.5,282.2 L593.5,285.8 L590.9,285.4 L597.7,295.9 L597.8,283.4 L595.8,285.2 L594.8,281.6Z M624.3,281.9 L624.3,282.4 L623.3,281.9 L624.8,286.9 L626.3,281.9 L625.3,282.4 L625.3,281.9Z M718.7,281.9 L718.7,281.4 L719.7,281.9 L718.2,276.9 L716.7,281.9 L717.7,281.4 L717.7,281.9Z M750.0,282.0 L750.1,281.4 L751.2,282.2 L750.4,275.9 L747.6,281.6 L748.9,281.2 L748.8,281.8Z M841.9,282.7 L848.1,290.3 L845.5,290.9 L855.8,297.9 L851.0,286.3 L849.9,288.8 L843.7,281.1Z M873.0,282.7 L891.0,303.5 L888.4,304.2 L899.0,310.9 L893.8,299.5 L892.8,301.9 L874.9,281.1Z M251.0,306.7 L251.3,306.8 L250.8,307.3 L254.1,307.4 L251.4,305.5 L251.5,306.2 L251.2,306.1Z M281.4,306.9 L281.9,307.7 L279.8,307.9 L287.2,314.4 L284.6,304.9 L283.5,306.7 L283.0,305.9Z M312.3,306.9 L317.8,319.1 L315.1,319.0 L323.4,328.4 L321.7,316.0 L320.0,318.1 L314.5,305.9Z M343.4,306.8 L349.1,324.5 L346.4,324.1 L353.5,334.4 L353.3,321.9 L351.4,323.8 L345.7,306.1Z M374.6,306.9 L397.9,356.2 L395.3,356.1 L403.7,365.4 L401.8,353.0 L400.1,355.2 L376.7,305.9Z M405.7,306.9 L429.2,358.1 L426.5,358.0 L434.8,367.4 L433.1,355.0 L431.4,357.1 L407.9,305.9Z M436.9,307.0 L457.9,347.4 L455.2,347.4 L463.9,356.4 L461.6,344.1 L460.0,346.3 L439.0,305.9Z M467.9,306.5 L471.0,345.8 L468.5,344.8 L473.1,356.4 L475.7,344.2 L473.4,345.6 L470.3,306.3Z M499.1,306.7 L500.8,315.1 L498.2,314.4 L504.2,325.4 L505.3,312.9 L503.2,314.6 L501.4,306.2Z M530.2,306.7 L533.1,321.1 L530.5,320.4 L536.4,331.4 L537.6,319.0 L535.4,320.6 L532.6,306.2Z M561.4,306.7 L561.7,307.8 L559.2,307.3 L565.5,317.4 L565.8,305.5 L563.9,307.2 L563.6,306.1Z M592.9,306.6 L593.1,307.4 L591.3,307.0 L595.7,314.4 L596.1,305.8 L594.7,307.0 L594.5,306.2Z M624.4,306.5 L624.5,306.9 L623.6,306.7 L625.8,310.4 L626.0,306.1 L625.3,306.7 L625.2,306.3Z M656.2,306.5 L656.4,306.2 L656.9,306.7 L657.0,303.4 L655.1,306.1 L655.8,306.0 L655.7,306.3Z M687.6,306.6 L687.8,306.1 L688.6,307.0 L689.1,301.4 L685.6,305.8 L686.8,305.7 L686.6,306.2Z M719.1,306.6 L719.3,305.7 L720.9,307.0 L720.2,297.4 L715.5,305.8 L717.5,305.3 L717.3,306.2Z M750.5,306.8 L750.9,305.7 L752.7,307.6 L753.4,295.4 L746.1,305.2 L748.7,304.9 L748.3,306.0Z M781.2,306.7 L781.5,306.0 L782.6,307.3 L783.5,299.4 L778.4,305.5 L780.1,305.4 L779.8,306.1Z M841.8,307.0 L843.6,310.5 L841.0,310.6 L849.8,319.4 L847.3,307.2 L845.7,309.4 L843.9,305.9Z M872.9,307.0 L876.1,313.3 L873.4,313.3 L882.0,322.4 L879.8,310.1 L878.2,312.2 L875.0,305.9Z M312.2,330.7 L311.8,332.2 L309.8,330.4 L310.4,343.0 L316.8,332.2 L314.2,332.8 L314.5,331.3Z M343.3,331.1 L345.5,359.3 L343.0,358.3 L347.5,370.0 L350.2,357.7 L347.9,359.1 L345.7,330.9Z M374.5,331.4 L388.0,370.1 L385.3,369.8 L392.7,380.0 L392.1,367.4 L390.3,369.4 L376.8,330.6Z M405.7,331.4 L417.9,364.3 L415.2,364.0 L422.8,374.0 L422.0,361.5 L420.2,363.4 L407.9,330.5Z M436.9,331.6 L448.6,352.2 L445.9,352.3 L454.9,361.0 L452.2,348.7 L450.7,351.0 L439.0,330.4Z M467.9,331.2 L472.1,356.5 L469.6,355.7 L475.1,367.0 L476.7,354.5 L474.5,356.1 L470.3,330.8Z M499.0,331.1 L502.4,353.5 L499.9,352.6 L505.2,364.0 L507.0,351.6 L504.8,353.1 L501.4,330.8Z M530.2,331.2 L532.7,341.7 L530.1,341.1 L536.4,352.0 L537.1,339.5 L535.0,341.2 L532.5,330.7Z M561.4,331.1 L561.5,332.2 L559.2,331.3 L563.5,342.0 L565.8,330.7 L563.7,332.0 L563.6,330.9Z M592.7,331.1 L592.8,332.1 L590.7,331.3 L594.7,341.0 L596.7,330.7 L594.8,331.9 L594.7,330.9Z M624.4,331.0 L624.4,331.4 L623.6,331.0 L624.8,335.0 L626.0,331.0 L625.2,331.4 L625.2,331.0Z M656.2,332.1 L657.3,331.9 L656.6,334.3 L667.0,329.0 L655.4,327.7 L656.9,329.7 L655.8,329.9Z M688.1,331.7 L690.6,328.3 L691.8,330.7 L696.1,319.0 L686.0,326.4 L688.7,326.9 L686.1,330.2Z M719.2,331.3 L719.5,330.3 L721.2,331.9 L721.2,321.0 L715.2,330.1 L717.5,329.7 L717.2,330.7Z M750.4,331.4 L750.8,330.4 L752.4,332.2 L753.4,321.0 L746.4,329.8 L748.8,329.6 L748.4,330.6Z M781.4,331.5 L781.9,330.6 L783.2,332.5 L785.5,322.0 L777.8,329.5 L780.1,329.6 L779.6,330.5Z M811.9,331.3 L812.2,331.1 L812.3,331.9 L814.7,329.0 L811.1,330.1 L811.8,330.5 L811.5,330.7Z M344.9,355.6 L345.0,355.2 L345.7,355.8 L345.5,351.5 L343.3,355.2 L344.2,355.0 L344.1,355.4Z M405.7,355.9 L411.7,370.9 L409.0,370.7 L416.8,380.5 L415.7,368.0 L413.9,370.0 L407.9,355.0Z M436.8,356.0 L438.6,360.0 L435.9,359.9 L443.9,369.5 L442.5,357.0 L440.8,359.1 L439.0,355.0Z M468.0,355.9 L469.3,359.7 L466.7,359.4 L474.1,369.5 L473.4,357.0 L471.6,358.9 L470.2,355.1Z M499.1,355.8 L500.1,359.4 L497.5,358.9 L504.2,369.5 L504.4,357.0 L502.4,358.8 L501.4,355.2Z M530.4,356.1 L535.7,364.9 L533.0,365.1 L542.4,373.5 L539.2,361.4 L537.8,363.6 L532.4,354.9Z M561.3,355.6 L561.6,360.8 L559.2,359.7 L563.5,371.5 L566.4,359.3 L564.0,360.6 L563.7,355.4Z M592.5,355.1 L591.7,357.8 L589.8,356.0 L589.7,368.5 L596.6,358.1 L594.0,358.5 L594.8,355.8Z M623.7,355.7 L623.9,356.8 L621.5,356.1 L626.8,366.5 L628.1,354.9 L626.1,356.4 L625.9,355.3Z M655.6,356.6 L656.7,357.0 L654.8,358.8 L667.0,359.5 L657.2,352.2 L657.5,354.8 L656.4,354.4Z M688.1,356.1 L692.4,349.3 L693.8,351.6 L697.1,339.5 L687.7,347.8 L690.4,348.0 L686.1,354.9Z M719.3,355.9 L719.7,354.8 L721.5,356.7 L722.2,344.5 L714.9,354.3 L717.5,354.0 L717.1,355.1Z M750.1,356.0 L750.6,355.3 L751.5,357.0 L754.4,348.5 L747.3,354.0 L749.2,354.3 L748.7,355.0Z M780.8,355.7 L781.0,355.4 L781.4,356.1 L782.5,352.5 L779.6,354.9 L780.4,355.0 L780.2,355.3Z M688.3,380.0 L688.3,378.8 L690.7,380.0 L687.1,368.0 L683.5,380.0 L685.9,378.8 L685.9,380.0Z M719.3,380.6 L720.1,379.1 L721.7,381.3 L724.2,369.0 L715.3,377.8 L718.0,377.9 L717.2,379.4Z M750.1,380.9 L751.0,380.2 L751.5,382.7 L758.4,373.0 L747.3,377.3 L749.6,378.4 L748.7,379.1Z"/>
</g>
</g>
<rect x="74.6" y="518.1" width="830.5" height="343.4" fill="none" stroke="#000" stroke-width="2.6"/>
<text transform="translate(33.00,16.80) scale(1,1.05)" font-size="29.5" font-weight="bold">a</text>
<text transform="translate(489.80,21.20) scale(1,1.0)" font-size="30" text-anchor="middle">D0JF1(300hPa)</text>
<text transform="translate(66.30,69.80) scale(1,1.1)" font-size="29.5" text-anchor="end">65°N</text>
<text transform="translate(66.30,167.80) scale(1,1.1)" font-size="29.5" text-anchor="end">45°N</text>
<text transform="translate(66.30,265.80) scale(1,1.1)" font-size="29.5" text-anchor="end">25°N</text>
<text transform="translate(66.30,363.80) scale(1,1.1)" font-size="29.5" text-anchor="end">5°N</text>
<text transform="translate(76.10,412.00) scale(1,1.1)" font-size="29.5" text-anchor="middle">100°E</text>
<text transform="translate(282.20,412.00) scale(1,1.1)" font-size="29.5" text-anchor="middle">150°E</text>
<text transform="translate(489.60,412.00) scale(1,1.1)" font-size="29.5" text-anchor="middle">160°W</text>
<text transform="translate(697.20,412.00) scale(1,1.1)" font-size="29.5" text-anchor="middle">110°W</text>
<text transform="translate(904.30,412.00) scale(1,1.1)" font-size="29.5" text-anchor="middle">60°W</text>
<rect x="154.00" y="432.4" width="71.86" height="12.5" fill="#774408"/>
<rect x="225.56" y="432.4" width="71.86" height="12.5" fill="#B97B28"/>
<rect x="297.11" y="432.4" width="71.86" height="12.5" fill="#E2C786"/>
<rect x="368.67" y="432.4" width="71.86" height="12.5" fill="#F5E9C6"/>
<rect x="440.22" y="432.4" width="71.86" height="12.5" fill="#F4F4F4"/>
<rect x="511.78" y="432.4" width="71.86" height="12.5" fill="#C8EAE5"/>
<rect x="583.33" y="432.4" width="71.86" height="12.5" fill="#86CFC4"/>
<rect x="654.89" y="432.4" width="71.86" height="12.5" fill="#2C8F87"/>
<rect x="726.44" y="432.4" width="71.86" height="12.5" fill="#00544B"/>
<rect x="154.0" y="432.4" width="644.0" height="12.5" fill="none" stroke="#000" stroke-width="2.1"/>
<line x1="154.00" y1="444.9" x2="154.00" y2="447.9" stroke="#000" stroke-width="1.2"/>
<text transform="translate(154.00,469.30) scale(1,1.06)" font-size="19.7" text-anchor="middle">−4.0</text>
<line x1="225.56" y1="444.9" x2="225.56" y2="447.9" stroke="#000" stroke-width="1.2"/>
<text transform="translate(225.56,469.30) scale(1,1.06)" font-size="19.7" text-anchor="middle">−3.0</text>
<line x1="297.11" y1="444.9" x2="297.11" y2="447.9" stroke="#000" stroke-width="1.2"/>
<text transform="translate(297.11,469.30) scale(1,1.06)" font-size="19.7" text-anchor="middle">−2.0</text>
<line x1="368.67" y1="444.9" x2="368.67" y2="447.9" stroke="#000" stroke-width="1.2"/>
<text transform="translate(368.67,469.30) scale(1,1.06)" font-size="19.7" text-anchor="middle">−1.0</text>
<line x1="440.22" y1="444.9" x2="440.22" y2="447.9" stroke="#000" stroke-width="1.2"/>
<text transform="translate(440.22,469.30) scale(1,1.06)" font-size="19.7" text-anchor="middle">−0.5</text>
<line x1="511.78" y1="444.9" x2="511.78" y2="447.9" stroke="#000" stroke-width="1.2"/>
<text transform="translate(511.78,469.30) scale(1,1.06)" font-size="19.7" text-anchor="middle">0.5</text>
<line x1="583.33" y1="444.9" x2="583.33" y2="447.9" stroke="#000" stroke-width="1.2"/>
<text transform="translate(583.33,469.30) scale(1,1.06)" font-size="19.7" text-anchor="middle">1.0</text>
<line x1="654.89" y1="444.9" x2="654.89" y2="447.9" stroke="#000" stroke-width="1.2"/>
<text transform="translate(654.89,469.30) scale(1,1.06)" font-size="19.7" text-anchor="middle">2.0</text>
<line x1="726.44" y1="444.9" x2="726.44" y2="447.9" stroke="#000" stroke-width="1.2"/>
<text transform="translate(726.44,469.30) scale(1,1.06)" font-size="19.7" text-anchor="middle">3.0</text>
<line x1="798.00" y1="444.9" x2="798.00" y2="447.9" stroke="#000" stroke-width="1.2"/>
<text transform="translate(798.00,469.30) scale(1,1.06)" font-size="19.7" text-anchor="middle">4.0</text>
<text transform="translate(33.00,498.30) scale(1,1.05)" font-size="29.5" font-weight="bold">b</text>
<text transform="translate(489.80,502.70) scale(1,1.0)" font-size="30" text-anchor="middle">Mar1(300hPa)</text>
<text transform="translate(66.30,551.30) scale(1,1.1)" font-size="29.5" text-anchor="end">65°N</text>
<text transform="translate(66.30,649.30) scale(1,1.1)" font-size="29.5" text-anchor="end">45°N</text>
<text transform="translate(66.30,747.30) scale(1,1.1)" font-size="29.5" text-anchor="end">25°N</text>
<text transform="translate(66.30,845.30) scale(1,1.1)" font-size="29.5" text-anchor="end">5°N</text>
<text transform="translate(76.10,893.50) scale(1,1.1)" font-size="29.5" text-anchor="middle">100°E</text>
<text transform="translate(282.20,893.50) scale(1,1.1)" font-size="29.5" text-anchor="middle">150°E</text>
<text transform="translate(489.60,893.50) scale(1,1.1)" font-size="29.5" text-anchor="middle">160°W</text>
<text transform="translate(697.20,893.50) scale(1,1.1)" font-size="29.5" text-anchor="middle">110°W</text>
<text transform="translate(904.30,897.50) scale(1,1.1)" font-size="29.5" text-anchor="middle">60°W</text>
<rect x="154.00" y="913.9" width="71.86" height="12.5" fill="#774408"/>
<rect x="225.56" y="913.9" width="71.86" height="12.5" fill="#B97B28"/>
<rect x="297.11" y="913.9" width="71.86" height="12.5" fill="#E2C786"/>
<rect x="368.67" y="913.9" width="71.86" height="12.5" fill="#F5E9C6"/>
<rect x="440.22" y="913.9" width="71.86" height="12.5" fill="#F4F4F4"/>
<rect x="511.78" y="913.9" width="71.86" height="12.5" fill="#C8EAE5"/>
<rect x="583.33" y="913.9" width="71.86" height="12.5" fill="#86CFC4"/>
<rect x="654.89" y="913.9" width="71.86" height="12.5" fill="#2C8F87"/>
<rect x="726.44" y="913.9" width="71.86" height="12.5" fill="#00544B"/>
<rect x="154.0" y="913.9" width="644.0" height="12.5" fill="none" stroke="#000" stroke-width="2.1"/>
<line x1="154.00" y1="926.4" x2="154.00" y2="929.4" stroke="#000" stroke-width="1.2"/>
<text transform="translate(154.00,950.80) scale(1,1.06)" font-size="19.7" text-anchor="middle">−4.0</text>
<line x1="225.56" y1="926.4" x2="225.56" y2="929.4" stroke="#000" stroke-width="1.2"/>
<text transform="translate(225.56,950.80) scale(1,1.06)" font-size="19.7" text-anchor="middle">−3.0</text>
<line x1="297.11" y1="926.4" x2="297.11" y2="929.4" stroke="#000" stroke-width="1.2"/>
<text transform="translate(297.11,950.80) scale(1,1.06)" font-size="19.7" text-anchor="middle">−2.0</text>
<line x1="368.67" y1="926.4" x2="368.67" y2="929.4" stroke="#000" stroke-width="1.2"/>
<text transform="translate(368.67,950.80) scale(1,1.06)" font-size="19.7" text-anchor="middle">−1.0</text>
<line x1="440.22" y1="926.4" x2="440.22" y2="929.4" stroke="#000" stroke-width="1.2"/>
<text transform="translate(440.22,950.80) scale(1,1.06)" font-size="19.7" text-anchor="middle">−0.5</text>
<line x1="511.78" y1="926.4" x2="511.78" y2="929.4" stroke="#000" stroke-width="1.2"/>
<text transform="translate(511.78,950.80) scale(1,1.06)" font-size="19.7" text-anchor="middle">0.5</text>
<line x1="583.33" y1="926.4" x2="583.33" y2="929.4" stroke="#000" stroke-width="1.2"/>
<text transform="translate(583.33,950.80) scale(1,1.06)" font-size="19.7" text-anchor="middle">1.0</text>
<line x1="654.89" y1="926.4" x2="654.89" y2="929.4" stroke="#000" stroke-width="1.2"/>
<text transform="translate(654.89,950.80) scale(1,1.06)" font-size="19.7" text-anchor="middle">2.0</text>
<line x1="726.44" y1="926.4" x2="726.44" y2="929.4" stroke="#000" stroke-width="1.2"/>
<text transform="translate(726.44,950.80) scale(1,1.06)" font-size="19.7" text-anchor="middle">3.0</text>
<line x1="798.00" y1="926.4" x2="798.00" y2="929.4" stroke="#000" stroke-width="1.2"/>
<text transform="translate(798.00,950.80) scale(1,1.06)" font-size="19.7" text-anchor="middle">4.0</text>
<text transform="translate(813.50,948.00) scale(1,1.1)" font-size="25">2</text>
<text transform="translate(835.00,948.00) scale(1,1.1)" font-size="25">m</text>
<text transform="translate(856.50,941.00) scale(1,1.1)" font-size="17">2</text>
<text transform="translate(869.50,948.00) scale(1,1.1)" font-size="25">s</text>
<text transform="translate(882.50,941.00) scale(1,1.1)" font-size="17">-2</text>
<path fill="#000" d="M807.0,959.4 L885.2,959.4 L884.0,961.8 L896.0,958.2 L884.0,954.6 L885.2,957.0 L807.0,957.0Z"/>
</svg></body></html>
